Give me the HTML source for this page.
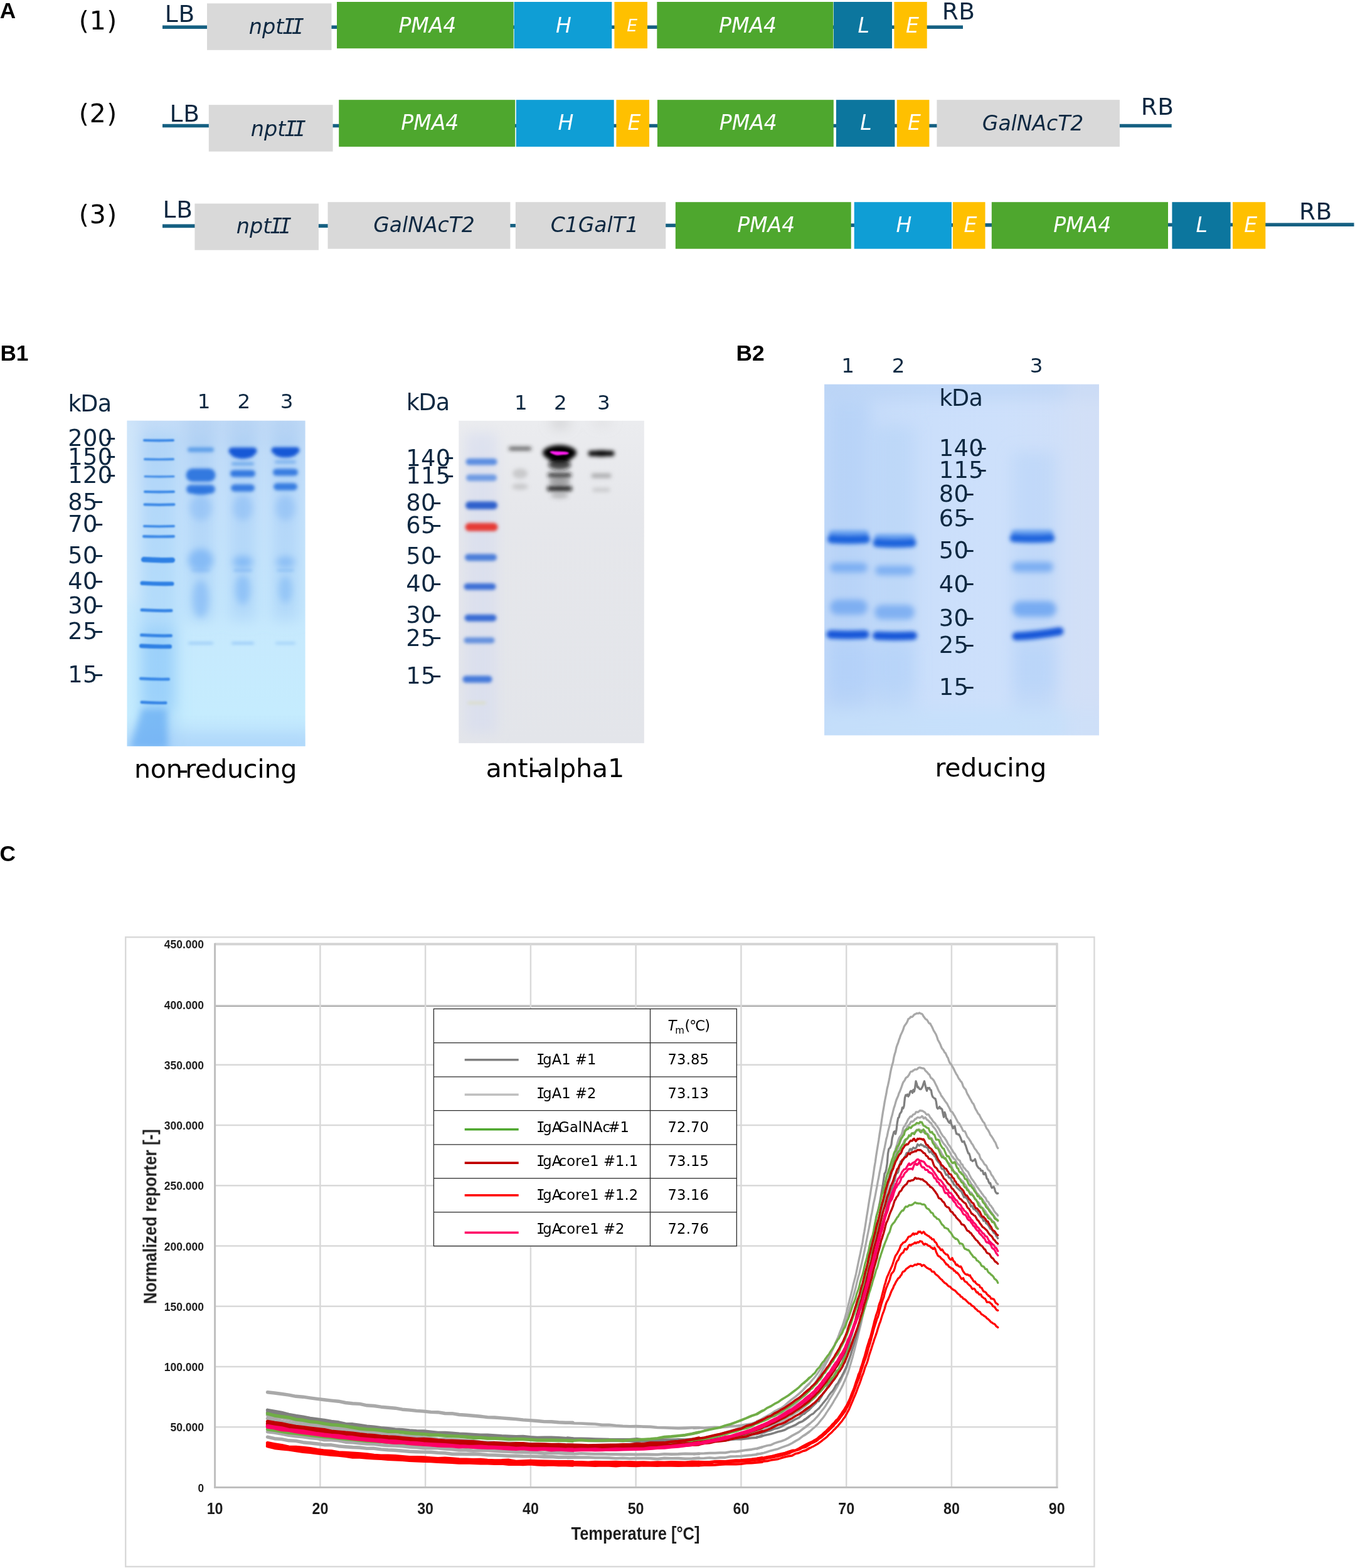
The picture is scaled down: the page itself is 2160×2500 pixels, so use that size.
<!DOCTYPE html>
<html lang="en">
<head>
<meta charset="utf-8">
<title>Figure: IgA1 constructs, SDS-PAGE / western blot, thermal stability</title>
<style>
html,body{margin:0;padding:0;background:#ffffff;}
body{width:2160px;height:2500px;overflow:hidden;font-family:"Liberation Sans","DejaVu Sans",sans-serif;}
#fig{position:absolute;left:0;top:0;width:2160px;height:2500px;display:block;}
</style>
</head>
<body>
<svg id="fig" width="2160" height="2500" viewBox="0 0 2160 2500">
<rect x="0" y="0" width="2160" height="2500" fill="#ffffff"/>
<g id="panelA" font-family="'DejaVu Sans', 'Liberation Sans', sans-serif">
<line x1="259" y1="43.20" x2="1535.0" y2="43.20" stroke="#156082" stroke-width="5.6"/>
<rect x="330.0" y="5.4" width="198.5" height="74.4" fill="#d9d9d9"/>
<rect x="537.0" y="3.0" width="281.6" height="74.2" fill="#4ea72e"/>
<rect x="819.6" y="3.0" width="155.7" height="74.2" fill="#0f9ed5"/>
<rect x="979.4" y="3.0" width="52.6" height="74.2" fill="#ffc000"/>
<rect x="1047.3" y="3.0" width="281.0" height="74.2" fill="#4ea72e"/>
<rect x="1328.9" y="3.0" width="93.1" height="74.2" fill="#0c769e"/>
<rect x="1425.4" y="3.0" width="52.3" height="74.2" fill="#ffc000"/>
<text x="396.8" y="53.6" font-size="33.5" fill="#0e2841" font-style="italic">npt<tspan font-family="'DejaVu Sans Mono', 'Liberation Mono', monospace" letter-spacing="-5.6" dx="-2.2">II</tspan></text>
<text x="681.4" y="52.0" font-size="33" fill="#ffffff" text-anchor="middle" font-style="italic">PMA4</text>
<text x="898.5" y="52.0" font-size="33" fill="#ffffff" text-anchor="middle" font-style="italic">H</text>
<text x="1007.5" y="50.3" font-size="26.5" fill="#ffffff" text-anchor="middle" font-style="italic">E</text>
<text x="1192.0" y="51.6" font-size="33" fill="#ffffff" text-anchor="middle" font-style="italic">PMA4</text>
<text x="1376.6" y="51.6" font-size="33" fill="#ffffff" text-anchor="middle" font-style="italic">L</text>
<text x="1454.5" y="51.6" font-size="33" fill="#ffffff" text-anchor="middle" font-style="italic">E</text>
<text x="156.5" y="47.0" font-size="41" fill="#000000" text-anchor="middle" letter-spacing="1.2">(1)</text>
<text x="262.7" y="34.5" font-size="37.5" fill="#0e2841" text-anchor="start" letter-spacing="0.8">LB</text>
<text x="1501.8" y="30.8" font-size="37.5" fill="#0e2841" text-anchor="start" letter-spacing="0.5">RB</text>
<line x1="259" y1="200.50" x2="1867.7" y2="200.50" stroke="#156082" stroke-width="5.6"/>
<rect x="332.8" y="167.2" width="197.8" height="74.4" fill="#d9d9d9"/>
<rect x="540.2" y="159.2" width="281.0" height="74.7" fill="#4ea72e"/>
<rect x="822.8" y="159.2" width="155.9" height="74.7" fill="#0f9ed5"/>
<rect x="982.4" y="159.2" width="52.6" height="74.7" fill="#ffc000"/>
<rect x="1047.9" y="159.2" width="280.9" height="74.7" fill="#4ea72e"/>
<rect x="1332.9" y="159.2" width="93.5" height="74.7" fill="#0c769e"/>
<rect x="1429.7" y="159.2" width="51.7" height="74.7" fill="#ffc000"/>
<rect x="1493.4" y="159.2" width="291.5" height="74.7" fill="#d9d9d9"/>
<text x="399.8" y="216.5" font-size="33.5" fill="#0e2841" font-style="italic">npt<tspan font-family="'DejaVu Sans Mono', 'Liberation Mono', monospace" letter-spacing="-5.6" dx="-2.2">II</tspan></text>
<text x="685.3" y="207.2" font-size="33" fill="#ffffff" text-anchor="middle" font-style="italic">PMA4</text>
<text x="902.0" y="207.2" font-size="33" fill="#ffffff" text-anchor="middle" font-style="italic">H</text>
<text x="1011.0" y="207.2" font-size="33" fill="#ffffff" text-anchor="middle" font-style="italic">E</text>
<text x="1192.8" y="207.2" font-size="33" fill="#ffffff" text-anchor="middle" font-style="italic">PMA4</text>
<text x="1380.5" y="207.2" font-size="33" fill="#ffffff" text-anchor="middle" font-style="italic">L</text>
<text x="1457.5" y="207.2" font-size="33" fill="#ffffff" text-anchor="middle" font-style="italic">E</text>
<text x="1646.6" y="207.6" font-size="33" fill="#0e2841" text-anchor="middle" font-style="italic">GalNAcT2</text>
<text x="156.5" y="194.7" font-size="41" fill="#000000" text-anchor="middle" letter-spacing="1.2">(2)</text>
<text x="270.5" y="193.7" font-size="37.5" fill="#0e2841" text-anchor="start" letter-spacing="0.8">LB</text>
<text x="1818.8" y="182.6" font-size="37.5" fill="#0e2841" text-anchor="start" letter-spacing="0.5">RB</text>
<line x1="259" y1="360.40" x2="2158.5" y2="358.10" stroke="#156082" stroke-width="5.6"/>
<rect x="310.4" y="324.6" width="197.5" height="74.1" fill="#d9d9d9"/>
<rect x="522.5" y="322.2" width="290.9" height="74.5" fill="#d9d9d9"/>
<rect x="821.8" y="322.2" width="239.4" height="74.5" fill="#d9d9d9"/>
<rect x="1076.8" y="322.2" width="279.9" height="74.5" fill="#4ea72e"/>
<rect x="1361.7" y="322.2" width="155.2" height="74.5" fill="#0f9ed5"/>
<rect x="1518.9" y="322.2" width="51.6" height="74.5" fill="#ffc000"/>
<rect x="1580.8" y="322.2" width="281.2" height="74.5" fill="#4ea72e"/>
<rect x="1868.4" y="322.2" width="93.2" height="74.5" fill="#0c769e"/>
<rect x="1965.0" y="322.2" width="52.3" height="74.5" fill="#ffc000"/>
<text x="376.7" y="372.2" font-size="33.5" fill="#0e2841" font-style="italic">npt<tspan font-family="'DejaVu Sans Mono', 'Liberation Mono', monospace" letter-spacing="-5.6" dx="-2.2">II</tspan></text>
<text x="676.0" y="369.8" font-size="33" fill="#0e2841" text-anchor="middle" font-style="italic">GalNAcT2</text>
<text x="947.8" y="369.8" font-size="33" fill="#0e2841" text-anchor="middle" font-style="italic">C1GalT1</text>
<text x="1221.2" y="369.8" font-size="33" fill="#ffffff" text-anchor="middle" font-style="italic">PMA4</text>
<text x="1441.0" y="369.8" font-size="33" fill="#ffffff" text-anchor="middle" font-style="italic">H</text>
<text x="1547.0" y="369.8" font-size="33" fill="#ffffff" text-anchor="middle" font-style="italic">E</text>
<text x="1725.2" y="369.8" font-size="33" fill="#ffffff" text-anchor="middle" font-style="italic">PMA4</text>
<text x="1915.6" y="369.8" font-size="33" fill="#ffffff" text-anchor="middle" font-style="italic">L</text>
<text x="1993.6" y="369.8" font-size="33" fill="#ffffff" text-anchor="middle" font-style="italic">E</text>
<text x="156.5" y="356.4" font-size="41" fill="#000000" text-anchor="middle" letter-spacing="1.2">(3)</text>
<text x="259.5" y="347.0" font-size="37.5" fill="#0e2841" text-anchor="start" letter-spacing="0.8">LB</text>
<text x="2070.9" y="350.4" font-size="37.5" fill="#0e2841" text-anchor="start" letter-spacing="0.5">RB</text>
</g>
<g id="panelLabels" font-family="'Liberation Sans', sans-serif" font-weight="bold" font-size="35.2" fill="#000000">
<text x="-0.3" y="28.8">A</text>
<text x="0.4" y="574.6">B1</text>
<text x="1173.6" y="574.6">B2</text>
<text x="-0.6" y="1373.4">C</text>
</g>
<g id="gel-nonreducing">
<defs>
<clipPath id="g1clip"><rect x="202.5" y="670.7" width="284.1" height="519.1"/></clipPath>
<filter id="b1" filterUnits="userSpaceOnUse" x="150" y="620" width="400" height="620"><feGaussianBlur stdDeviation="1.3"/></filter>
<filter id="b2" filterUnits="userSpaceOnUse" x="150" y="620" width="400" height="620"><feGaussianBlur stdDeviation="2.4"/></filter>
<filter id="b6" filterUnits="userSpaceOnUse" x="150" y="620" width="400" height="620"><feGaussianBlur stdDeviation="6"/></filter>
<filter id="b12" filterUnits="userSpaceOnUse" x="150" y="620" width="400" height="620"><feGaussianBlur stdDeviation="11"/></filter>
<linearGradient id="g1bg" x1="0" y1="0" x2="0" y2="1">
<stop offset="0" stop-color="#c3dcf7"/><stop offset="0.25" stop-color="#c8e3fb"/><stop offset="0.6" stop-color="#c7e9fd"/><stop offset="0.9" stop-color="#c5ecfe"/><stop offset="1" stop-color="#bce1fc"/>
</linearGradient>
</defs>
<rect x="202.5" y="670.7" width="284.1" height="519.1" rx="0" fill="url(#g1bg)" fill-opacity="1.0"/>
<g clip-path="url(#g1clip)">
<g filter="url(#b12)">
<rect x="222.0" y="690.0" width="60.0" height="520.0" rx="0" fill="#8cc4f8" fill-opacity="0.36"/>
<rect x="190.0" y="660.0" width="30.0" height="300.0" rx="0" fill="#d8ecfc" fill-opacity="0.6"/>
<rect x="298.0" y="700.0" width="44.0" height="290.0" rx="0" fill="#8fc0f4" fill-opacity="0.36"/>
<rect x="294.0" y="660.0" width="52.0" height="50.0" rx="0" fill="#9fc4ee" fill-opacity="0.35"/>
<rect x="365.0" y="700.0" width="44.0" height="290.0" rx="0" fill="#8fc0f4" fill-opacity="0.36"/>
<rect x="361.0" y="660.0" width="52.0" height="50.0" rx="0" fill="#9fc4ee" fill-opacity="0.35"/>
<rect x="433.0" y="700.0" width="44.0" height="290.0" rx="0" fill="#8fc0f4" fill-opacity="0.36"/>
<rect x="429.0" y="660.0" width="52.0" height="50.0" rx="0" fill="#9fc4ee" fill-opacity="0.35"/>
<rect x="200.0" y="1168.0" width="300.0" height="40.0" rx="0" fill="#a9d2fa" fill-opacity="0.6"/>
<rect x="226.0" y="1000.0" width="52.0" height="130.0" rx="0" fill="#7cc0fa" fill-opacity="0.4"/>
</g>
<g filter="url(#b6)">
<ellipse cx="320.0" cy="893.0" rx="20.0" ry="18.0" fill="#5fa3f2" fill-opacity="0.55"/>
<ellipse cx="387.0" cy="896.0" rx="16.0" ry="10.0" fill="#5fa3f2" fill-opacity="0.55"/>
<ellipse cx="455.0" cy="896.0" rx="15.0" ry="9.0" fill="#5fa3f2" fill-opacity="0.5"/>
<ellipse cx="320.0" cy="955.0" rx="13.0" ry="30.0" fill="#5fa3f2" fill-opacity="0.4"/>
<ellipse cx="387.0" cy="940.0" rx="12.0" ry="24.0" fill="#5fa3f2" fill-opacity="0.42"/>
<ellipse cx="455.0" cy="940.0" rx="11.0" ry="22.0" fill="#5fa3f2" fill-opacity="0.36"/>
<ellipse cx="320.0" cy="810.0" rx="18.0" ry="20.0" fill="#5fa3f2" fill-opacity="0.3"/>
<ellipse cx="387.0" cy="810.0" rx="16.0" ry="20.0" fill="#5fa3f2" fill-opacity="0.3"/>
<ellipse cx="455.0" cy="810.0" rx="16.0" ry="20.0" fill="#5fa3f2" fill-opacity="0.3"/>
<path d="M226,1130 L266,1130 L268,1195 L206,1195 Z" fill="#5ba4f2" fill-opacity="0.62"/>
</g>
<g filter="url(#b1)">
<path d="M230.1,702.0 Q253.0,702.9 275.9,702.0" fill="none" stroke="#2f80e4" stroke-opacity="0.9" stroke-width="4.2" stroke-linecap="round"/>
<path d="M230.8,732.1 Q253.5,733.0 276.2,732.1" fill="none" stroke="#2f80e4" stroke-opacity="0.85" stroke-width="3.6" stroke-linecap="round"/>
<path d="M231.2,759.6 Q254.0,760.5 276.8,759.6" fill="none" stroke="#2f80e4" stroke-opacity="0.85" stroke-width="3.4" stroke-linecap="round"/>
<path d="M231.1,784.0 Q254.0,784.9 276.9,784.0" fill="none" stroke="#2f80e4" stroke-opacity="0.9" stroke-width="4.2" stroke-linecap="round"/>
<path d="M230.7,804.4 Q254.0,805.3 277.3,804.4" fill="none" stroke="#2f80e4" stroke-opacity="0.9" stroke-width="4.4" stroke-linecap="round"/>
<path d="M229.9,838.9 Q253.5,839.8 277.1,838.9" fill="none" stroke="#2f80e4" stroke-opacity="0.9" stroke-width="3.8" stroke-linecap="round"/>
<path d="M229.2,855.2 Q253.0,856.1 276.8,855.2" fill="none" stroke="#2f80e4" stroke-opacity="0.9" stroke-width="4.4" stroke-linecap="round"/>
<path d="M229.2,892.1 Q252.0,893.5 274.8,893.1" fill="none" stroke="#2f80e4" stroke-opacity="1.0" stroke-width="8.5" stroke-linecap="round"/>
<path d="M226.8,929.8 Q250.5,931.2 274.2,930.8" fill="none" stroke="#2f80e4" stroke-opacity="1.0" stroke-width="6.6" stroke-linecap="round"/>
<path d="M226.0,972.6 Q249.5,974.0 273.0,973.6" fill="none" stroke="#2f80e4" stroke-opacity="0.95" stroke-width="5.0" stroke-linecap="round"/>
<path d="M225.5,1012.6 Q249.0,1014.0 272.5,1013.6" fill="none" stroke="#2f80e4" stroke-opacity="0.95" stroke-width="5.0" stroke-linecap="round"/>
<path d="M225.3,1029.9 Q248.0,1031.3 270.7,1030.9" fill="none" stroke="#2f80e4" stroke-opacity="1.0" stroke-width="6.6" stroke-linecap="round"/>
<path d="M224.3,1081.9 Q246.5,1083.3 268.7,1082.9" fill="none" stroke="#2f80e4" stroke-opacity="0.9" stroke-width="4.6" stroke-linecap="round"/>
<path d="M225.8,1119.6 Q245.0,1121.0 264.2,1120.6" fill="none" stroke="#2f80e4" stroke-opacity="0.95" stroke-width="4.6" stroke-linecap="round"/>
</g>
<g filter="url(#b2)">
<rect x="299.0" y="713.2" width="42.0" height="7.5" rx="3.8" fill="#4f95e6" fill-opacity="0.85"/>
<rect x="296.5" y="747.0" width="47.0" height="21.0" rx="10.5" fill="#2a74de" fill-opacity="0.95"/>
<rect x="297.0" y="773.0" width="46.0" height="14.0" rx="7.0" fill="#2a74de" fill-opacity="0.92"/>
<ellipse cx="320.0" cy="783.5" rx="17.0" ry="5.5" fill="#2a74de" fill-opacity="0.8"/>
<rect x="364.5" y="713.5" width="45.0" height="11.0" rx="5.5" fill="#1659d6" fill-opacity="1"/>
<ellipse cx="387.0" cy="723.0" rx="19.0" ry="8.5" fill="#1659d6" fill-opacity="1"/>
<rect x="369.0" y="737.0" width="36.0" height="5.0" rx="2.5" fill="#4f95e6" fill-opacity="0.7"/>
<rect x="367.0" y="749.5" width="40.0" height="11.0" rx="5.5" fill="#2a74de" fill-opacity="0.95"/>
<rect x="368.0" y="772.2" width="38.0" height="11.5" rx="5.8" fill="#2a74de" fill-opacity="0.92"/>
<rect x="432.5" y="713.0" width="45.0" height="10.0" rx="5.0" fill="#1659d6" fill-opacity="1"/>
<ellipse cx="455.0" cy="721.5" rx="19.0" ry="8.0" fill="#1659d6" fill-opacity="1"/>
<rect x="438.0" y="734.2" width="34.0" height="4.5" rx="2.2" fill="#4f95e6" fill-opacity="0.6"/>
<rect x="435.0" y="747.5" width="40.0" height="11.0" rx="5.5" fill="#2a74de" fill-opacity="0.92"/>
<rect x="436.0" y="770.2" width="38.0" height="11.5" rx="5.8" fill="#2a74de" fill-opacity="0.9"/>
<rect x="305.0" y="908.0" width="30.0" height="3.0" rx="1.5" fill="#5a9ff0" fill-opacity="0.35"/>
<rect x="372.0" y="908.0" width="30.0" height="3.0" rx="1.5" fill="#5a9ff0" fill-opacity="0.6"/>
<rect x="441.0" y="908.0" width="28.0" height="3.0" rx="1.5" fill="#5a9ff0" fill-opacity="0.5"/>
<rect x="300.0" y="1024.0" width="40.0" height="3.0" rx="1.5" fill="#6aaaf2" fill-opacity="0.6"/>
<rect x="369.0" y="1024.0" width="36.0" height="3.0" rx="1.5" fill="#6aaaf2" fill-opacity="0.65"/>
<rect x="439.0" y="1024.0" width="32.0" height="3.0" rx="1.5" fill="#6aaaf2" fill-opacity="0.5"/>
</g>
</g>
<g font-family="'DejaVu Sans', 'Liberation Sans', sans-serif" fill="#0e2841">
<text x="108.6" y="655.8" font-size="36.6">k<tspan dx="-1.6">D</tspan><tspan dx="-0.6">a</tspan></text>
<text x="325.2" y="651.4" font-size="32.5" text-anchor="middle">1</text>
<text x="388.9" y="651.4" font-size="32.5" text-anchor="middle">2</text>
<text x="457" y="651.4" font-size="32.5" text-anchor="middle">3</text>
</g>
<g font-family="'DejaVu Sans', 'Liberation Sans', sans-serif" font-size="36.8" fill="#0e2841">
<text x="108.2" y="711.4" letter-spacing="0.4">200</text>
<text transform="translate(168.0,710.2) scale(1.32,1)">-</text>
<text x="108.2" y="740.6" letter-spacing="0.4">150</text>
<text transform="translate(168.0,739.4) scale(1.32,1)">-</text>
<text x="108.2" y="769.7" letter-spacing="0.4">120</text>
<text transform="translate(168.0,768.5) scale(1.32,1)">-</text>
<text x="108.2" y="812.6" letter-spacing="0.4">85</text>
<text transform="translate(147.9,811.4) scale(1.32,1)">-</text>
<text x="108.2" y="847.9" letter-spacing="0.4">70</text>
<text transform="translate(147.9,846.7) scale(1.32,1)">-</text>
<text x="108.2" y="898.1" letter-spacing="0.4">50</text>
<text transform="translate(147.9,896.9) scale(1.32,1)">-</text>
<text x="108.2" y="938.7" letter-spacing="0.4">40</text>
<text transform="translate(147.9,937.5) scale(1.32,1)">-</text>
<text x="108.2" y="978.2" letter-spacing="0.4">30</text>
<text transform="translate(147.9,977.0) scale(1.32,1)">-</text>
<text x="108.2" y="1019.1" letter-spacing="0.4">25</text>
<text transform="translate(147.9,1017.9) scale(1.32,1)">-</text>
<text x="108.2" y="1088.2" letter-spacing="0.4">15</text>
<text transform="translate(147.9,1087.0) scale(1.32,1)">-</text>
</g>
<text x="214" y="1240.4" font-family="'DejaVu Sans', 'Liberation Sans', sans-serif" font-size="41.3" fill="#000000" letter-spacing="-0.3">non<tspan dx="-6.5" dy="1.2" font-size="45">-</tspan><tspan dx="-5" dy="-1.2">reducing</tspan></text>
</g>
<g id="blot-anti-alpha1">
<defs>
<clipPath id="wbclip"><rect x="731.3" y="670.8" width="295.5" height="514.1"/></clipPath>
<filter id="w2" filterUnits="userSpaceOnUse" x="700" y="640" width="360" height="580"><feGaussianBlur stdDeviation="2.7"/></filter>
<filter id="w3" filterUnits="userSpaceOnUse" x="700" y="640" width="360" height="580"><feGaussianBlur stdDeviation="3.2"/></filter>
<filter id="w1" filterUnits="userSpaceOnUse" x="700" y="640" width="360" height="580"><feGaussianBlur stdDeviation="0.8"/></filter>
<filter id="w10" filterUnits="userSpaceOnUse" x="700" y="640" width="360" height="580"><feGaussianBlur stdDeviation="10"/></filter>
<linearGradient id="wbbg" x1="0" y1="0" x2="0" y2="1">
<stop offset="0" stop-color="#ebecef"/><stop offset="0.3" stop-color="#e6e7eb"/><stop offset="1" stop-color="#e3e5ea"/>
</linearGradient>
</defs>
<rect x="731.3" y="670.8" width="295.5" height="514.1" rx="0" fill="url(#wbbg)" fill-opacity="1.0"/>
<g clip-path="url(#wbclip)">
<g filter="url(#w10)">
<rect x="742.0" y="690.0" width="50.0" height="480.0" rx="0" fill="#d5dcf0" fill-opacity="0.6"/>
<ellipse cx="893.0" cy="674.0" rx="16.0" ry="8.0" fill="#b0b0b0" fill-opacity="0.5"/>
<ellipse cx="960.0" cy="672.0" rx="14.0" ry="6.0" fill="#c0c0c0" fill-opacity="0.4"/>
</g>
<g filter="url(#w2)">
<rect x="742.5" y="731.1" width="50.0" height="10.5" rx="5.2" fill="#5589e0" fill-opacity="0.95"/>
<rect x="743.0" y="756.4" width="49.0" height="10.5" rx="5.2" fill="#6493e2" fill-opacity="0.9"/>
<rect x="742.0" y="799.5" width="51.0" height="12.5" rx="6.2" fill="#2d60cc" fill-opacity="1"/>
<rect x="741.5" y="833.8" width="52.0" height="13.0" rx="6.5" fill="#e63a36" fill-opacity="1"/>
<rect x="741.0" y="883.2" width="51.0" height="11.0" rx="5.5" fill="#4579d8" fill-opacity="0.95"/>
<rect x="739.5" y="930.0" width="51.0" height="10.5" rx="5.2" fill="#3c70d6" fill-opacity="1"/>
<rect x="740.5" y="979.7" width="51.0" height="11.0" rx="5.5" fill="#386cd4" fill-opacity="1"/>
<rect x="739.5" y="1016.2" width="49.0" height="9.5" rx="4.8" fill="#5687dc" fill-opacity="0.9"/>
<rect x="737.5" y="1077.5" width="47.0" height="11.0" rx="5.5" fill="#4579da" fill-opacity="1"/>
<rect x="745.0" y="1118.7" width="30.0" height="4.0" rx="2.0" fill="#d8dcae" fill-opacity="0.6"/>
</g>
<g filter="url(#w3)">
<rect x="811.0" y="712.8" width="36.0" height="5.0" rx="2.5" fill="#2a2a2a" fill-opacity="0.85"/>
<ellipse cx="829.0" cy="755.0" rx="12.0" ry="8.0" fill="#9a9a9a" fill-opacity="0.4"/>
<ellipse cx="829.0" cy="776.0" rx="13.0" ry="5.0" fill="#9a9a9a" fill-opacity="0.4"/>
<ellipse cx="892.0" cy="722.0" rx="27.0" ry="12.5" fill="#000000" fill-opacity="1"/>
<ellipse cx="892.0" cy="726.0" rx="22.0" ry="11.0" fill="#000000" fill-opacity="1"/>
<ellipse cx="892.0" cy="741.0" rx="18.0" ry="8.0" fill="#111111" fill-opacity="0.75"/>
<rect x="873.0" y="754.0" width="38.0" height="7.0" rx="3.5" fill="#1a1a1a" fill-opacity="0.85"/>
<ellipse cx="892.0" cy="768.0" rx="17.0" ry="6.0" fill="#444" fill-opacity="0.45"/>
<rect x="872.0" y="775.2" width="40.0" height="7.5" rx="3.8" fill="#0a0a0a" fill-opacity="0.95"/>
<ellipse cx="892.0" cy="790.0" rx="14.0" ry="5.0" fill="#555" fill-opacity="0.3"/>
<rect x="937.5" y="718.8" width="42.0" height="8.5" rx="4.2" fill="#000000" fill-opacity="1"/>
<ellipse cx="958.5" cy="723.0" rx="17.0" ry="5.0" fill="#000000" fill-opacity="1"/>
<rect x="942.5" y="755.0" width="32.0" height="7.0" rx="3.5" fill="#777" fill-opacity="0.55"/>
<rect x="944.5" y="778.0" width="28.0" height="6.0" rx="3.0" fill="#999" fill-opacity="0.4"/>
</g>
<g filter="url(#w1)">
<path d="M876,720.6 Q878.5,718.6 884,719.4 L898,720 Q905.5,720 907,722.6 Q906,725.4 898,725 L889,726 Q881.5,725.6 876,720.6 Z" fill="#ff1af0"/>
</g>
</g>
<g font-family="'DejaVu Sans', 'Liberation Sans', sans-serif" fill="#0e2841">
<text x="647.7" y="654" font-size="36.6">k<tspan dx="-1.6">D</tspan><tspan dx="-0.6">a</tspan></text>
<text x="830.4" y="652.6" font-size="32.5" text-anchor="middle">1</text>
<text x="893.3" y="652.6" font-size="32.5" text-anchor="middle">2</text>
<text x="962.3" y="652.6" font-size="32.5" text-anchor="middle">3</text>
</g>
<g font-family="'DejaVu Sans', 'Liberation Sans', sans-serif" font-size="36.8" fill="#0e2841">
<text x="647.2" y="742.5" letter-spacing="0.4">140</text>
<text transform="translate(707.0,741.3) scale(1.32,1)">-</text>
<text x="647.2" y="771.0" letter-spacing="0.4">115</text>
<text transform="translate(707.0,769.8) scale(1.32,1)">-</text>
<text x="647.2" y="814.2" letter-spacing="0.4">80</text>
<text transform="translate(686.9,813.0) scale(1.32,1)">-</text>
<text x="647.2" y="849.7" letter-spacing="0.4">65</text>
<text transform="translate(686.9,848.5) scale(1.32,1)">-</text>
<text x="647.2" y="899.4" letter-spacing="0.4">50</text>
<text transform="translate(686.9,898.2) scale(1.32,1)">-</text>
<text x="647.2" y="942.8" letter-spacing="0.4">40</text>
<text transform="translate(686.9,941.6) scale(1.32,1)">-</text>
<text x="647.2" y="993.2" letter-spacing="0.4">30</text>
<text transform="translate(686.9,992.0) scale(1.32,1)">-</text>
<text x="647.2" y="1029.5" letter-spacing="0.4">25</text>
<text transform="translate(686.9,1028.3) scale(1.32,1)">-</text>
<text x="647.2" y="1090.4" letter-spacing="0.4">15</text>
<text transform="translate(686.9,1089.2) scale(1.32,1)">-</text>
</g>
<text x="774.5" y="1239.4" font-family="'DejaVu Sans', 'Liberation Sans', sans-serif" font-size="41.3" fill="#000000" letter-spacing="-0.3">anti<tspan dx="-7.5" dy="1.2" font-size="45">-</tspan><tspan dx="-5" dy="-1.2">alpha1</tspan></text>
</g>
<g id="gel-reducing">
<defs>
<clipPath id="g2clip"><rect x="1314.1" y="612.8" width="437.9" height="559.5"/></clipPath>
<filter id="r3" filterUnits="userSpaceOnUse" x="1280" y="580" width="520" height="640"><feGaussianBlur stdDeviation="3.4"/></filter>
<filter id="r5" filterUnits="userSpaceOnUse" x="1280" y="580" width="520" height="640"><feGaussianBlur stdDeviation="5"/></filter>
<filter id="r14" filterUnits="userSpaceOnUse" x="1280" y="580" width="520" height="640"><feGaussianBlur stdDeviation="12"/></filter>
<linearGradient id="g2bg" x1="0" y1="0" x2="1" y2="0">
<stop offset="0" stop-color="#c2d9f8"/><stop offset="0.4" stop-color="#cbdffb"/><stop offset="0.62" stop-color="#cde0fb"/><stop offset="1" stop-color="#d0dff8"/>
</linearGradient>
</defs>
<rect x="1314.1" y="612.8" width="437.9" height="559.5" rx="0" fill="url(#g2bg)" fill-opacity="1.0"/>
<g clip-path="url(#g2clip)">
<g filter="url(#r14)">
<rect x="1300.0" y="600.0" width="470.0" height="36.0" rx="0" fill="#b4cff4" fill-opacity="0.5"/>
<rect x="1320.0" y="640.0" width="66.0" height="490.0" rx="0" fill="#a4c8f6" fill-opacity="0.36"/>
<rect x="1394.0" y="680.0" width="64.0" height="450.0" rx="0" fill="#a9ccf6" fill-opacity="0.32"/>
<rect x="1613.0" y="720.0" width="70.0" height="410.0" rx="0" fill="#a9ccf6" fill-opacity="0.36"/>
<rect x="1320.0" y="1030.0" width="140.0" height="70.0" rx="0" fill="#a0c8f8" fill-opacity="0.2"/>
<rect x="1616.0" y="1030.0" width="70.0" height="70.0" rx="0" fill="#a0c8f8" fill-opacity="0.18"/>
<rect x="1300.0" y="1130.0" width="470.0" height="60.0" rx="0" fill="#c4e0fb" fill-opacity="0.7"/>
<rect x="1700.0" y="600.0" width="70.0" height="600.0" rx="0" fill="#d3e0f5" fill-opacity="0.5"/>
</g>
<g filter="url(#r5)">
<rect x="1323.0" y="897.5" width="60.0" height="15.0" rx="7.5" fill="#5295ee" fill-opacity="0.6"/>
<rect x="1395.0" y="902.0" width="62.0" height="15.0" rx="7.5" fill="#5295ee" fill-opacity="0.6"/>
<rect x="1613.0" y="896.0" width="66.0" height="16.0" rx="8.0" fill="#5295ee" fill-opacity="0.64"/>
<rect x="1323.0" y="956.0" width="60.0" height="24.0" rx="12.0" fill="#5295ee" fill-opacity="0.58"/>
<rect x="1394.0" y="964.5" width="64.0" height="23.0" rx="11.5" fill="#5295ee" fill-opacity="0.58"/>
<rect x="1614.0" y="958.5" width="70.0" height="25.0" rx="12.5" fill="#5295ee" fill-opacity="0.66"/>
</g>
<g filter="url(#r3)">
<path d="M1327.0,852.0 Q1353.0,852.0 1379.0,852.0" fill="none" stroke="#4d90ec" stroke-opacity="0.75" stroke-width="12.8" stroke-linecap="round"/>
<path d="M1325.8,859.5 Q1353.0,861.5 1380.2,859.5" fill="none" stroke="#1d63dc" stroke-opacity="1" stroke-width="13.6" stroke-linecap="round"/>
<path d="M1399.5,858.0 Q1426.0,858.0 1452.5,858.0" fill="none" stroke="#4d90ec" stroke-opacity="0.75" stroke-width="12.8" stroke-linecap="round"/>
<path d="M1398.3,865.5 Q1426.0,867.5 1453.7,865.5" fill="none" stroke="#1d63dc" stroke-opacity="1" stroke-width="13.6" stroke-linecap="round"/>
<path d="M1617.5,850.5 Q1645.5,850.5 1673.5,850.5" fill="none" stroke="#4d90ec" stroke-opacity="0.75" stroke-width="12.0" stroke-linecap="round"/>
<path d="M1616.0,858.0 Q1645.5,860.0 1675.0,858.0" fill="none" stroke="#1d63dc" stroke-opacity="0.98" stroke-width="12.8" stroke-linecap="round"/>
<path d="M1324.2,1011.5 Q1351.5,1013.1 1378.8,1011.5" fill="none" stroke="#1557d8" stroke-opacity="1" stroke-width="13.5" stroke-linecap="round"/>
<path d="M1397.8,1013.5 Q1426.5,1015.1 1455.2,1013.5" fill="none" stroke="#1557d8" stroke-opacity="1" stroke-width="13.5" stroke-linecap="round"/>
<path d="M1620,1014.5 Q1650,1013.5 1689,1006.5" fill="none" stroke="#1557d8" stroke-width="13" stroke-linecap="round"/>
</g>
</g>
<g font-family="'DejaVu Sans', 'Liberation Sans', sans-serif" fill="#0e2841">
<text x="1497.3" y="647" font-size="36.6">k<tspan dx="-1.6">D</tspan><tspan dx="-0.6">a</tspan></text>
<text x="1351.5" y="594.3" font-size="32.5" text-anchor="middle">1</text>
<text x="1432" y="594.3" font-size="32.5" text-anchor="middle">2</text>
<text x="1652" y="594.3" font-size="32.5" text-anchor="middle">3</text>
</g>
<g font-family="'DejaVu Sans', 'Liberation Sans', sans-serif" font-size="36.8" fill="#0e2841">
<text x="1496.7" y="727.0" letter-spacing="0.4">140</text>
<text transform="translate(1556.5,725.8) scale(1.32,1)">-</text>
<text x="1496.7" y="762.3" letter-spacing="0.4">115</text>
<text transform="translate(1556.5,761.1) scale(1.32,1)">-</text>
<text x="1496.7" y="800.4" letter-spacing="0.4">80</text>
<text transform="translate(1536.4,799.2) scale(1.32,1)">-</text>
<text x="1496.7" y="839.0" letter-spacing="0.4">65</text>
<text transform="translate(1536.4,837.8) scale(1.32,1)">-</text>
<text x="1496.7" y="889.7" letter-spacing="0.4">50</text>
<text transform="translate(1536.4,888.5) scale(1.32,1)">-</text>
<text x="1496.7" y="943.5" letter-spacing="0.4">40</text>
<text transform="translate(1536.4,942.3) scale(1.32,1)">-</text>
<text x="1496.7" y="998.0" letter-spacing="0.4">30</text>
<text transform="translate(1536.4,996.8) scale(1.32,1)">-</text>
<text x="1496.7" y="1040.8" letter-spacing="0.4">25</text>
<text transform="translate(1536.4,1039.6) scale(1.32,1)">-</text>
<text x="1496.7" y="1108.0" letter-spacing="0.4">15</text>
<text transform="translate(1536.4,1106.8) scale(1.32,1)">-</text>
</g>
<text x="1490.5" y="1237.7" font-family="'DejaVu Sans', 'Liberation Sans', sans-serif" font-size="41" fill="#000000" letter-spacing="-0.2">reducing</text>
</g>
<g id="panelC">
<defs><filter id="cblur" filterUnits="userSpaceOnUse" x="190" y="1480" width="1570" height="1020"><feGaussianBlur stdDeviation="0.55"/></filter></defs>
<rect x="200.2" y="1494.2" width="1544.2" height="1003.6" fill="#ffffff" stroke="#d9d9d9" stroke-width="2.4"/>
<g filter="url(#cblur)">
<g stroke="#d9d9d9" stroke-width="2.5" fill="none">
<line x1="342.6" y1="2275.2" x2="1686.2" y2="2275.2"/>
<line x1="342.6" y1="2179.0" x2="1686.2" y2="2179.0"/>
<line x1="342.6" y1="2082.8" x2="1686.2" y2="2082.8"/>
<line x1="342.6" y1="1986.5" x2="1686.2" y2="1986.5"/>
<line x1="342.6" y1="1890.2" x2="1686.2" y2="1890.2"/>
<line x1="342.6" y1="1794.0" x2="1686.2" y2="1794.0"/>
<line x1="342.6" y1="1697.8" x2="1686.2" y2="1697.8"/>
</g>
<line x1="342.6" y1="1505.2" x2="1686.2" y2="1505.2" stroke="#d4d4d4" stroke-width="4"/>
<line x1="342.6" y1="1602.4" x2="1684.7" y2="1602.4" stroke="#e9e9e9" stroke-width="2.4"/>
<line x1="342.6" y1="1604.1" x2="1684.7" y2="1604.1" stroke="#7a7a7a" stroke-width="1.3"/>
<g stroke="#d9d9d9" stroke-width="2.5" fill="none">
<line x1="510.4" y1="1505.2" x2="510.4" y2="2371.5"/>
<line x1="678.1" y1="1505.2" x2="678.1" y2="2371.5"/>
<line x1="845.9" y1="1505.2" x2="845.9" y2="2371.5"/>
<line x1="1013.6" y1="1505.2" x2="1013.6" y2="2371.5"/>
<line x1="1181.4" y1="1505.2" x2="1181.4" y2="2371.5"/>
<line x1="1349.2" y1="1505.2" x2="1349.2" y2="2371.5"/>
<line x1="1516.9" y1="1505.2" x2="1516.9" y2="2371.5"/>
<line x1="1684.7" y1="1505.2" x2="1684.7" y2="2371.5"/>
</g>
<line x1="1685.0" y1="1503.8" x2="1685.0" y2="2373.0" stroke="#d4d4d4" stroke-width="3.4"/>
<line x1="342.6" y1="1503.8" x2="342.6" y2="2373.0" stroke="#bfbfbf" stroke-width="3"/>
<line x1="341.1" y1="2371.5" x2="1686.2" y2="2371.5" stroke="#bfbfbf" stroke-width="3"/>
<g fill="none" stroke-linejoin="round" stroke-linecap="round">
<path d="M426.5,2219.8 L437.8,2221.0 L449.1,2222.5 L460.4,2224.2 L471.7,2226.3 L483.1,2227.2 L494.4,2228.8 L505.7,2230.4 L517.0,2231.8 L528.3,2233.1 L539.6,2234.2 L550.9,2236.5 L562.2,2237.7 L573.6,2238.4 L584.9,2240.8 L596.2,2241.5 L607.5,2243.2 L618.8,2244.2 L630.1,2245.2 L641.4,2247.2 L652.8,2248.1 L664.1,2249.4 L675.4,2250.1 L686.7,2251.4 L698.0,2251.7 L709.3,2253.5 L720.6,2253.7 L732.0,2255.5 L743.3,2256.2 L754.6,2257.3 L765.9,2258.3 L777.2,2259.6 L788.5,2260.0 L799.8,2260.9 L811.2,2261.8 L822.5,2262.6 L833.8,2263.9 L845.1,2264.6 L856.4,2265.5 L867.7,2266.6 L879.0,2266.7 L890.4,2267.8 L901.7,2268.3 L913.0,2268.2" stroke="#a9a9a9" stroke-width="5.4"/>
<path d="M904.6,2268.4 L915.6,2269.2 L926.7,2269.5 L937.7,2270.1 L948.7,2270.5 L959.8,2271.9 L970.8,2271.7 L981.9,2273.0 L992.9,2273.8 L1003.9,2274.3 L1015.0,2274.1 L1026.0,2274.6 L1037.0,2274.9 L1048.1,2276.0 L1059.1,2276.2 L1070.1,2276.8 L1081.2,2277.3 L1092.2,2276.9 L1103.3,2276.3 L1114.3,2276.3" stroke="#a9a9a9" stroke-width="4.6"/>
<path d="M1105.9,2277.1 L1114.3,2276.3 L1122.7,2276.7 L1131.1,2276.1 L1139.5,2275.6 L1147.8,2275.7 L1156.2,2275.3 L1164.6,2274.1 L1173.0,2273.6 L1181.4,2272.7 L1189.8,2271.2 L1198.2,2269.9 L1206.6,2267.6 L1215.0,2265.6" stroke="#a9a9a9" stroke-width="4.0"/>
<path d="M1206.6,2267.5 L1212.2,2266.5 L1217.7,2264.4 L1223.3,2262.9 L1228.9,2259.7 L1234.5,2257.8 L1240.1,2255.2 L1245.7,2253.2 L1251.3,2249.4 L1256.9,2246.1 L1262.5,2241.6 L1268.1,2238.2 L1273.7,2232.8 L1279.3,2227.5 L1284.9,2222.8 L1290.4,2216.4" stroke="#a9a9a9" stroke-width="3.6"/>
<path d="M1282.1,2225.3 L1283.4,2223.8 L1284.8,2222.3 L1286.1,2220.8 L1287.4,2219.6 L1288.8,2218.3 L1290.1,2216.7 L1291.5,2215.2 L1292.8,2213.5 L1294.2,2211.9 L1295.5,2210.0 L1296.9,2208.2 L1298.2,2206.3 L1299.6,2204.2 L1300.9,2202.4 L1302.3,2200.4 L1303.6,2198.0 L1305.0,2195.8 L1306.3,2193.5 L1307.7,2191.3 L1309.0,2188.8 L1310.4,2186.0 L1311.7,2183.4 L1313.1,2181.3 L1314.4,2178.4 L1315.8,2175.7 L1317.1,2173.0 L1318.5,2170.6 L1319.8,2168.2 L1321.1,2165.4 L1322.5,2162.9 L1323.8,2160.2 L1325.2,2156.9 L1326.5,2153.8 L1327.9,2150.8 L1329.2,2147.8 L1330.6,2144.7 L1331.9,2140.8 L1333.3,2137.8 L1334.6,2134.8 L1336.0,2131.6 L1337.3,2128.4 L1338.7,2124.4 L1340.0,2121.1 L1341.4,2117.7 L1342.7,2114.4 L1344.1,2110.6 L1345.4,2106.1 L1346.8,2101.7 L1348.1,2096.8 L1349.5,2091.7 L1350.8,2086.4 L1352.1,2081.4 L1353.5,2076.1 L1354.8,2070.4 L1356.2,2065.4 L1357.5,2060.2 L1358.9,2054.4 L1360.2,2048.2 L1361.6,2042.9 L1362.9,2037.8 L1364.3,2032.5 L1365.6,2026.2 L1367.0,2019.4 L1368.3,2012.7 L1369.7,2006.2 L1371.0,2000.5 L1372.4,1993.7 L1373.7,1987.1 L1375.1,1980.5 L1376.4,1971.4 L1377.8,1964.1 L1379.1,1956.1 L1380.5,1947.0 L1381.8,1938.5 L1383.2,1929.9 L1384.5,1921.6 L1385.8,1913.3 L1387.2,1905.0 L1388.5,1896.4 L1389.9,1887.4 L1391.2,1879.5 L1392.6,1870.0 L1393.9,1860.7 L1395.3,1852.7 L1396.6,1843.2 L1398.0,1834.5 L1399.3,1826.5 L1400.7,1818.1 L1402.0,1809.0 L1403.4,1800.3 L1404.7,1791.7 L1406.1,1781.9 L1407.4,1773.4 L1408.8,1765.6 L1410.1,1757.4 L1411.5,1750.3 L1412.8,1743.9 L1414.2,1735.6 L1415.5,1730.4 L1416.9,1723.8 L1418.2,1717.3 L1419.5,1709.8 L1420.9,1703.1 L1422.2,1698.0 L1423.6,1693.5 L1424.9,1685.9 L1426.3,1680.5 L1427.6,1676.4 L1429.0,1669.8 L1430.3,1666.0 L1431.7,1662.6 L1433.0,1658.2 L1434.4,1654.6 L1435.7,1650.6 L1437.1,1647.6 L1438.4,1644.9 L1439.8,1641.5 L1441.1,1637.1 L1442.5,1634.7 L1443.8,1633.0 L1445.2,1631.0 L1446.5,1628.4 L1447.9,1624.8 L1449.2,1624.1 L1450.5,1623.0 L1451.9,1621.1 L1453.2,1621.5 L1454.6,1621.1 L1455.9,1619.4 L1457.3,1617.7 L1458.6,1617.0 L1460.0,1616.4 L1461.3,1615.6 L1462.7,1615.8 L1464.0,1615.8 L1465.4,1614.8 L1466.7,1615.5 L1468.1,1616.2 L1469.4,1616.4 L1470.8,1617.8 L1472.1,1620.4 L1473.5,1622.1 L1474.8,1624.0 L1476.2,1625.2 L1477.5,1625.8 L1478.9,1627.9 L1480.2,1630.3 L1481.6,1631.8 L1482.9,1632.0 L1484.2,1634.7 L1485.6,1637.0 L1486.9,1639.9 L1488.3,1643.1 L1489.6,1645.1 L1491.0,1647.5 L1492.3,1649.8 L1493.7,1653.5 L1495.0,1657.8 L1496.4,1660.2 L1497.7,1662.6 L1499.1,1665.4 L1500.4,1669.1 L1501.8,1671.9 L1503.1,1673.1 L1504.5,1675.3 L1505.8,1678.1 L1507.2,1678.9 L1508.5,1681.9 L1509.9,1685.0 L1511.2,1686.7 L1512.6,1691.2 L1513.9,1694.3 L1515.2,1696.1 L1516.6,1697.3 L1517.9,1700.2 L1519.3,1702.1 L1520.6,1704.8 L1522.0,1707.8 L1523.3,1710.2 L1524.7,1712.9 L1526.0,1714.6 L1527.4,1717.8 L1528.7,1720.2 L1530.1,1721.7 L1531.4,1724.0 L1532.8,1725.1 L1534.1,1728.0 L1535.5,1732.4 L1536.8,1734.3 L1538.2,1735.9 L1539.5,1737.4 L1540.9,1741.3 L1542.2,1744.3 L1543.6,1746.5 L1544.9,1749.0 L1546.3,1751.6 L1547.6,1753.6 L1548.9,1756.4 L1550.3,1758.7 L1551.6,1759.8 L1553.0,1762.9 L1554.3,1766.6 L1555.7,1769.3 L1557.0,1771.2 L1558.4,1774.1 L1559.7,1776.1 L1561.1,1777.2 L1562.4,1780.0 L1563.8,1782.8 L1565.1,1784.9 L1566.5,1787.5 L1567.8,1789.2 L1569.2,1790.7 L1570.5,1794.0 L1571.9,1797.2 L1573.2,1799.7 L1574.6,1801.1 L1575.9,1803.4 L1577.3,1806.0 L1578.6,1809.3 L1580.0,1811.1 L1581.3,1812.8 L1582.6,1814.8 L1584.0,1817.3 L1585.3,1819.8 L1586.7,1821.5 L1588.0,1824.9 L1589.4,1828.7 L1590.7,1830.7" stroke="#a9a9a9" stroke-width="3.3"/>
<path d="M426.5,2256.3 L437.8,2259.2 L449.1,2260.6 L460.4,2262.8 L471.7,2265.4 L483.1,2267.2 L494.4,2268.7 L505.7,2270.9 L517.0,2272.8 L528.3,2274.6 L539.6,2276.8 L550.9,2277.8 L562.2,2280.2 L573.6,2281.3 L584.9,2282.7 L596.2,2284.5 L607.5,2285.3 L618.8,2285.9 L630.1,2287.8 L641.4,2289.3 L652.8,2290.0 L664.1,2290.7 L675.4,2291.9 L686.7,2293.0 L698.0,2294.4 L709.3,2294.6 L720.6,2295.5 L732.0,2296.0 L743.3,2296.7 L754.6,2297.7 L765.9,2299.2 L777.2,2299.8 L788.5,2300.3 L799.8,2300.4 L811.2,2301.3 L822.5,2301.1 L833.8,2302.0 L845.1,2302.4 L856.4,2302.7 L867.7,2303.3 L879.0,2304.2 L890.4,2303.2 L901.7,2303.8 L913.0,2304.0" stroke="#a9a9a9" stroke-width="5.4"/>
<path d="M904.6,2304.6 L915.6,2305.2 L926.7,2305.3 L937.7,2305.2 L948.7,2304.6 L959.8,2304.6 L970.8,2304.4 L981.9,2304.0 L992.9,2304.4 L1003.9,2304.1 L1015.0,2304.0 L1026.0,2303.5 L1037.0,2303.2 L1048.1,2301.8 L1059.1,2301.0 L1070.1,2300.3 L1081.2,2299.2 L1092.2,2297.4 L1103.3,2295.5 L1114.3,2294.0" stroke="#a9a9a9" stroke-width="4.6"/>
<path d="M1105.9,2295.4 L1114.3,2294.2 L1122.7,2292.5 L1131.1,2290.7 L1139.5,2288.7 L1147.8,2286.8 L1156.2,2284.2 L1164.6,2281.4 L1173.0,2279.5 L1181.4,2275.8 L1189.8,2273.4 L1198.2,2270.1 L1206.6,2267.0 L1215.0,2262.9" stroke="#a9a9a9" stroke-width="4.0"/>
<path d="M1206.6,2266.0 L1212.2,2263.8 L1217.7,2260.3 L1223.3,2257.4 L1228.9,2254.2 L1234.5,2250.4 L1240.1,2247.5 L1245.7,2245.0 L1251.3,2240.7 L1256.9,2235.6 L1262.5,2230.9 L1268.1,2226.9 L1273.7,2222.1 L1279.3,2217.1 L1284.9,2210.9 L1290.4,2205.9" stroke="#a9a9a9" stroke-width="3.6"/>
<path d="M1282.1,2214.1 L1283.4,2212.6 L1284.8,2211.1 L1286.1,2209.8 L1287.4,2208.3 L1288.8,2207.3 L1290.1,2206.0 L1291.5,2204.3 L1292.8,2202.7 L1294.2,2201.2 L1295.5,2199.4 L1296.9,2198.1 L1298.2,2196.5 L1299.6,2194.9 L1300.9,2193.1 L1302.3,2191.3 L1303.6,2189.4 L1305.0,2187.1 L1306.3,2185.3 L1307.7,2183.1 L1309.0,2181.5 L1310.4,2179.4 L1311.7,2177.1 L1313.1,2175.6 L1314.4,2173.4 L1315.8,2170.6 L1317.1,2168.0 L1318.5,2165.7 L1319.8,2163.7 L1321.1,2161.5 L1322.5,2158.6 L1323.8,2156.3 L1325.2,2154.2 L1326.5,2151.4 L1327.9,2148.5 L1329.2,2146.4 L1330.6,2144.3 L1331.9,2141.5 L1333.3,2138.9 L1334.6,2136.1 L1336.0,2133.5 L1337.3,2131.3 L1338.7,2128.5 L1340.0,2125.2 L1341.4,2122.1 L1342.7,2119.3 L1344.1,2117.0 L1345.4,2113.7 L1346.8,2109.8 L1348.1,2106.5 L1349.5,2102.5 L1350.8,2098.5 L1352.1,2094.3 L1353.5,2089.4 L1354.8,2085.2 L1356.2,2080.9 L1357.5,2076.0 L1358.9,2071.3 L1360.2,2066.9 L1361.6,2062.0 L1362.9,2057.3 L1364.3,2052.3 L1365.6,2046.1 L1367.0,2040.3 L1368.3,2035.6 L1369.7,2031.2 L1371.0,2025.2 L1372.4,2019.4 L1373.7,2014.1 L1375.1,2007.8 L1376.4,2002.0 L1377.8,1995.7 L1379.1,1988.9 L1380.5,1982.2 L1381.8,1975.4 L1383.2,1968.1 L1384.5,1962.0 L1385.8,1955.2 L1387.2,1947.7 L1388.5,1939.7 L1389.9,1933.6 L1391.2,1926.1 L1392.6,1918.5 L1393.9,1912.8 L1395.3,1906.0 L1396.6,1898.9 L1398.0,1891.9 L1399.3,1884.0 L1400.7,1877.4 L1402.0,1869.9 L1403.4,1863.1 L1404.7,1856.3 L1406.1,1849.1 L1407.4,1842.5 L1408.8,1835.6 L1410.1,1830.1 L1411.5,1823.2 L1412.8,1816.2 L1414.2,1811.4 L1415.5,1804.7 L1416.9,1799.2 L1418.2,1794.1 L1419.5,1788.3 L1420.9,1782.2 L1422.2,1778.0 L1423.6,1772.0 L1424.9,1766.9 L1426.3,1762.9 L1427.6,1758.1 L1429.0,1753.5 L1430.3,1750.5 L1431.7,1747.4 L1433.0,1743.1 L1434.4,1740.2 L1435.7,1736.9 L1437.1,1733.1 L1438.4,1729.2 L1439.8,1725.6 L1441.1,1723.9 L1442.5,1721.8 L1443.8,1719.0 L1445.2,1717.6 L1446.5,1717.2 L1447.9,1715.3 L1449.2,1713.5 L1450.5,1710.6 L1451.9,1708.6 L1453.2,1708.4 L1454.6,1708.2 L1455.9,1706.5 L1457.3,1706.1 L1458.6,1705.0 L1460.0,1705.2 L1461.3,1705.0 L1462.7,1704.1 L1464.0,1702.6 L1465.4,1702.2 L1466.7,1701.8 L1468.1,1702.9 L1469.4,1702.7 L1470.8,1703.4 L1472.1,1703.2 L1473.5,1704.3 L1474.8,1706.6 L1476.2,1708.0 L1477.5,1709.2 L1478.9,1710.7 L1480.2,1712.4 L1481.6,1713.4 L1482.9,1716.4 L1484.2,1719.0 L1485.6,1719.4 L1486.9,1720.8 L1488.3,1722.4 L1489.6,1724.7 L1491.0,1727.6 L1492.3,1730.2 L1493.7,1732.9 L1495.0,1736.3 L1496.4,1739.3 L1497.7,1741.4 L1499.1,1743.7 L1500.4,1747.0 L1501.8,1748.5 L1503.1,1750.5 L1504.5,1752.3 L1505.8,1754.6 L1507.2,1756.4 L1508.5,1758.2 L1509.9,1759.8 L1511.2,1762.8 L1512.6,1765.3 L1513.9,1767.7 L1515.2,1771.1 L1516.6,1772.5 L1517.9,1772.8 L1519.3,1775.1 L1520.6,1777.6 L1522.0,1779.4 L1523.3,1782.2 L1524.7,1784.7 L1526.0,1787.3 L1527.4,1789.9 L1528.7,1790.6 L1530.1,1792.9 L1531.4,1795.3 L1532.8,1797.6 L1534.1,1800.4 L1535.5,1803.2 L1536.8,1803.5 L1538.2,1803.9 L1539.5,1806.7 L1540.9,1810.2 L1542.2,1812.9 L1543.6,1814.5 L1544.9,1816.3 L1546.3,1818.5 L1547.6,1820.5 L1548.9,1823.2 L1550.3,1824.6 L1551.6,1827.0 L1553.0,1829.8 L1554.3,1831.8 L1555.7,1833.4 L1557.0,1835.2 L1558.4,1837.7 L1559.7,1839.2 L1561.1,1840.9 L1562.4,1845.5 L1563.8,1848.3 L1565.1,1849.3 L1566.5,1851.4 L1567.8,1853.4 L1569.2,1856.1 L1570.5,1857.1 L1571.9,1858.1 L1573.2,1860.6 L1574.6,1864.0 L1575.9,1865.7 L1577.3,1866.7 L1578.6,1868.5 L1580.0,1872.1 L1581.3,1874.3 L1582.6,1875.4 L1584.0,1878.2 L1585.3,1880.6 L1586.7,1882.1 L1588.0,1885.3 L1589.4,1887.0 L1590.7,1888.1" stroke="#a9a9a9" stroke-width="3.3"/>
<path d="M426.5,2282.7 L437.8,2284.0 L449.1,2286.1 L460.4,2288.4 L471.7,2289.8 L483.1,2290.8 L494.4,2292.5 L505.7,2293.5 L517.0,2295.8 L528.3,2295.7 L539.6,2296.9 L550.9,2299.2 L562.2,2299.9 L573.6,2301.0 L584.9,2302.0 L596.2,2302.4 L607.5,2303.9 L618.8,2304.9 L630.1,2305.1 L641.4,2305.7 L652.8,2307.1 L664.1,2307.5 L675.4,2308.8 L686.7,2308.6 L698.0,2308.8 L709.3,2310.0 L720.6,2310.8 L732.0,2312.0 L743.3,2312.0 L754.6,2313.1 L765.9,2312.5 L777.2,2312.6 L788.5,2313.2 L799.8,2314.1 L811.2,2314.3 L822.5,2315.1 L833.8,2315.2 L845.1,2315.5 L856.4,2315.9 L867.7,2317.2 L879.0,2316.4 L890.4,2316.6 L901.7,2317.3 L913.0,2317.1" stroke="#a9a9a9" stroke-width="5.4"/>
<path d="M904.6,2316.8 L915.6,2318.1 L926.7,2317.2 L937.7,2317.9 L948.7,2318.4 L959.8,2318.1 L970.8,2318.6 L981.9,2318.6 L992.9,2318.9 L1003.9,2318.8 L1015.0,2319.1 L1026.0,2318.9 L1037.0,2319.1 L1048.1,2319.2 L1059.1,2318.3 L1070.1,2318.6 L1081.2,2318.4 L1092.2,2317.8 L1103.3,2318.0 L1114.3,2317.9" stroke="#a9a9a9" stroke-width="4.6"/>
<path d="M1105.9,2318.5 L1114.3,2317.6 L1122.7,2317.3 L1131.1,2316.7 L1139.5,2316.7 L1147.8,2316.2 L1156.2,2316.3 L1164.6,2314.6 L1173.0,2314.6 L1181.4,2313.3 L1189.8,2311.9 L1198.2,2310.9 L1206.6,2309.4 L1215.0,2307.2" stroke="#a9a9a9" stroke-width="4.0"/>
<path d="M1206.6,2310.0 L1212.2,2308.1 L1217.7,2306.2 L1223.3,2304.7 L1228.9,2303.9 L1234.5,2301.1 L1240.1,2299.3 L1245.7,2297.8 L1251.3,2295.6 L1256.9,2292.6 L1262.5,2289.1 L1268.1,2286.1 L1273.7,2283.1 L1279.3,2278.8 L1284.9,2274.3 L1290.4,2270.2" stroke="#a9a9a9" stroke-width="3.6"/>
<path d="M1282.1,2276.8 L1283.4,2275.8 L1284.8,2275.0 L1286.1,2273.8 L1287.4,2272.8 L1288.8,2271.6 L1290.1,2270.4 L1291.5,2269.3 L1292.8,2268.3 L1294.2,2267.0 L1295.5,2265.8 L1296.9,2264.8 L1298.2,2263.5 L1299.6,2262.0 L1300.9,2260.5 L1302.3,2259.2 L1303.6,2257.7 L1305.0,2256.0 L1306.3,2254.4 L1307.7,2252.4 L1309.0,2250.6 L1310.4,2248.9 L1311.7,2247.4 L1313.1,2245.6 L1314.4,2243.7 L1315.8,2241.8 L1317.1,2239.6 L1318.5,2237.4 L1319.8,2235.5 L1321.1,2233.3 L1322.5,2230.8 L1323.8,2228.7 L1325.2,2226.6 L1326.5,2224.5 L1327.9,2222.4 L1329.2,2220.0 L1330.6,2217.7 L1331.9,2215.4 L1333.3,2213.1 L1334.6,2210.9 L1336.0,2208.4 L1337.3,2205.7 L1338.7,2203.5 L1340.0,2201.4 L1341.4,2198.5 L1342.7,2195.2 L1344.1,2192.4 L1345.4,2190.1 L1346.8,2186.9 L1348.1,2183.9 L1349.5,2181.0 L1350.8,2176.7 L1352.1,2172.4 L1353.5,2168.8 L1354.8,2164.6 L1356.2,2159.9 L1357.5,2155.5 L1358.9,2150.9 L1360.2,2146.0 L1361.6,2141.3 L1362.9,2136.1 L1364.3,2131.3 L1365.6,2125.9 L1367.0,2120.4 L1368.3,2115.1 L1369.7,2110.5 L1371.0,2105.0 L1372.4,2099.6 L1373.7,2094.6 L1375.1,2088.0 L1376.4,2081.2 L1377.8,2074.3 L1379.1,2067.2 L1380.5,2061.2 L1381.8,2054.8 L1383.2,2048.2 L1384.5,2041.4 L1385.8,2034.2 L1387.2,2027.1 L1388.5,2021.0 L1389.9,2014.2 L1391.2,2008.1 L1392.6,2000.6 L1393.9,1992.8 L1395.3,1986.1 L1396.6,1977.8 L1398.0,1970.1 L1399.3,1964.0 L1400.7,1957.3 L1402.0,1950.0 L1403.4,1943.1 L1404.7,1936.0 L1406.1,1928.9 L1407.4,1921.1 L1408.8,1914.1 L1410.1,1908.0 L1411.5,1902.4 L1412.8,1895.0 L1414.2,1887.5 L1415.5,1881.0 L1416.9,1875.5 L1418.2,1869.2 L1419.5,1863.5 L1420.9,1858.7 L1422.2,1852.9 L1423.6,1848.1 L1424.9,1843.6 L1426.3,1837.7 L1427.6,1831.7 L1429.0,1827.5 L1430.3,1823.5 L1431.7,1818.8 L1433.0,1815.0 L1434.4,1812.5 L1435.7,1811.2 L1437.1,1808.9 L1438.4,1804.4 L1439.8,1798.7 L1441.1,1796.3 L1442.5,1795.1 L1443.8,1791.8 L1445.2,1790.1 L1446.5,1787.0 L1447.9,1784.2 L1449.2,1782.9 L1450.5,1780.8 L1451.9,1780.0 L1453.2,1780.5 L1454.6,1778.6 L1455.9,1776.8 L1457.3,1776.7 L1458.6,1775.9 L1460.0,1773.2 L1461.3,1772.8 L1462.7,1773.3 L1464.0,1772.9 L1465.4,1771.5 L1466.7,1770.4 L1468.1,1771.1 L1469.4,1770.9 L1470.8,1771.3 L1472.1,1772.3 L1473.5,1773.0 L1474.8,1774.1 L1476.2,1776.1 L1477.5,1777.3 L1478.9,1776.7 L1480.2,1777.0 L1481.6,1779.3 L1482.9,1781.8 L1484.2,1783.0 L1485.6,1784.9 L1486.9,1787.2 L1488.3,1788.8 L1489.6,1789.9 L1491.0,1791.4 L1492.3,1794.1 L1493.7,1795.3 L1495.0,1797.6 L1496.4,1799.4 L1497.7,1801.8 L1499.1,1804.9 L1500.4,1807.3 L1501.8,1809.3 L1503.1,1811.3 L1504.5,1812.7 L1505.8,1814.1 L1507.2,1816.5 L1508.5,1818.3 L1509.9,1820.9 L1511.2,1823.9 L1512.6,1825.6 L1513.9,1827.2 L1515.2,1829.3 L1516.6,1831.9 L1517.9,1833.5 L1519.3,1836.3 L1520.6,1838.1 L1522.0,1839.5 L1523.3,1841.9 L1524.7,1844.8 L1526.0,1847.1 L1527.4,1848.7 L1528.7,1849.8 L1530.1,1850.5 L1531.4,1854.2 L1532.8,1856.3 L1534.1,1856.6 L1535.5,1860.2 L1536.8,1862.1 L1538.2,1863.1 L1539.5,1865.1 L1540.9,1866.6 L1542.2,1867.5 L1543.6,1869.1 L1544.9,1872.3 L1546.3,1874.8 L1547.6,1877.3 L1548.9,1879.5 L1550.3,1881.3 L1551.6,1883.0 L1553.0,1885.1 L1554.3,1886.9 L1555.7,1889.3 L1557.0,1891.7 L1558.4,1893.3 L1559.7,1895.0 L1561.1,1897.1 L1562.4,1898.9 L1563.8,1900.6 L1565.1,1903.0 L1566.5,1904.2 L1567.8,1906.5 L1569.2,1908.2 L1570.5,1909.2 L1571.9,1911.6 L1573.2,1914.8 L1574.6,1915.7 L1575.9,1917.0 L1577.3,1920.0 L1578.6,1921.7 L1580.0,1922.8 L1581.3,1925.3 L1582.6,1926.5 L1584.0,1929.5 L1585.3,1931.6 L1586.7,1933.3 L1588.0,1934.8 L1589.4,1936.0 L1590.7,1938.0" stroke="#a9a9a9" stroke-width="3.3"/>
<path d="M426.5,2291.2 L437.8,2293.7 L449.1,2294.6 L460.4,2296.8 L471.7,2297.4 L483.1,2299.7 L494.4,2300.7 L505.7,2302.0 L517.0,2303.7 L528.3,2303.8 L539.6,2305.7 L550.9,2306.7 L562.2,2307.5 L573.6,2308.0 L584.9,2309.4 L596.2,2309.3 L607.5,2310.9 L618.8,2311.8 L630.1,2312.3 L641.4,2313.2 L652.8,2314.2 L664.1,2314.7 L675.4,2315.1 L686.7,2315.3 L698.0,2316.3 L709.3,2316.8 L720.6,2318.3 L732.0,2318.1 L743.3,2318.5 L754.6,2318.3 L765.9,2318.8 L777.2,2319.8 L788.5,2320.0 L799.8,2320.6 L811.2,2321.2 L822.5,2321.3 L833.8,2321.8 L845.1,2321.9 L856.4,2322.1 L867.7,2322.7 L879.0,2322.5 L890.4,2323.5 L901.7,2323.4 L913.0,2323.5" stroke="#a9a9a9" stroke-width="5.4"/>
<path d="M904.6,2324.1 L915.6,2323.4 L926.7,2323.6 L937.7,2323.5 L948.7,2324.3 L959.8,2324.2 L970.8,2324.4 L981.9,2325.3 L992.9,2324.8 L1003.9,2325.5 L1015.0,2325.0 L1026.0,2325.0 L1037.0,2325.2 L1048.1,2326.1 L1059.1,2324.9 L1070.1,2325.3 L1081.2,2325.1 L1092.2,2325.7 L1103.3,2325.5 L1114.3,2324.5" stroke="#a9a9a9" stroke-width="4.6"/>
<path d="M1105.9,2325.4 L1114.3,2325.3 L1122.7,2325.1 L1131.1,2324.3 L1139.5,2324.9 L1147.8,2324.1 L1156.2,2323.9 L1164.6,2322.2 L1173.0,2322.1 L1181.4,2321.7 L1189.8,2320.8 L1198.2,2320.1 L1206.6,2318.9 L1215.0,2317.1" stroke="#a9a9a9" stroke-width="4.0"/>
<path d="M1206.6,2318.1 L1212.2,2317.7 L1217.7,2316.5 L1223.3,2314.8 L1228.9,2312.9 L1234.5,2311.5 L1240.1,2310.2 L1245.7,2307.9 L1251.3,2305.9 L1256.9,2303.9 L1262.5,2301.0 L1268.1,2297.6 L1273.7,2294.5 L1279.3,2290.1 L1284.9,2286.5 L1290.4,2282.5" stroke="#a9a9a9" stroke-width="3.6"/>
<path d="M1282.1,2288.7 L1283.4,2287.9 L1284.8,2286.8 L1286.1,2285.6 L1287.4,2284.8 L1288.8,2284.0 L1290.1,2282.8 L1291.5,2281.5 L1292.8,2280.6 L1294.2,2279.3 L1295.5,2278.0 L1296.9,2277.0 L1298.2,2275.9 L1299.6,2274.6 L1300.9,2273.2 L1302.3,2272.1 L1303.6,2270.7 L1305.0,2269.0 L1306.3,2267.2 L1307.7,2265.7 L1309.0,2263.9 L1310.4,2262.3 L1311.7,2260.8 L1313.1,2259.0 L1314.4,2257.1 L1315.8,2255.1 L1317.1,2252.9 L1318.5,2250.9 L1319.8,2248.9 L1321.1,2246.9 L1322.5,2245.0 L1323.8,2242.8 L1325.2,2240.8 L1326.5,2238.7 L1327.9,2236.4 L1329.2,2233.9 L1330.6,2231.7 L1331.9,2229.4 L1333.3,2227.4 L1334.6,2225.0 L1336.0,2222.5 L1337.3,2220.2 L1338.7,2217.8 L1340.0,2215.2 L1341.4,2212.7 L1342.7,2210.0 L1344.1,2207.2 L1345.4,2203.9 L1346.8,2200.9 L1348.1,2197.8 L1349.5,2194.5 L1350.8,2191.2 L1352.1,2187.6 L1353.5,2183.2 L1354.8,2178.2 L1356.2,2173.8 L1357.5,2169.3 L1358.9,2164.8 L1360.2,2159.6 L1361.6,2154.3 L1362.9,2149.1 L1364.3,2143.5 L1365.6,2138.5 L1367.0,2133.1 L1368.3,2127.3 L1369.7,2121.6 L1371.0,2116.4 L1372.4,2111.1 L1373.7,2105.0 L1375.1,2098.5 L1376.4,2092.7 L1377.8,2086.4 L1379.1,2079.5 L1380.5,2072.0 L1381.8,2065.5 L1383.2,2059.4 L1384.5,2052.7 L1385.8,2045.6 L1387.2,2038.9 L1388.5,2032.2 L1389.9,2025.0 L1391.2,2017.5 L1392.6,2010.3 L1393.9,2002.9 L1395.3,1995.8 L1396.6,1988.7 L1398.0,1981.0 L1399.3,1974.1 L1400.7,1968.1 L1402.0,1960.5 L1403.4,1953.5 L1404.7,1946.6 L1406.1,1938.6 L1407.4,1931.3 L1408.8,1924.4 L1410.1,1917.5 L1411.5,1909.7 L1412.8,1903.5 L1414.2,1897.5 L1415.5,1890.4 L1416.9,1885.1 L1418.2,1878.8 L1419.5,1874.0 L1420.9,1869.2 L1422.2,1864.0 L1423.6,1858.9 L1424.9,1853.4 L1426.3,1847.4 L1427.6,1843.0 L1429.0,1839.2 L1430.3,1834.2 L1431.7,1830.4 L1433.0,1825.7 L1434.4,1822.3 L1435.7,1818.7 L1437.1,1815.2 L1438.4,1813.2 L1439.8,1807.4 L1441.1,1803.1 L1442.5,1801.9 L1443.8,1800.6 L1445.2,1798.8 L1446.5,1795.8 L1447.9,1794.4 L1449.2,1793.2 L1450.5,1791.6 L1451.9,1788.7 L1453.2,1788.0 L1454.6,1788.6 L1455.9,1787.3 L1457.3,1786.3 L1458.6,1784.2 L1460.0,1784.0 L1461.3,1782.8 L1462.7,1781.6 L1464.0,1781.7 L1465.4,1782.2 L1466.7,1781.8 L1468.1,1781.4 L1469.4,1779.6 L1470.8,1780.3 L1472.1,1783.1 L1473.5,1783.1 L1474.8,1781.4 L1476.2,1783.1 L1477.5,1785.2 L1478.9,1785.8 L1480.2,1787.1 L1481.6,1788.6 L1482.9,1790.2 L1484.2,1790.6 L1485.6,1793.0 L1486.9,1795.8 L1488.3,1797.1 L1489.6,1798.7 L1491.0,1800.3 L1492.3,1802.5 L1493.7,1805.2 L1495.0,1808.1 L1496.4,1810.1 L1497.7,1812.2 L1499.1,1813.7 L1500.4,1817.3 L1501.8,1819.6 L1503.1,1821.7 L1504.5,1823.8 L1505.8,1824.9 L1507.2,1826.7 L1508.5,1828.5 L1509.9,1830.1 L1511.2,1833.1 L1512.6,1835.0 L1513.9,1837.0 L1515.2,1839.3 L1516.6,1842.4 L1517.9,1844.2 L1519.3,1845.2 L1520.6,1847.6 L1522.0,1848.2 L1523.3,1849.8 L1524.7,1853.0 L1526.0,1854.8 L1527.4,1856.3 L1528.7,1857.1 L1530.1,1858.6 L1531.4,1861.3 L1532.8,1863.4 L1534.1,1865.6 L1535.5,1868.8 L1536.8,1870.4 L1538.2,1871.8 L1539.5,1874.0 L1540.9,1875.3 L1542.2,1878.4 L1543.6,1880.4 L1544.9,1881.8 L1546.3,1883.7 L1547.6,1886.5 L1548.9,1888.3 L1550.3,1889.6 L1551.6,1891.5 L1553.0,1893.5 L1554.3,1896.4 L1555.7,1899.2 L1557.0,1902.1 L1558.4,1903.2 L1559.7,1904.5 L1561.1,1906.7 L1562.4,1907.8 L1563.8,1909.0 L1565.1,1911.2 L1566.5,1912.5 L1567.8,1914.4 L1569.2,1916.7 L1570.5,1918.2 L1571.9,1920.3 L1573.2,1923.0 L1574.6,1924.2 L1575.9,1927.1 L1577.3,1928.6 L1578.6,1930.5 L1580.0,1932.4 L1581.3,1933.9 L1582.6,1935.9 L1584.0,1937.7 L1585.3,1939.6 L1586.7,1941.8 L1588.0,1943.4 L1589.4,1945.5 L1590.7,1946.8" stroke="#a9a9a9" stroke-width="3.3"/>
<path d="M426.5,2261.6 L437.8,2263.9 L449.1,2266.5 L460.4,2268.3 L471.7,2270.3 L483.1,2272.2 L494.4,2273.3 L505.7,2275.9 L517.0,2277.6 L528.3,2279.2 L539.6,2280.2 L550.9,2282.2 L562.2,2283.5 L573.6,2284.5 L584.9,2285.8 L596.2,2287.6 L607.5,2287.8 L618.8,2289.4 L630.1,2290.3 L641.4,2291.5 L652.8,2292.0 L664.1,2293.6 L675.4,2294.6 L686.7,2295.1 L698.0,2295.6 L709.3,2296.8 L720.6,2297.2 L732.0,2297.7 L743.3,2299.4 L754.6,2299.1 L765.9,2299.7 L777.2,2300.9 L788.5,2301.3 L799.8,2301.9 L811.2,2302.0 L822.5,2302.9 L833.8,2302.9 L845.1,2303.1 L856.4,2304.5 L867.7,2304.1 L879.0,2304.6 L890.4,2305.1 L901.7,2305.0 L913.0,2305.4" stroke="#a9a9a9" stroke-width="5.4"/>
<path d="M904.6,2305.8 L915.6,2305.6 L926.7,2305.6 L937.7,2306.0 L948.7,2306.4 L959.8,2305.1 L970.8,2305.5 L981.9,2305.5 L992.9,2305.9 L1003.9,2306.5 L1015.0,2305.7 L1026.0,2305.2 L1037.0,2305.2 L1048.1,2304.9 L1059.1,2304.1 L1070.1,2302.9 L1081.2,2302.9 L1092.2,2302.1 L1103.3,2301.5 L1114.3,2299.5" stroke="#a9a9a9" stroke-width="4.6"/>
<path d="M1105.9,2300.9 L1114.3,2300.1 L1122.7,2299.1 L1131.1,2298.1 L1139.5,2296.6 L1147.8,2294.7 L1156.2,2293.9 L1164.6,2292.2 L1173.0,2290.9 L1181.4,2288.7 L1189.8,2287.3 L1198.2,2284.1 L1206.6,2282.1 L1215.0,2278.8" stroke="#a9a9a9" stroke-width="4.0"/>
<path d="M1206.6,2281.9 L1212.2,2279.5 L1217.7,2277.7 L1223.3,2275.5 L1228.9,2273.9 L1234.5,2271.3 L1240.1,2268.8 L1245.7,2266.2 L1251.3,2263.3 L1256.9,2259.5 L1262.5,2256.5 L1268.1,2252.8 L1273.7,2249.2 L1279.3,2245.0 L1284.9,2240.8 L1290.4,2235.3" stroke="#a9a9a9" stroke-width="3.6"/>
<path d="M1282.1,2242.5 L1283.4,2241.3 L1284.8,2240.4 L1286.1,2239.4 L1287.4,2238.4 L1288.8,2237.4 L1290.1,2235.9 L1291.5,2234.7 L1292.8,2233.6 L1294.2,2232.4 L1295.5,2231.1 L1296.9,2229.9 L1298.2,2228.6 L1299.6,2227.3 L1300.9,2225.8 L1302.3,2224.1 L1303.6,2222.5 L1305.0,2221.2 L1306.3,2219.9 L1307.7,2218.3 L1309.0,2216.3 L1310.4,2214.5 L1311.7,2212.4 L1313.1,2210.4 L1314.4,2208.8 L1315.8,2206.7 L1317.1,2204.8 L1318.5,2203.3 L1319.8,2201.3 L1321.1,2199.1 L1322.5,2197.4 L1323.8,2195.4 L1325.2,2193.0 L1326.5,2191.1 L1327.9,2189.1 L1329.2,2186.7 L1330.6,2184.5 L1331.9,2182.2 L1333.3,2179.7 L1334.6,2177.8 L1336.0,2176.2 L1337.3,2173.6 L1338.7,2171.3 L1340.0,2168.8 L1341.4,2166.1 L1342.7,2163.3 L1344.1,2160.9 L1345.4,2158.5 L1346.8,2155.7 L1348.1,2152.9 L1349.5,2149.3 L1350.8,2145.8 L1352.1,2142.7 L1353.5,2139.2 L1354.8,2135.2 L1356.2,2130.9 L1357.5,2126.4 L1358.9,2122.4 L1360.2,2118.4 L1361.6,2113.8 L1362.9,2109.1 L1364.3,2105.3 L1365.6,2101.0 L1367.0,2095.9 L1368.3,2092.0 L1369.7,2087.1 L1371.0,2082.2 L1372.4,2077.7 L1373.7,2072.8 L1375.1,2067.1 L1376.4,2061.6 L1377.8,2056.0 L1379.1,2050.2 L1380.5,2044.1 L1381.8,2039.3 L1383.2,2034.1 L1384.5,2028.0 L1385.8,2021.6 L1387.2,2015.5 L1388.5,2009.3 L1389.9,2003.3 L1391.2,1997.0 L1392.6,1991.6 L1393.9,1985.6 L1395.3,1978.9 L1396.6,1972.9 L1398.0,1967.0 L1399.3,1961.0 L1400.7,1954.9 L1402.0,1948.2 L1403.4,1941.5 L1404.7,1935.2 L1406.1,1929.9 L1407.4,1924.7 L1408.8,1919.2 L1410.1,1913.6 L1411.5,1907.8 L1412.8,1900.7 L1414.2,1894.5 L1415.5,1890.3 L1416.9,1886.3 L1418.2,1882.6 L1419.5,1877.1 L1420.9,1872.2 L1422.2,1867.5 L1423.6,1863.6 L1424.9,1859.5 L1426.3,1855.4 L1427.6,1850.7 L1429.0,1845.2 L1430.3,1842.6 L1431.7,1841.0 L1433.0,1837.7 L1434.4,1834.1 L1435.7,1830.5 L1437.1,1829.6 L1438.4,1826.1 L1439.8,1822.5 L1441.1,1819.1 L1442.5,1817.4 L1443.8,1817.3 L1445.2,1816.9 L1446.5,1815.1 L1447.9,1813.0 L1449.2,1811.4 L1450.5,1810.8 L1451.9,1809.9 L1453.2,1807.6 L1454.6,1806.6 L1455.9,1806.3 L1457.3,1805.7 L1458.6,1805.1 L1460.0,1803.8 L1461.3,1801.2 L1462.7,1802.1 L1464.0,1802.2 L1465.4,1800.8 L1466.7,1801.5 L1468.1,1802.1 L1469.4,1803.3 L1470.8,1804.1 L1472.1,1805.3 L1473.5,1804.3 L1474.8,1803.8 L1476.2,1806.0 L1477.5,1807.4 L1478.9,1807.9 L1480.2,1809.5 L1481.6,1812.5 L1482.9,1814.1 L1484.2,1814.6 L1485.6,1815.3 L1486.9,1818.4 L1488.3,1820.3 L1489.6,1821.7 L1491.0,1823.4 L1492.3,1825.4 L1493.7,1827.5 L1495.0,1829.1 L1496.4,1831.6 L1497.7,1832.5 L1499.1,1835.1 L1500.4,1837.6 L1501.8,1840.5 L1503.1,1842.0 L1504.5,1844.8 L1505.8,1846.7 L1507.2,1847.1 L1508.5,1849.2 L1509.9,1852.4 L1511.2,1854.5 L1512.6,1854.7 L1513.9,1856.2 L1515.2,1857.5 L1516.6,1859.0 L1517.9,1861.5 L1519.3,1866.0 L1520.6,1868.4 L1522.0,1868.2 L1523.3,1870.2 L1524.7,1870.6 L1526.0,1872.3 L1527.4,1874.5 L1528.7,1876.8 L1530.1,1879.4 L1531.4,1880.4 L1532.8,1881.8 L1534.1,1882.8 L1535.5,1884.0 L1536.8,1886.9 L1538.2,1888.1 L1539.5,1889.5 L1540.9,1892.8 L1542.2,1895.3 L1543.6,1897.1 L1544.9,1899.3 L1546.3,1901.0 L1547.6,1901.1 L1548.9,1902.0 L1550.3,1904.5 L1551.6,1907.3 L1553.0,1909.2 L1554.3,1910.7 L1555.7,1912.8 L1557.0,1914.5 L1558.4,1916.1 L1559.7,1917.1 L1561.1,1918.8 L1562.4,1921.3 L1563.8,1923.8 L1565.1,1925.2 L1566.5,1925.8 L1567.8,1927.1 L1569.2,1929.5 L1570.5,1930.4 L1571.9,1933.4 L1573.2,1935.6 L1574.6,1937.1 L1575.9,1939.2 L1577.3,1940.7 L1578.6,1942.3 L1580.0,1944.3 L1581.3,1945.9 L1582.6,1946.9 L1584.0,1947.9 L1585.3,1949.3 L1586.7,1952.5 L1588.0,1955.4 L1589.4,1957.1 L1590.7,1959.1" stroke="#a9a9a9" stroke-width="3.3"/>
<path d="M426.5,2248.3 L437.8,2250.3 L449.1,2252.4 L460.4,2255.3 L471.7,2257.5 L483.1,2259.1 L494.4,2261.3 L505.7,2262.9 L517.0,2264.4 L528.3,2266.4 L539.6,2267.8 L550.9,2270.5 L562.2,2270.8 L573.6,2272.5 L584.9,2274.1 L596.2,2275.1 L607.5,2276.6 L618.8,2277.8 L630.1,2279.1 L641.4,2279.7 L652.8,2280.9 L664.1,2281.6 L675.4,2282.0 L686.7,2283.1 L698.0,2284.4 L709.3,2284.5 L720.6,2285.1 L732.0,2286.1 L743.3,2286.8 L754.6,2287.4 L765.9,2288.3 L777.2,2288.2 L788.5,2288.9 L799.8,2289.7 L811.2,2290.1 L822.5,2290.6 L833.8,2290.5 L845.1,2291.6 L856.4,2292.4 L867.7,2292.2 L879.0,2292.3 L890.4,2292.7 L901.7,2293.4 L913.0,2294.1" stroke="#7f7f7f" stroke-width="5.4"/>
<path d="M904.6,2292.6 L915.6,2293.9 L926.7,2293.8 L937.7,2294.1 L948.7,2294.5 L959.8,2294.7 L970.8,2295.1 L981.9,2295.2 L992.9,2295.2 L1003.9,2295.2 L1015.0,2294.4 L1026.0,2295.7 L1037.0,2295.0 L1048.1,2295.4 L1059.1,2295.5 L1070.1,2295.8 L1081.2,2295.3 L1092.2,2295.5 L1103.3,2294.9 L1114.3,2294.5" stroke="#7f7f7f" stroke-width="4.6"/>
<path d="M1105.9,2295.3 L1114.3,2294.3 L1122.7,2294.4 L1131.1,2293.9 L1139.5,2293.3 L1147.8,2293.0 L1156.2,2292.0 L1164.6,2291.1 L1173.0,2290.8 L1181.4,2289.6 L1189.8,2288.2 L1198.2,2287.5 L1206.6,2286.2 L1215.0,2283.8" stroke="#7f7f7f" stroke-width="4.0"/>
<path d="M1206.6,2286.1 L1212.2,2285.0 L1217.7,2284.0 L1223.3,2281.8 L1228.9,2280.4 L1234.5,2278.1 L1240.1,2276.9 L1245.7,2274.5 L1251.3,2271.3 L1256.9,2268.6 L1262.5,2266.1 L1268.1,2262.8 L1273.7,2260.1 L1279.3,2255.2 L1284.9,2251.4 L1290.4,2247.3" stroke="#7f7f7f" stroke-width="3.6"/>
<path d="M1282.1,2254.3 L1283.4,2253.1 L1284.8,2251.0 L1286.1,2249.4 L1287.4,2247.1 L1288.8,2246.4 L1290.1,2246.3 L1291.5,2245.6 L1292.8,2245.1 L1294.2,2243.1 L1295.5,2242.1 L1296.9,2240.8 L1298.2,2239.4 L1299.6,2238.3 L1300.9,2237.0 L1302.3,2234.8 L1303.6,2233.8 L1305.0,2234.3 L1306.3,2231.9 L1307.7,2229.5 L1309.0,2227.7 L1310.4,2225.2 L1311.7,2222.8 L1313.1,2221.3 L1314.4,2219.5 L1315.8,2216.7 L1317.1,2214.9 L1318.5,2212.5 L1319.8,2209.0 L1321.1,2207.8 L1322.5,2207.2 L1323.8,2204.0 L1325.2,2202.7 L1326.5,2200.8 L1327.9,2199.3 L1329.2,2195.8 L1330.6,2194.5 L1331.9,2190.3 L1333.3,2186.0 L1334.6,2184.9 L1336.0,2184.1 L1337.3,2182.7 L1338.7,2179.4 L1340.0,2176.4 L1341.4,2176.5 L1342.7,2172.7 L1344.1,2167.2 L1345.4,2164.7 L1346.8,2160.5 L1348.1,2157.8 L1349.5,2156.2 L1350.8,2151.5 L1352.1,2145.9 L1353.5,2143.2 L1354.8,2138.9 L1356.2,2133.8 L1357.5,2130.2 L1358.9,2125.0 L1360.2,2119.0 L1361.6,2114.4 L1362.9,2108.9 L1364.3,2101.8 L1365.6,2095.2 L1367.0,2092.5 L1368.3,2087.1 L1369.7,2076.9 L1371.0,2074.1 L1372.4,2073.7 L1373.7,2067.7 L1375.1,2061.2 L1376.4,2052.0 L1377.8,2047.0 L1379.1,2038.7 L1380.5,2028.6 L1381.8,2024.5 L1383.2,2017.6 L1384.5,2009.0 L1385.8,2000.3 L1387.2,1992.2 L1388.5,1985.5 L1389.9,1982.0 L1391.2,1975.4 L1392.6,1971.1 L1393.9,1961.5 L1395.3,1951.5 L1396.6,1940.6 L1398.0,1935.8 L1399.3,1931.7 L1400.7,1925.6 L1402.0,1919.7 L1403.4,1912.1 L1404.7,1904.5 L1406.1,1896.0 L1407.4,1889.2 L1408.8,1879.8 L1410.1,1871.1 L1411.5,1869.3 L1412.8,1864.1 L1414.2,1855.3 L1415.5,1839.3 L1416.9,1831.9 L1418.2,1830.7 L1419.5,1828.8 L1420.9,1824.8 L1422.2,1814.8 L1423.6,1809.8 L1424.9,1804.8 L1426.3,1803.7 L1427.6,1808.0 L1429.0,1801.2 L1430.3,1790.1 L1431.7,1782.6 L1433.0,1781.5 L1434.4,1776.1 L1435.7,1774.2 L1437.1,1772.2 L1438.4,1765.8 L1439.8,1767.2 L1441.1,1763.3 L1442.5,1750.0 L1443.8,1745.9 L1445.2,1747.0 L1446.5,1745.0 L1447.9,1748.2 L1449.2,1746.2 L1450.5,1741.7 L1451.9,1739.3 L1453.2,1739.7 L1454.6,1742.5 L1455.9,1737.7 L1457.3,1740.2 L1458.6,1734.4 L1460.0,1723.9 L1461.3,1727.7 L1462.7,1733.7 L1464.0,1733.2 L1465.4,1735.7 L1466.7,1736.7 L1468.1,1736.5 L1469.4,1734.6 L1470.8,1732.1 L1472.1,1727.8 L1473.5,1723.9 L1474.8,1729.7 L1476.2,1735.5 L1477.5,1739.3 L1478.9,1734.5 L1480.2,1735.3 L1481.6,1734.5 L1482.9,1737.7 L1484.2,1737.8 L1485.6,1745.5 L1486.9,1749.0 L1488.3,1750.0 L1489.6,1751.4 L1491.0,1751.7 L1492.3,1756.4 L1493.7,1766.1 L1495.0,1767.8 L1496.4,1766.4 L1497.7,1764.6 L1499.1,1767.4 L1500.4,1767.2 L1501.8,1768.9 L1503.1,1775.3 L1504.5,1781.1 L1505.8,1773.4 L1507.2,1777.0 L1508.5,1783.2 L1509.9,1784.2 L1511.2,1787.3 L1512.6,1789.4 L1513.9,1790.5 L1515.2,1786.1 L1516.6,1792.2 L1517.9,1795.7 L1519.3,1799.0 L1520.6,1796.3 L1522.0,1795.8 L1523.3,1802.4 L1524.7,1807.9 L1526.0,1807.9 L1527.4,1809.0 L1528.7,1808.7 L1530.1,1811.4 L1531.4,1814.4 L1532.8,1818.2 L1534.1,1820.7 L1535.5,1820.6 L1536.8,1819.7 L1538.2,1824.0 L1539.5,1826.7 L1540.9,1831.4 L1542.2,1835.1 L1543.6,1838.8 L1544.9,1839.2 L1546.3,1843.4 L1547.6,1849.6 L1548.9,1849.9 L1550.3,1851.3 L1551.6,1850.4 L1553.0,1849.8 L1554.3,1848.0 L1555.7,1852.5 L1557.0,1857.8 L1558.4,1860.0 L1559.7,1861.9 L1561.1,1863.1 L1562.4,1863.3 L1563.8,1866.6 L1565.1,1866.4 L1566.5,1866.9 L1567.8,1872.1 L1569.2,1872.4 L1570.5,1870.0 L1571.9,1874.5 L1573.2,1879.2 L1574.6,1880.0 L1575.9,1884.0 L1577.3,1886.8 L1578.6,1886.2 L1580.0,1891.4 L1581.3,1893.9 L1582.6,1893.2 L1584.0,1892.1 L1585.3,1894.8 L1586.7,1899.9 L1588.0,1901.7 L1589.4,1903.0 L1590.7,1902.7" stroke="#7f7f7f" stroke-width="3.3"/>
<path d="M426.5,2251.8 L437.8,2254.4 L449.1,2256.6 L460.4,2258.9 L471.7,2260.6 L483.1,2263.4 L494.4,2264.3 L505.7,2266.6 L517.0,2268.2 L528.3,2270.1 L539.6,2271.8 L550.9,2272.9 L562.2,2273.9 L573.6,2275.3 L584.9,2276.4 L596.2,2278.0 L607.5,2279.0 L618.8,2280.2 L630.1,2281.5 L641.4,2282.2 L652.8,2283.3 L664.1,2283.7 L675.4,2284.9 L686.7,2285.7 L698.0,2286.3 L709.3,2286.9 L720.6,2287.9 L732.0,2288.6 L743.3,2289.1 L754.6,2289.5 L765.9,2290.7 L777.2,2291.3 L788.5,2290.5 L799.8,2292.0 L811.2,2292.4 L822.5,2293.6 L833.8,2293.5 L845.1,2293.8 L856.4,2294.3 L867.7,2294.6 L879.0,2294.9 L890.4,2295.1 L901.7,2295.2 L913.0,2296.2" stroke="#7f7f7f" stroke-width="5.4"/>
<path d="M904.6,2296.0 L915.6,2295.6 L926.7,2296.0 L937.7,2296.6 L948.7,2297.0 L959.8,2297.1 L970.8,2297.0 L981.9,2297.0 L992.9,2297.0 L1003.9,2297.2 L1015.0,2298.0 L1026.0,2297.1 L1037.0,2297.6 L1048.1,2297.9 L1059.1,2298.0 L1070.1,2297.7 L1081.2,2298.1 L1092.2,2298.1 L1103.3,2297.8 L1114.3,2297.2" stroke="#7f7f7f" stroke-width="4.6"/>
<path d="M1105.9,2298.3 L1114.3,2297.3 L1122.7,2298.1 L1131.1,2297.5 L1139.5,2296.8 L1147.8,2296.1 L1156.2,2296.5 L1164.6,2295.2 L1173.0,2294.5 L1181.4,2294.4 L1189.8,2293.6 L1198.2,2292.6 L1206.6,2291.9 L1215.0,2288.8" stroke="#7f7f7f" stroke-width="4.0"/>
<path d="M1206.6,2291.1 L1212.2,2290.7 L1217.7,2288.8 L1223.3,2287.5 L1228.9,2286.3 L1234.5,2284.6 L1240.1,2282.7 L1245.7,2281.5 L1251.3,2279.7 L1256.9,2276.5 L1262.5,2274.4 L1268.1,2271.9 L1273.7,2268.2 L1279.3,2266.1 L1284.9,2262.2 L1290.4,2257.7" stroke="#7f7f7f" stroke-width="3.6"/>
<path d="M1282.1,2263.5 L1283.4,2262.7 L1284.8,2262.0 L1286.1,2261.2 L1287.4,2260.2 L1288.8,2259.2 L1290.1,2257.9 L1291.5,2256.8 L1292.8,2255.8 L1294.2,2254.9 L1295.5,2254.5 L1296.9,2253.4 L1298.2,2252.1 L1299.6,2250.4 L1300.9,2249.4 L1302.3,2248.1 L1303.6,2246.9 L1305.0,2245.9 L1306.3,2244.4 L1307.7,2242.5 L1309.0,2240.9 L1310.4,2239.5 L1311.7,2237.4 L1313.1,2236.0 L1314.4,2234.3 L1315.8,2232.6 L1317.1,2230.9 L1318.5,2229.6 L1319.8,2227.1 L1321.1,2225.1 L1322.5,2223.3 L1323.8,2221.3 L1325.2,2219.8 L1326.5,2218.6 L1327.9,2216.6 L1329.2,2214.7 L1330.6,2212.4 L1331.9,2209.7 L1333.3,2207.6 L1334.6,2206.6 L1336.0,2204.7 L1337.3,2201.9 L1338.7,2199.4 L1340.0,2197.2 L1341.4,2195.1 L1342.7,2192.3 L1344.1,2189.8 L1345.4,2187.3 L1346.8,2184.2 L1348.1,2181.9 L1349.5,2178.5 L1350.8,2174.8 L1352.1,2170.9 L1353.5,2166.9 L1354.8,2163.6 L1356.2,2159.4 L1357.5,2154.6 L1358.9,2150.0 L1360.2,2146.5 L1361.6,2141.8 L1362.9,2137.6 L1364.3,2133.6 L1365.6,2128.8 L1367.0,2124.6 L1368.3,2119.6 L1369.7,2114.0 L1371.0,2108.4 L1372.4,2104.6 L1373.7,2099.2 L1375.1,2093.8 L1376.4,2088.6 L1377.8,2082.7 L1379.1,2076.1 L1380.5,2071.0 L1381.8,2064.9 L1383.2,2059.3 L1384.5,2052.9 L1385.8,2047.2 L1387.2,2042.9 L1388.5,2036.7 L1389.9,2029.6 L1391.2,2023.4 L1392.6,2017.9 L1393.9,2010.3 L1395.3,2003.3 L1396.6,1997.9 L1398.0,1992.4 L1399.3,1986.9 L1400.7,1978.7 L1402.0,1970.7 L1403.4,1964.2 L1404.7,1959.9 L1406.1,1953.7 L1407.4,1949.3 L1408.8,1943.2 L1410.1,1937.9 L1411.5,1933.9 L1412.8,1927.7 L1414.2,1921.2 L1415.5,1916.1 L1416.9,1911.6 L1418.2,1906.1 L1419.5,1899.9 L1420.9,1896.0 L1422.2,1894.9 L1423.6,1889.4 L1424.9,1884.7 L1426.3,1882.3 L1427.6,1875.2 L1429.0,1870.2 L1430.3,1870.4 L1431.7,1868.9 L1433.0,1863.1 L1434.4,1856.2 L1435.7,1851.7 L1437.1,1851.8 L1438.4,1851.2 L1439.8,1849.4 L1441.1,1846.0 L1442.5,1844.7 L1443.8,1841.6 L1445.2,1838.3 L1446.5,1838.1 L1447.9,1838.1 L1449.2,1835.0 L1450.5,1832.1 L1451.9,1832.0 L1453.2,1834.1 L1454.6,1831.5 L1455.9,1829.8 L1457.3,1830.5 L1458.6,1831.2 L1460.0,1830.4 L1461.3,1828.3 L1462.7,1824.4 L1464.0,1825.5 L1465.4,1826.7 L1466.7,1825.4 L1468.1,1824.4 L1469.4,1825.9 L1470.8,1825.9 L1472.1,1826.9 L1473.5,1828.5 L1474.8,1827.6 L1476.2,1829.1 L1477.5,1829.4 L1478.9,1830.7 L1480.2,1834.6 L1481.6,1837.1 L1482.9,1836.8 L1484.2,1834.9 L1485.6,1838.2 L1486.9,1840.5 L1488.3,1840.7 L1489.6,1843.7 L1491.0,1844.2 L1492.3,1848.1 L1493.7,1850.1 L1495.0,1851.9 L1496.4,1853.4 L1497.7,1854.5 L1499.1,1857.3 L1500.4,1861.9 L1501.8,1863.9 L1503.1,1863.9 L1504.5,1864.6 L1505.8,1867.7 L1507.2,1870.9 L1508.5,1873.4 L1509.9,1872.6 L1511.2,1874.3 L1512.6,1877.5 L1513.9,1878.0 L1515.2,1878.0 L1516.6,1881.7 L1517.9,1883.9 L1519.3,1884.9 L1520.6,1888.7 L1522.0,1889.5 L1523.3,1890.6 L1524.7,1892.7 L1526.0,1894.1 L1527.4,1895.4 L1528.7,1896.6 L1530.1,1898.1 L1531.4,1898.7 L1532.8,1900.2 L1534.1,1903.0 L1535.5,1906.2 L1536.8,1909.1 L1538.2,1907.9 L1539.5,1909.2 L1540.9,1910.9 L1542.2,1912.2 L1543.6,1915.6 L1544.9,1917.6 L1546.3,1919.3 L1547.6,1923.7 L1548.9,1922.1 L1550.3,1923.5 L1551.6,1927.1 L1553.0,1928.1 L1554.3,1928.0 L1555.7,1930.5 L1557.0,1931.2 L1558.4,1932.9 L1559.7,1935.2 L1561.1,1937.2 L1562.4,1939.0 L1563.8,1940.8 L1565.1,1941.5 L1566.5,1943.3 L1567.8,1946.7 L1569.2,1945.2 L1570.5,1946.0 L1571.9,1950.6 L1573.2,1950.9 L1574.6,1952.5 L1575.9,1954.1 L1577.3,1956.7 L1578.6,1959.1 L1580.0,1959.4 L1581.3,1960.8 L1582.6,1962.8 L1584.0,1965.6 L1585.3,1966.4 L1586.7,1967.4 L1588.0,1970.7 L1589.4,1971.9 L1590.7,1974.4" stroke="#7f7f7f" stroke-width="3.3"/>
<path d="M426.5,2253.9 L437.8,2257.0 L449.1,2258.6 L460.4,2260.0 L471.7,2263.1 L483.1,2264.3 L494.4,2266.6 L505.7,2267.6 L517.0,2269.9 L528.3,2271.6 L539.6,2272.3 L550.9,2273.9 L562.2,2275.8 L573.6,2277.8 L584.9,2278.9 L596.2,2279.4 L607.5,2280.5 L618.8,2282.3 L630.1,2282.4 L641.4,2283.7 L652.8,2285.0 L664.1,2285.8 L675.4,2286.6 L686.7,2287.7 L698.0,2288.0 L709.3,2289.1 L720.6,2289.8 L732.0,2290.1 L743.3,2291.0 L754.6,2292.3 L765.9,2292.3 L777.2,2293.3 L788.5,2293.4 L799.8,2293.7 L811.2,2294.9 L822.5,2294.5 L833.8,2294.6 L845.1,2295.4 L856.4,2296.3 L867.7,2296.2 L879.0,2296.3 L890.4,2296.5 L901.7,2296.6 L913.0,2297.2" stroke="#70ad47" stroke-width="5.4"/>
<path d="M904.6,2297.0 L915.6,2296.7 L926.7,2296.0 L937.7,2297.0 L948.7,2297.0 L959.8,2296.7 L970.8,2296.2 L981.9,2296.5 L992.9,2297.1 L1003.9,2296.0 L1015.0,2295.5 L1026.0,2295.0 L1037.0,2294.3 L1048.1,2293.3 L1059.1,2291.0 L1070.1,2290.4 L1081.2,2289.2 L1092.2,2288.1 L1103.3,2286.0 L1114.3,2283.5" stroke="#70ad47" stroke-width="4.6"/>
<path d="M1105.9,2285.4 L1114.3,2283.7 L1122.7,2281.3 L1131.1,2279.4 L1139.5,2277.5 L1147.8,2276.0 L1156.2,2272.9 L1164.6,2270.7 L1173.0,2267.7 L1181.4,2264.4 L1189.8,2261.0 L1198.2,2257.3 L1206.6,2254.7 L1215.0,2249.4" stroke="#70ad47" stroke-width="4.0"/>
<path d="M1206.6,2254.1 L1212.2,2251.1 L1217.7,2248.5 L1223.3,2244.6 L1228.9,2242.0 L1234.5,2238.4 L1240.1,2235.7 L1245.7,2231.6 L1251.3,2228.3 L1256.9,2224.8 L1262.5,2220.5 L1268.1,2216.3 L1273.7,2211.8 L1279.3,2206.3 L1284.9,2201.8 L1290.4,2196.9" stroke="#70ad47" stroke-width="3.6"/>
<path d="M1282.1,2204.9 L1283.4,2203.0 L1284.8,2201.9 L1286.1,2201.0 L1287.4,2199.7 L1288.8,2197.6 L1290.1,2196.4 L1291.5,2195.9 L1292.8,2194.9 L1294.2,2193.5 L1295.5,2192.0 L1296.9,2190.7 L1298.2,2189.8 L1299.6,2188.1 L1300.9,2186.0 L1302.3,2183.9 L1303.6,2182.4 L1305.0,2181.1 L1306.3,2179.8 L1307.7,2177.6 L1309.0,2175.4 L1310.4,2173.4 L1311.7,2171.6 L1313.1,2170.5 L1314.4,2168.8 L1315.8,2166.3 L1317.1,2164.7 L1318.5,2162.6 L1319.8,2161.0 L1321.1,2159.7 L1322.5,2157.2 L1323.8,2155.0 L1325.2,2153.1 L1326.5,2151.3 L1327.9,2149.6 L1329.2,2147.3 L1330.6,2144.7 L1331.9,2141.8 L1333.3,2140.0 L1334.6,2137.6 L1336.0,2135.2 L1337.3,2134.2 L1338.7,2131.0 L1340.0,2128.7 L1341.4,2127.0 L1342.7,2124.6 L1344.1,2120.9 L1345.4,2118.3 L1346.8,2116.1 L1348.1,2113.2 L1349.5,2108.6 L1350.8,2105.0 L1352.1,2102.8 L1353.5,2099.0 L1354.8,2094.7 L1356.2,2090.7 L1357.5,2087.0 L1358.9,2082.1 L1360.2,2079.1 L1361.6,2076.0 L1362.9,2072.5 L1364.3,2068.4 L1365.6,2063.1 L1367.0,2059.2 L1368.3,2055.8 L1369.7,2051.3 L1371.0,2045.3 L1372.4,2040.2 L1373.7,2036.1 L1375.1,2031.9 L1376.4,2027.0 L1377.8,2020.4 L1379.1,2014.6 L1380.5,2010.3 L1381.8,2005.1 L1383.2,1998.9 L1384.5,1994.8 L1385.8,1988.3 L1387.2,1981.3 L1388.5,1977.1 L1389.9,1973.1 L1391.2,1969.2 L1392.6,1962.6 L1393.9,1955.0 L1395.3,1948.0 L1396.6,1943.8 L1398.0,1936.4 L1399.3,1932.2 L1400.7,1927.6 L1402.0,1922.0 L1403.4,1917.5 L1404.7,1910.0 L1406.1,1903.8 L1407.4,1901.9 L1408.8,1896.9 L1410.1,1891.0 L1411.5,1884.3 L1412.8,1878.0 L1414.2,1872.3 L1415.5,1869.9 L1416.9,1864.6 L1418.2,1861.0 L1419.5,1856.5 L1420.9,1852.3 L1422.2,1848.1 L1423.6,1845.0 L1424.9,1839.4 L1426.3,1836.3 L1427.6,1835.6 L1429.0,1831.5 L1430.3,1827.7 L1431.7,1826.6 L1433.0,1824.5 L1434.4,1820.8 L1435.7,1816.6 L1437.1,1814.1 L1438.4,1813.0 L1439.8,1810.5 L1441.1,1809.4 L1442.5,1803.7 L1443.8,1802.6 L1445.2,1800.4 L1446.5,1800.7 L1447.9,1799.8 L1449.2,1797.5 L1450.5,1797.3 L1451.9,1798.7 L1453.2,1797.0 L1454.6,1795.1 L1455.9,1794.4 L1457.3,1793.8 L1458.6,1793.2 L1460.0,1792.1 L1461.3,1790.4 L1462.7,1790.6 L1464.0,1791.1 L1465.4,1790.8 L1466.7,1788.8 L1468.1,1789.6 L1469.4,1789.1 L1470.8,1792.1 L1472.1,1794.7 L1473.5,1795.0 L1474.8,1795.9 L1476.2,1797.0 L1477.5,1797.9 L1478.9,1798.5 L1480.2,1798.9 L1481.6,1802.7 L1482.9,1805.3 L1484.2,1805.6 L1485.6,1804.6 L1486.9,1807.2 L1488.3,1808.7 L1489.6,1809.3 L1491.0,1813.3 L1492.3,1817.2 L1493.7,1817.2 L1495.0,1816.9 L1496.4,1817.5 L1497.7,1820.5 L1499.1,1824.7 L1500.4,1827.2 L1501.8,1829.4 L1503.1,1831.1 L1504.5,1831.4 L1505.8,1834.8 L1507.2,1838.1 L1508.5,1841.3 L1509.9,1843.5 L1511.2,1843.3 L1512.6,1844.0 L1513.9,1847.3 L1515.2,1849.6 L1516.6,1852.2 L1517.9,1854.0 L1519.3,1854.5 L1520.6,1853.2 L1522.0,1852.9 L1523.3,1856.0 L1524.7,1859.8 L1526.0,1862.4 L1527.4,1863.1 L1528.7,1867.1 L1530.1,1869.2 L1531.4,1868.9 L1532.8,1871.8 L1534.1,1872.1 L1535.5,1873.9 L1536.8,1876.0 L1538.2,1879.8 L1539.5,1879.9 L1540.9,1880.7 L1542.2,1883.2 L1543.6,1887.1 L1544.9,1889.0 L1546.3,1890.7 L1547.6,1889.8 L1548.9,1892.3 L1550.3,1894.4 L1551.6,1895.4 L1553.0,1898.3 L1554.3,1900.1 L1555.7,1901.9 L1557.0,1903.8 L1558.4,1907.3 L1559.7,1906.6 L1561.1,1908.7 L1562.4,1911.4 L1563.8,1910.6 L1565.1,1911.4 L1566.5,1916.0 L1567.8,1917.9 L1569.2,1919.1 L1570.5,1921.0 L1571.9,1924.5 L1573.2,1925.6 L1574.6,1927.2 L1575.9,1928.5 L1577.3,1931.1 L1578.6,1932.8 L1580.0,1934.5 L1581.3,1936.1 L1582.6,1937.1 L1584.0,1939.1 L1585.3,1942.2 L1586.7,1943.5 L1588.0,1944.2 L1589.4,1944.6 L1590.7,1945.8" stroke="#70ad47" stroke-width="3.3"/>
<path d="M426.5,2274.2 L437.8,2276.9 L449.1,2277.9 L460.4,2280.5 L471.7,2281.3 L483.1,2282.6 L494.4,2285.0 L505.7,2285.7 L517.0,2286.6 L528.3,2287.2 L539.6,2289.3 L550.9,2289.9 L562.2,2291.5 L573.6,2291.9 L584.9,2292.3 L596.2,2293.6 L607.5,2295.5 L618.8,2296.2 L630.1,2297.1 L641.4,2297.5 L652.8,2298.5 L664.1,2298.0 L675.4,2299.3 L686.7,2299.1 L698.0,2300.6 L709.3,2301.1 L720.6,2301.7 L732.0,2302.0 L743.3,2302.5 L754.6,2303.0 L765.9,2303.8 L777.2,2304.4 L788.5,2304.3 L799.8,2304.4 L811.2,2304.8 L822.5,2305.7 L833.8,2305.3 L845.1,2306.1 L856.4,2306.8 L867.7,2306.3 L879.0,2307.1 L890.4,2306.2 L901.7,2306.7 L913.0,2307.2" stroke="#70ad47" stroke-width="5.4"/>
<path d="M904.6,2307.0 L915.6,2306.9 L926.7,2307.1 L937.7,2307.2 L948.7,2306.2 L959.8,2306.9 L970.8,2306.8 L981.9,2307.1 L992.9,2305.9 L1003.9,2305.6 L1015.0,2305.0 L1026.0,2305.1 L1037.0,2303.5 L1048.1,2303.7 L1059.1,2302.8 L1070.1,2301.5 L1081.2,2300.3 L1092.2,2298.7 L1103.3,2296.4 L1114.3,2295.5" stroke="#70ad47" stroke-width="4.6"/>
<path d="M1105.9,2296.4 L1114.3,2295.3 L1122.7,2294.2 L1131.1,2292.9 L1139.5,2290.6 L1147.8,2289.0 L1156.2,2286.8 L1164.6,2284.1 L1173.0,2282.0 L1181.4,2278.9 L1189.8,2277.1 L1198.2,2273.8 L1206.6,2269.1 L1215.0,2265.9" stroke="#70ad47" stroke-width="4.0"/>
<path d="M1206.6,2269.9 L1212.2,2267.3 L1217.7,2265.4 L1223.3,2262.6 L1228.9,2259.1 L1234.5,2257.2 L1240.1,2253.2 L1245.7,2251.1 L1251.3,2246.5 L1256.9,2243.2 L1262.5,2239.6 L1268.1,2235.3 L1273.7,2231.1 L1279.3,2227.0 L1284.9,2222.4 L1290.4,2217.1" stroke="#70ad47" stroke-width="3.6"/>
<path d="M1282.1,2224.3 L1283.4,2223.4 L1284.8,2221.8 L1286.1,2220.1 L1287.4,2219.5 L1288.8,2218.7 L1290.1,2217.7 L1291.5,2215.7 L1292.8,2214.7 L1294.2,2213.9 L1295.5,2212.6 L1296.9,2210.6 L1298.2,2209.3 L1299.6,2207.9 L1300.9,2206.7 L1302.3,2205.4 L1303.6,2203.3 L1305.0,2201.6 L1306.3,2200.4 L1307.7,2198.8 L1309.0,2196.8 L1310.4,2194.8 L1311.7,2192.1 L1313.1,2190.0 L1314.4,2189.3 L1315.8,2187.7 L1317.1,2185.1 L1318.5,2183.2 L1319.8,2181.5 L1321.1,2179.5 L1322.5,2177.1 L1323.8,2175.3 L1325.2,2173.2 L1326.5,2171.6 L1327.9,2170.6 L1329.2,2167.6 L1330.6,2165.0 L1331.9,2163.1 L1333.3,2161.5 L1334.6,2160.1 L1336.0,2158.1 L1337.3,2155.2 L1338.7,2152.7 L1340.0,2149.0 L1341.4,2146.6 L1342.7,2144.4 L1344.1,2141.4 L1345.4,2138.9 L1346.8,2136.1 L1348.1,2132.3 L1349.5,2129.4 L1350.8,2126.2 L1352.1,2122.4 L1353.5,2118.6 L1354.8,2114.9 L1356.2,2111.7 L1357.5,2107.6 L1358.9,2103.1 L1360.2,2099.0 L1361.6,2095.2 L1362.9,2092.1 L1364.3,2087.8 L1365.6,2083.5 L1367.0,2078.6 L1368.3,2073.8 L1369.7,2069.9 L1371.0,2065.3 L1372.4,2060.4 L1373.7,2055.5 L1375.1,2050.7 L1376.4,2045.8 L1377.8,2040.6 L1379.1,2034.5 L1380.5,2027.5 L1381.8,2021.7 L1383.2,2017.6 L1384.5,2013.2 L1385.8,2007.0 L1387.2,2001.2 L1388.5,1997.3 L1389.9,1990.3 L1391.2,1982.4 L1392.6,1978.0 L1393.9,1973.9 L1395.3,1968.4 L1396.6,1963.5 L1398.0,1956.8 L1399.3,1950.7 L1400.7,1945.0 L1402.0,1939.3 L1403.4,1933.1 L1404.7,1926.4 L1406.1,1921.2 L1407.4,1916.5 L1408.8,1911.5 L1410.1,1907.6 L1411.5,1900.1 L1412.8,1891.7 L1414.2,1886.9 L1415.5,1884.0 L1416.9,1881.4 L1418.2,1875.4 L1419.5,1868.5 L1420.9,1866.2 L1422.2,1862.5 L1423.6,1856.5 L1424.9,1851.6 L1426.3,1848.4 L1427.6,1845.1 L1429.0,1843.5 L1430.3,1839.1 L1431.7,1837.1 L1433.0,1835.2 L1434.4,1834.5 L1435.7,1830.3 L1437.1,1827.5 L1438.4,1825.2 L1439.8,1824.9 L1441.1,1823.9 L1442.5,1819.9 L1443.8,1816.4 L1445.2,1815.8 L1446.5,1815.2 L1447.9,1813.1 L1449.2,1810.0 L1450.5,1811.0 L1451.9,1811.1 L1453.2,1807.2 L1454.6,1806.8 L1455.9,1807.0 L1457.3,1808.3 L1458.6,1806.2 L1460.0,1803.6 L1461.3,1802.2 L1462.7,1801.7 L1464.0,1800.9 L1465.4,1802.3 L1466.7,1804.5 L1468.1,1805.5 L1469.4,1802.6 L1470.8,1802.1 L1472.1,1800.7 L1473.5,1802.8 L1474.8,1807.4 L1476.2,1807.6 L1477.5,1808.0 L1478.9,1810.1 L1480.2,1814.1 L1481.6,1815.5 L1482.9,1815.7 L1484.2,1815.3 L1485.6,1818.3 L1486.9,1822.1 L1488.3,1824.2 L1489.6,1825.6 L1491.0,1828.9 L1492.3,1830.5 L1493.7,1830.6 L1495.0,1831.1 L1496.4,1833.8 L1497.7,1837.0 L1499.1,1840.6 L1500.4,1843.2 L1501.8,1845.3 L1503.1,1844.5 L1504.5,1846.0 L1505.8,1847.4 L1507.2,1846.6 L1508.5,1849.9 L1509.9,1851.4 L1511.2,1854.1 L1512.6,1856.6 L1513.9,1859.9 L1515.2,1860.4 L1516.6,1862.1 L1517.9,1866.0 L1519.3,1865.4 L1520.6,1868.4 L1522.0,1870.4 L1523.3,1871.4 L1524.7,1871.5 L1526.0,1873.8 L1527.4,1877.3 L1528.7,1879.1 L1530.1,1879.9 L1531.4,1882.6 L1532.8,1884.9 L1534.1,1885.8 L1535.5,1886.6 L1536.8,1890.9 L1538.2,1893.0 L1539.5,1892.9 L1540.9,1895.6 L1542.2,1897.9 L1543.6,1898.0 L1544.9,1900.7 L1546.3,1903.6 L1547.6,1904.8 L1548.9,1903.9 L1550.3,1905.9 L1551.6,1906.5 L1553.0,1909.3 L1554.3,1912.2 L1555.7,1912.5 L1557.0,1914.8 L1558.4,1917.0 L1559.7,1921.1 L1561.1,1923.4 L1562.4,1924.2 L1563.8,1925.4 L1565.1,1925.3 L1566.5,1927.5 L1567.8,1930.8 L1569.2,1932.8 L1570.5,1936.5 L1571.9,1936.5 L1573.2,1937.5 L1574.6,1940.8 L1575.9,1942.6 L1577.3,1943.0 L1578.6,1944.1 L1580.0,1944.7 L1581.3,1948.0 L1582.6,1948.7 L1584.0,1948.7 L1585.3,1950.6 L1586.7,1953.8 L1588.0,1956.9 L1589.4,1958.3 L1590.7,1959.1" stroke="#70ad47" stroke-width="3.3"/>
<path d="M426.5,2278.8 L437.8,2280.4 L449.1,2282.4 L460.4,2284.4 L471.7,2285.2 L483.1,2286.7 L494.4,2288.3 L505.7,2289.5 L517.0,2290.8 L528.3,2291.8 L539.6,2293.0 L550.9,2294.4 L562.2,2295.1 L573.6,2296.4 L584.9,2297.5 L596.2,2298.0 L607.5,2298.5 L618.8,2299.5 L630.1,2300.3 L641.4,2300.7 L652.8,2301.7 L664.1,2302.5 L675.4,2303.3 L686.7,2303.3 L698.0,2304.6 L709.3,2305.1 L720.6,2305.3 L732.0,2305.7 L743.3,2306.9 L754.6,2306.8 L765.9,2307.4 L777.2,2307.8 L788.5,2308.3 L799.8,2308.6 L811.2,2308.5 L822.5,2309.0 L833.8,2309.8 L845.1,2309.9 L856.4,2310.4 L867.7,2310.9 L879.0,2310.7 L890.4,2310.4 L901.7,2310.6 L913.0,2311.2" stroke="#70ad47" stroke-width="5.4"/>
<path d="M904.6,2310.0 L915.6,2310.6 L926.7,2311.2 L937.7,2311.0 L948.7,2310.9 L959.8,2311.0 L970.8,2310.3 L981.9,2310.0 L992.9,2310.4 L1003.9,2309.9 L1015.0,2309.6 L1026.0,2309.4 L1037.0,2309.1 L1048.1,2308.5 L1059.1,2307.2 L1070.1,2306.4 L1081.2,2305.5 L1092.2,2304.3 L1103.3,2302.9 L1114.3,2301.6" stroke="#70ad47" stroke-width="4.6"/>
<path d="M1105.9,2303.2 L1114.3,2302.1 L1122.7,2299.8 L1131.1,2298.7 L1139.5,2297.6 L1147.8,2295.7 L1156.2,2293.5 L1164.6,2291.2 L1173.0,2289.2 L1181.4,2287.2 L1189.8,2284.8 L1198.2,2282.7 L1206.6,2279.3 L1215.0,2276.3" stroke="#70ad47" stroke-width="4.0"/>
<path d="M1206.6,2279.3 L1212.2,2277.8 L1217.7,2274.9 L1223.3,2272.9 L1228.9,2270.0 L1234.5,2268.4 L1240.1,2265.1 L1245.7,2262.6 L1251.3,2260.0 L1256.9,2256.6 L1262.5,2253.7 L1268.1,2249.6 L1273.7,2247.0 L1279.3,2241.8 L1284.9,2239.1 L1290.4,2235.2" stroke="#70ad47" stroke-width="3.6"/>
<path d="M1282.1,2241.1 L1283.4,2239.9 L1284.8,2239.0 L1286.1,2238.2 L1287.4,2237.4 L1288.8,2236.3 L1290.1,2234.9 L1291.5,2233.8 L1292.8,2232.8 L1294.2,2232.0 L1295.5,2230.6 L1296.9,2229.5 L1298.2,2228.2 L1299.6,2227.0 L1300.9,2225.4 L1302.3,2223.9 L1303.6,2222.8 L1305.0,2221.4 L1306.3,2220.2 L1307.7,2218.9 L1309.0,2217.3 L1310.4,2215.9 L1311.7,2214.2 L1313.1,2212.4 L1314.4,2210.8 L1315.8,2209.7 L1317.1,2207.7 L1318.5,2205.9 L1319.8,2204.7 L1321.1,2203.1 L1322.5,2201.4 L1323.8,2199.9 L1325.2,2198.3 L1326.5,2196.8 L1327.9,2195.8 L1329.2,2193.8 L1330.6,2191.4 L1331.9,2189.2 L1333.3,2187.9 L1334.6,2186.3 L1336.0,2184.2 L1337.3,2181.9 L1338.7,2180.1 L1340.0,2177.5 L1341.4,2174.8 L1342.7,2172.7 L1344.1,2170.1 L1345.4,2167.4 L1346.8,2164.7 L1348.1,2162.6 L1349.5,2159.9 L1350.8,2156.2 L1352.1,2152.9 L1353.5,2150.4 L1354.8,2147.3 L1356.2,2144.6 L1357.5,2141.6 L1358.9,2138.8 L1360.2,2135.4 L1361.6,2131.8 L1362.9,2127.7 L1364.3,2124.4 L1365.6,2120.5 L1367.0,2117.0 L1368.3,2114.4 L1369.7,2109.9 L1371.0,2106.5 L1372.4,2103.1 L1373.7,2100.0 L1375.1,2096.8 L1376.4,2092.3 L1377.8,2087.8 L1379.1,2083.8 L1380.5,2078.7 L1381.8,2074.0 L1383.2,2070.3 L1384.5,2065.7 L1385.8,2060.7 L1387.2,2057.0 L1388.5,2052.2 L1389.9,2048.1 L1391.2,2042.7 L1392.6,2038.5 L1393.9,2034.7 L1395.3,2029.8 L1396.6,2024.7 L1398.0,2022.0 L1399.3,2017.8 L1400.7,2011.8 L1402.0,2007.2 L1403.4,2003.4 L1404.7,1998.9 L1406.1,1994.9 L1407.4,1990.7 L1408.8,1987.1 L1410.1,1983.4 L1411.5,1979.9 L1412.8,1976.9 L1414.2,1973.2 L1415.5,1969.3 L1416.9,1966.5 L1418.2,1964.1 L1419.5,1959.5 L1420.9,1954.7 L1422.2,1952.6 L1423.6,1950.8 L1424.9,1949.3 L1426.3,1947.8 L1427.6,1945.2 L1429.0,1943.2 L1430.3,1940.8 L1431.7,1939.8 L1433.0,1937.1 L1434.4,1935.1 L1435.7,1933.0 L1437.1,1931.4 L1438.4,1929.9 L1439.8,1930.2 L1441.1,1927.9 L1442.5,1925.4 L1443.8,1923.7 L1445.2,1924.0 L1446.5,1924.0 L1447.9,1922.9 L1449.2,1921.5 L1450.5,1921.4 L1451.9,1921.7 L1453.2,1921.1 L1454.6,1920.6 L1455.9,1919.5 L1457.3,1918.3 L1458.6,1917.1 L1460.0,1917.7 L1461.3,1918.6 L1462.7,1918.4 L1464.0,1918.8 L1465.4,1918.8 L1466.7,1918.8 L1468.1,1919.3 L1469.4,1920.2 L1470.8,1920.3 L1472.1,1920.2 L1473.5,1920.5 L1474.8,1921.7 L1476.2,1924.7 L1477.5,1926.6 L1478.9,1927.3 L1480.2,1927.7 L1481.6,1929.4 L1482.9,1931.1 L1484.2,1933.3 L1485.6,1933.8 L1486.9,1934.4 L1488.3,1937.7 L1489.6,1939.4 L1491.0,1940.2 L1492.3,1941.3 L1493.7,1943.2 L1495.0,1943.5 L1496.4,1944.1 L1497.7,1945.6 L1499.1,1948.0 L1500.4,1950.4 L1501.8,1952.5 L1503.1,1953.3 L1504.5,1954.9 L1505.8,1957.6 L1507.2,1957.7 L1508.5,1958.3 L1509.9,1959.0 L1511.2,1959.4 L1512.6,1962.0 L1513.9,1963.7 L1515.2,1964.9 L1516.6,1966.9 L1517.9,1968.9 L1519.3,1971.6 L1520.6,1972.8 L1522.0,1973.8 L1523.3,1975.4 L1524.7,1975.1 L1526.0,1976.0 L1527.4,1977.6 L1528.7,1980.2 L1530.1,1983.0 L1531.4,1982.5 L1532.8,1983.1 L1534.1,1983.4 L1535.5,1985.7 L1536.8,1989.3 L1538.2,1991.2 L1539.5,1991.5 L1540.9,1992.3 L1542.2,1993.0 L1543.6,1993.0 L1544.9,1994.2 L1546.3,1996.5 L1547.6,1998.5 L1548.9,2000.2 L1550.3,2001.8 L1551.6,2004.2 L1553.0,2004.4 L1554.3,2005.4 L1555.7,2006.7 L1557.0,2009.7 L1558.4,2010.0 L1559.7,2011.1 L1561.1,2012.6 L1562.4,2013.5 L1563.8,2016.5 L1565.1,2018.5 L1566.5,2019.1 L1567.8,2019.2 L1569.2,2020.8 L1570.5,2023.3 L1571.9,2023.4 L1573.2,2023.6 L1574.6,2026.9 L1575.9,2028.9 L1577.3,2029.7 L1578.6,2030.7 L1580.0,2032.5 L1581.3,2033.2 L1582.6,2034.4 L1584.0,2036.3 L1585.3,2038.9 L1586.7,2039.7 L1588.0,2040.8 L1589.4,2042.4 L1590.7,2045.4" stroke="#70ad47" stroke-width="3.3"/>
<path d="M426.5,2266.5 L437.8,2268.5 L449.1,2270.0 L460.4,2272.3 L471.7,2274.5 L483.1,2275.7 L494.4,2277.1 L505.7,2278.4 L517.0,2279.6 L528.3,2282.1 L539.6,2283.2 L550.9,2284.3 L562.2,2285.1 L573.6,2286.7 L584.9,2287.9 L596.2,2288.8 L607.5,2290.2 L618.8,2291.0 L630.1,2291.5 L641.4,2292.6 L652.8,2293.8 L664.1,2294.8 L675.4,2294.5 L686.7,2295.2 L698.0,2296.4 L709.3,2297.1 L720.6,2297.4 L732.0,2298.0 L743.3,2298.4 L754.6,2298.8 L765.9,2299.8 L777.2,2301.1 L788.5,2300.6 L799.8,2301.4 L811.2,2302.3 L822.5,2301.8 L833.8,2301.8 L845.1,2302.9 L856.4,2302.8 L867.7,2302.9 L879.0,2303.4 L890.4,2303.5 L901.7,2304.0 L913.0,2304.1" stroke="#c00000" stroke-width="5.4"/>
<path d="M904.6,2303.9 L915.6,2303.9 L926.7,2304.1 L937.7,2304.5 L948.7,2304.3 L959.8,2304.0 L970.8,2303.9 L981.9,2303.8 L992.9,2303.3 L1003.9,2303.3 L1015.0,2302.1 L1026.0,2302.2 L1037.0,2300.6 L1048.1,2300.6 L1059.1,2300.4 L1070.1,2298.7 L1081.2,2298.0 L1092.2,2296.7 L1103.3,2295.0 L1114.3,2292.6" stroke="#c00000" stroke-width="4.6"/>
<path d="M1105.9,2294.6 L1114.3,2293.5 L1122.7,2292.2 L1131.1,2290.3 L1139.5,2288.3 L1147.8,2286.5 L1156.2,2284.2 L1164.6,2282.1 L1173.0,2279.5 L1181.4,2277.7 L1189.8,2273.5 L1198.2,2271.5 L1206.6,2267.7 L1215.0,2263.9" stroke="#c00000" stroke-width="4.0"/>
<path d="M1206.6,2267.5 L1212.2,2264.9 L1217.7,2262.5 L1223.3,2259.3 L1228.9,2257.4 L1234.5,2253.5 L1240.1,2251.0 L1245.7,2247.3 L1251.3,2244.3 L1256.9,2240.5 L1262.5,2236.6 L1268.1,2232.2 L1273.7,2228.9 L1279.3,2224.0 L1284.9,2219.0 L1290.4,2214.4" stroke="#c00000" stroke-width="3.6"/>
<path d="M1282.1,2221.2 L1283.4,2220.4 L1284.8,2219.0 L1286.1,2218.3 L1287.4,2217.4 L1288.8,2215.9 L1290.1,2215.0 L1291.5,2213.4 L1292.8,2211.7 L1294.2,2210.3 L1295.5,2209.1 L1296.9,2208.0 L1298.2,2206.7 L1299.6,2205.5 L1300.9,2203.9 L1302.3,2202.3 L1303.6,2200.5 L1305.0,2198.5 L1306.3,2197.0 L1307.7,2195.5 L1309.0,2193.7 L1310.4,2191.5 L1311.7,2189.8 L1313.1,2188.0 L1314.4,2186.2 L1315.8,2184.3 L1317.1,2182.2 L1318.5,2180.3 L1319.8,2178.8 L1321.1,2177.0 L1322.5,2175.0 L1323.8,2172.5 L1325.2,2170.0 L1326.5,2168.3 L1327.9,2166.3 L1329.2,2164.6 L1330.6,2162.1 L1331.9,2159.5 L1333.3,2157.5 L1334.6,2155.2 L1336.0,2152.8 L1337.3,2151.1 L1338.7,2148.3 L1340.0,2145.3 L1341.4,2142.8 L1342.7,2140.9 L1344.1,2138.3 L1345.4,2135.0 L1346.8,2132.0 L1348.1,2128.8 L1349.5,2125.5 L1350.8,2122.0 L1352.1,2117.1 L1353.5,2112.8 L1354.8,2109.0 L1356.2,2105.7 L1357.5,2102.4 L1358.9,2098.5 L1360.2,2094.0 L1361.6,2089.9 L1362.9,2085.5 L1364.3,2081.8 L1365.6,2077.3 L1367.0,2072.5 L1368.3,2069.1 L1369.7,2065.4 L1371.0,2060.4 L1372.4,2054.7 L1373.7,2050.3 L1375.1,2046.2 L1376.4,2040.4 L1377.8,2034.9 L1379.1,2029.1 L1380.5,2024.3 L1381.8,2019.3 L1383.2,2013.7 L1384.5,2007.4 L1385.8,2001.3 L1387.2,1996.6 L1388.5,1990.7 L1389.9,1985.9 L1391.2,1980.3 L1392.6,1975.0 L1393.9,1969.1 L1395.3,1964.0 L1396.6,1957.2 L1398.0,1952.1 L1399.3,1947.8 L1400.7,1942.5 L1402.0,1937.0 L1403.4,1930.3 L1404.7,1924.9 L1406.1,1919.5 L1407.4,1915.3 L1408.8,1909.2 L1410.1,1903.8 L1411.5,1898.0 L1412.8,1894.0 L1414.2,1889.5 L1415.5,1884.6 L1416.9,1880.9 L1418.2,1878.1 L1419.5,1873.2 L1420.9,1868.8 L1422.2,1865.9 L1423.6,1863.7 L1424.9,1859.4 L1426.3,1855.7 L1427.6,1851.9 L1429.0,1849.8 L1430.3,1847.3 L1431.7,1844.4 L1433.0,1841.8 L1434.4,1840.1 L1435.7,1839.2 L1437.1,1836.7 L1438.4,1832.7 L1439.8,1830.5 L1441.1,1828.8 L1442.5,1826.3 L1443.8,1826.0 L1445.2,1824.2 L1446.5,1824.8 L1447.9,1823.8 L1449.2,1821.5 L1450.5,1819.9 L1451.9,1818.4 L1453.2,1819.1 L1454.6,1818.7 L1455.9,1816.1 L1457.3,1815.5 L1458.6,1818.0 L1460.0,1819.5 L1461.3,1817.9 L1462.7,1815.4 L1464.0,1816.5 L1465.4,1815.4 L1466.7,1815.5 L1468.1,1816.2 L1469.4,1816.0 L1470.8,1817.1 L1472.1,1816.2 L1473.5,1818.2 L1474.8,1821.2 L1476.2,1824.4 L1477.5,1825.4 L1478.9,1825.9 L1480.2,1828.0 L1481.6,1829.8 L1482.9,1830.7 L1484.2,1831.6 L1485.6,1833.0 L1486.9,1835.1 L1488.3,1836.9 L1489.6,1838.7 L1491.0,1839.3 L1492.3,1841.9 L1493.7,1844.8 L1495.0,1847.8 L1496.4,1850.1 L1497.7,1851.7 L1499.1,1853.6 L1500.4,1857.0 L1501.8,1858.3 L1503.1,1859.0 L1504.5,1860.7 L1505.8,1862.7 L1507.2,1863.1 L1508.5,1863.8 L1509.9,1866.6 L1511.2,1868.1 L1512.6,1870.9 L1513.9,1872.1 L1515.2,1872.1 L1516.6,1873.8 L1517.9,1876.6 L1519.3,1878.1 L1520.6,1879.0 L1522.0,1882.9 L1523.3,1883.6 L1524.7,1886.5 L1526.0,1888.8 L1527.4,1888.6 L1528.7,1890.9 L1530.1,1892.5 L1531.4,1894.4 L1532.8,1895.3 L1534.1,1896.9 L1535.5,1898.2 L1536.8,1901.3 L1538.2,1904.0 L1539.5,1905.9 L1540.9,1905.8 L1542.2,1907.5 L1543.6,1909.9 L1544.9,1911.9 L1546.3,1913.0 L1547.6,1914.9 L1548.9,1916.8 L1550.3,1918.1 L1551.6,1918.5 L1553.0,1921.6 L1554.3,1924.5 L1555.7,1926.5 L1557.0,1926.5 L1558.4,1927.8 L1559.7,1929.7 L1561.1,1931.0 L1562.4,1933.0 L1563.8,1936.3 L1565.1,1939.0 L1566.5,1940.2 L1567.8,1939.9 L1569.2,1941.8 L1570.5,1942.9 L1571.9,1945.4 L1573.2,1947.5 L1574.6,1947.3 L1575.9,1950.0 L1577.3,1952.4 L1578.6,1954.5 L1580.0,1956.1 L1581.3,1958.9 L1582.6,1961.4 L1584.0,1962.2 L1585.3,1963.0 L1586.7,1964.8 L1588.0,1967.2 L1589.4,1968.6 L1590.7,1969.4" stroke="#c00000" stroke-width="3.3"/>
<path d="M426.5,2269.6 L437.8,2271.7 L449.1,2273.2 L460.4,2275.3 L471.7,2276.7 L483.1,2277.5 L494.4,2279.8 L505.7,2281.2 L517.0,2283.1 L528.3,2284.5 L539.6,2285.2 L550.9,2287.1 L562.2,2288.3 L573.6,2288.9 L584.9,2290.3 L596.2,2291.0 L607.5,2292.5 L618.8,2292.8 L630.1,2294.8 L641.4,2295.2 L652.8,2296.2 L664.1,2296.4 L675.4,2297.8 L686.7,2297.6 L698.0,2299.0 L709.3,2299.0 L720.6,2299.9 L732.0,2300.2 L743.3,2300.7 L754.6,2301.8 L765.9,2302.1 L777.2,2302.3 L788.5,2303.0 L799.8,2303.0 L811.2,2303.4 L822.5,2304.4 L833.8,2305.3 L845.1,2305.0 L856.4,2304.8 L867.7,2305.7 L879.0,2306.0 L890.4,2306.2 L901.7,2306.0 L913.0,2305.9" stroke="#c00000" stroke-width="5.4"/>
<path d="M904.6,2306.9 L915.6,2306.2 L926.7,2306.7 L937.7,2307.2 L948.7,2306.3 L959.8,2306.8 L970.8,2306.9 L981.9,2306.6 L992.9,2306.8 L1003.9,2306.0 L1015.0,2306.2 L1026.0,2305.0 L1037.0,2305.0 L1048.1,2304.9 L1059.1,2304.2 L1070.1,2303.8 L1081.2,2302.4 L1092.2,2301.5 L1103.3,2301.2 L1114.3,2299.2" stroke="#c00000" stroke-width="4.6"/>
<path d="M1105.9,2300.0 L1114.3,2298.9 L1122.7,2298.2 L1131.1,2297.0 L1139.5,2295.5 L1147.8,2293.7 L1156.2,2292.2 L1164.6,2290.6 L1173.0,2288.8 L1181.4,2287.0 L1189.8,2285.1 L1198.2,2282.0 L1206.6,2279.5 L1215.0,2276.2" stroke="#c00000" stroke-width="4.0"/>
<path d="M1206.6,2278.5 L1212.2,2277.8 L1217.7,2274.7 L1223.3,2273.2 L1228.9,2270.6 L1234.5,2268.2 L1240.1,2265.4 L1245.7,2262.5 L1251.3,2259.7 L1256.9,2256.0 L1262.5,2253.3 L1268.1,2249.2 L1273.7,2245.8 L1279.3,2241.9 L1284.9,2237.3 L1290.4,2233.2" stroke="#c00000" stroke-width="3.6"/>
<path d="M1282.1,2239.1 L1283.4,2238.0 L1284.8,2237.4 L1286.1,2236.5 L1287.4,2235.1 L1288.8,2234.0 L1290.1,2232.9 L1291.5,2232.0 L1292.8,2230.7 L1294.2,2229.2 L1295.5,2227.8 L1296.9,2227.0 L1298.2,2225.6 L1299.6,2224.3 L1300.9,2222.7 L1302.3,2221.1 L1303.6,2220.2 L1305.0,2218.8 L1306.3,2217.0 L1307.7,2215.1 L1309.0,2213.1 L1310.4,2211.7 L1311.7,2209.7 L1313.1,2208.1 L1314.4,2206.4 L1315.8,2205.0 L1317.1,2203.5 L1318.5,2201.3 L1319.8,2199.1 L1321.1,2197.5 L1322.5,2195.7 L1323.8,2193.7 L1325.2,2192.5 L1326.5,2190.0 L1327.9,2187.7 L1329.2,2186.0 L1330.6,2183.8 L1331.9,2181.2 L1333.3,2179.4 L1334.6,2177.7 L1336.0,2175.3 L1337.3,2173.1 L1338.7,2170.1 L1340.0,2167.4 L1341.4,2164.9 L1342.7,2162.3 L1344.1,2160.0 L1345.4,2157.7 L1346.8,2154.4 L1348.1,2150.5 L1349.5,2146.6 L1350.8,2143.1 L1352.1,2139.2 L1353.5,2135.9 L1354.8,2132.0 L1356.2,2128.7 L1357.5,2124.1 L1358.9,2119.9 L1360.2,2115.5 L1361.6,2111.6 L1362.9,2107.6 L1364.3,2102.8 L1365.6,2097.9 L1367.0,2093.3 L1368.3,2088.5 L1369.7,2084.7 L1371.0,2080.3 L1372.4,2075.7 L1373.7,2070.4 L1375.1,2064.7 L1376.4,2059.2 L1377.8,2054.9 L1379.1,2050.6 L1380.5,2044.9 L1381.8,2038.8 L1383.2,2033.0 L1384.5,2026.9 L1385.8,2021.3 L1387.2,2016.8 L1388.5,2012.1 L1389.9,2006.5 L1391.2,1999.5 L1392.6,1992.7 L1393.9,1987.6 L1395.3,1982.2 L1396.6,1978.0 L1398.0,1972.6 L1399.3,1966.9 L1400.7,1961.6 L1402.0,1955.7 L1403.4,1949.6 L1404.7,1944.0 L1406.1,1938.2 L1407.4,1933.0 L1408.8,1928.2 L1410.1,1924.3 L1411.5,1919.4 L1412.8,1914.1 L1414.2,1908.9 L1415.5,1905.4 L1416.9,1901.8 L1418.2,1897.3 L1419.5,1892.3 L1420.9,1889.1 L1422.2,1886.3 L1423.6,1882.9 L1424.9,1878.8 L1426.3,1874.2 L1427.6,1871.8 L1429.0,1867.4 L1430.3,1864.0 L1431.7,1862.7 L1433.0,1859.5 L1434.4,1856.8 L1435.7,1856.7 L1437.1,1853.5 L1438.4,1849.1 L1439.8,1848.5 L1441.1,1846.9 L1442.5,1845.1 L1443.8,1845.0 L1445.2,1843.8 L1446.5,1841.6 L1447.9,1838.7 L1449.2,1839.5 L1450.5,1840.4 L1451.9,1838.1 L1453.2,1837.6 L1454.6,1837.1 L1455.9,1836.6 L1457.3,1836.2 L1458.6,1835.1 L1460.0,1835.8 L1461.3,1834.5 L1462.7,1833.4 L1464.0,1833.5 L1465.4,1833.9 L1466.7,1833.4 L1468.1,1834.1 L1469.4,1835.4 L1470.8,1836.4 L1472.1,1838.4 L1473.5,1838.3 L1474.8,1839.6 L1476.2,1842.6 L1477.5,1843.2 L1478.9,1844.1 L1480.2,1847.0 L1481.6,1847.8 L1482.9,1847.9 L1484.2,1848.4 L1485.6,1849.3 L1486.9,1852.5 L1488.3,1856.9 L1489.6,1859.6 L1491.0,1861.1 L1492.3,1861.9 L1493.7,1863.5 L1495.0,1866.1 L1496.4,1867.7 L1497.7,1868.3 L1499.1,1869.1 L1500.4,1870.9 L1501.8,1874.0 L1503.1,1875.8 L1504.5,1879.0 L1505.8,1880.1 L1507.2,1880.9 L1508.5,1883.0 L1509.9,1885.3 L1511.2,1886.8 L1512.6,1888.0 L1513.9,1889.0 L1515.2,1890.5 L1516.6,1893.5 L1517.9,1895.1 L1519.3,1895.9 L1520.6,1898.0 L1522.0,1900.1 L1523.3,1901.4 L1524.7,1903.1 L1526.0,1905.5 L1527.4,1906.7 L1528.7,1909.4 L1530.1,1911.2 L1531.4,1911.8 L1532.8,1912.8 L1534.1,1914.8 L1535.5,1916.1 L1536.8,1917.3 L1538.2,1918.1 L1539.5,1919.1 L1540.9,1922.4 L1542.2,1925.0 L1543.6,1926.6 L1544.9,1927.5 L1546.3,1930.3 L1547.6,1932.7 L1548.9,1935.3 L1550.3,1935.5 L1551.6,1937.0 L1553.0,1938.0 L1554.3,1938.5 L1555.7,1940.8 L1557.0,1943.5 L1558.4,1945.5 L1559.7,1946.2 L1561.1,1948.7 L1562.4,1950.8 L1563.8,1952.4 L1565.1,1954.6 L1566.5,1956.5 L1567.8,1957.1 L1569.2,1958.1 L1570.5,1959.5 L1571.9,1960.7 L1573.2,1961.9 L1574.6,1964.0 L1575.9,1966.2 L1577.3,1967.9 L1578.6,1969.3 L1580.0,1970.3 L1581.3,1971.7 L1582.6,1973.9 L1584.0,1976.3 L1585.3,1976.9 L1586.7,1979.0 L1588.0,1980.9 L1589.4,1981.7 L1590.7,1983.1" stroke="#c00000" stroke-width="3.3"/>
<path d="M426.5,2271.9 L437.8,2273.0 L449.1,2275.4 L460.4,2276.9 L471.7,2279.0 L483.1,2279.5 L494.4,2282.2 L505.7,2283.3 L517.0,2284.9 L528.3,2285.4 L539.6,2287.3 L550.9,2289.0 L562.2,2290.0 L573.6,2291.3 L584.9,2292.4 L596.2,2293.1 L607.5,2294.6 L618.8,2294.8 L630.1,2296.6 L641.4,2296.8 L652.8,2297.4 L664.1,2298.2 L675.4,2298.5 L686.7,2299.8 L698.0,2300.2 L709.3,2301.4 L720.6,2301.2 L732.0,2303.3 L743.3,2302.9 L754.6,2303.8 L765.9,2303.8 L777.2,2304.9 L788.5,2305.0 L799.8,2305.3 L811.2,2306.2 L822.5,2306.2 L833.8,2306.4 L845.1,2307.1 L856.4,2307.5 L867.7,2307.5 L879.0,2307.2 L890.4,2308.3 L901.7,2307.9 L913.0,2309.1" stroke="#c00000" stroke-width="5.4"/>
<path d="M904.6,2308.6 L915.6,2308.4 L926.7,2308.3 L937.7,2308.8 L948.7,2308.7 L959.8,2309.3 L970.8,2309.1 L981.9,2308.5 L992.9,2308.6 L1003.9,2308.5 L1015.0,2308.8 L1026.0,2307.4 L1037.0,2307.2 L1048.1,2307.3 L1059.1,2306.6 L1070.1,2306.6 L1081.2,2305.2 L1092.2,2304.6 L1103.3,2303.8 L1114.3,2303.2" stroke="#c00000" stroke-width="4.6"/>
<path d="M1105.9,2303.7 L1114.3,2303.0 L1122.7,2301.2 L1131.1,2300.6 L1139.5,2298.6 L1147.8,2297.8 L1156.2,2296.8 L1164.6,2294.5 L1173.0,2292.9 L1181.4,2291.4 L1189.8,2290.2 L1198.2,2287.2 L1206.6,2284.6 L1215.0,2282.0" stroke="#c00000" stroke-width="4.0"/>
<path d="M1206.6,2285.2 L1212.2,2283.6 L1217.7,2281.7 L1223.3,2279.7 L1228.9,2277.3 L1234.5,2274.4 L1240.1,2271.9 L1245.7,2270.1 L1251.3,2267.6 L1256.9,2264.2 L1262.5,2261.3 L1268.1,2257.8 L1273.7,2254.7 L1279.3,2251.1 L1284.9,2246.6 L1290.4,2243.2" stroke="#c00000" stroke-width="3.6"/>
<path d="M1282.1,2248.9 L1283.4,2248.1 L1284.8,2247.1 L1286.1,2246.2 L1287.4,2245.2 L1288.8,2244.2 L1290.1,2242.9 L1291.5,2242.1 L1292.8,2241.2 L1294.2,2240.0 L1295.5,2238.6 L1296.9,2237.8 L1298.2,2236.8 L1299.6,2235.6 L1300.9,2234.1 L1302.3,2232.8 L1303.6,2231.4 L1305.0,2229.7 L1306.3,2227.9 L1307.7,2226.6 L1309.0,2225.2 L1310.4,2223.9 L1311.7,2222.1 L1313.1,2220.4 L1314.4,2218.9 L1315.8,2217.4 L1317.1,2215.9 L1318.5,2213.9 L1319.8,2212.5 L1321.1,2211.0 L1322.5,2209.0 L1323.8,2207.2 L1325.2,2205.5 L1326.5,2203.5 L1327.9,2201.7 L1329.2,2200.1 L1330.6,2198.4 L1331.9,2196.3 L1333.3,2194.4 L1334.6,2192.3 L1336.0,2189.7 L1337.3,2187.5 L1338.7,2186.2 L1340.0,2183.9 L1341.4,2181.8 L1342.7,2179.5 L1344.1,2176.6 L1345.4,2173.9 L1346.8,2171.4 L1348.1,2168.0 L1349.5,2164.8 L1350.8,2161.8 L1352.1,2158.0 L1353.5,2154.5 L1354.8,2151.3 L1356.2,2147.6 L1357.5,2143.6 L1358.9,2139.6 L1360.2,2135.2 L1361.6,2132.0 L1362.9,2128.5 L1364.3,2124.1 L1365.6,2120.6 L1367.0,2116.6 L1368.3,2112.3 L1369.7,2107.9 L1371.0,2103.2 L1372.4,2098.2 L1373.7,2094.5 L1375.1,2089.9 L1376.4,2084.5 L1377.8,2079.3 L1379.1,2075.7 L1380.5,2071.1 L1381.8,2065.4 L1383.2,2061.0 L1384.5,2056.3 L1385.8,2050.9 L1387.2,2045.2 L1388.5,2040.6 L1389.9,2036.8 L1391.2,2030.0 L1392.6,2024.1 L1393.9,2019.5 L1395.3,2015.0 L1396.6,2010.0 L1398.0,2005.8 L1399.3,1999.0 L1400.7,1994.5 L1402.0,1989.8 L1403.4,1983.6 L1404.7,1977.8 L1406.1,1974.3 L1407.4,1969.7 L1408.8,1965.4 L1410.1,1960.5 L1411.5,1954.7 L1412.8,1949.8 L1414.2,1947.2 L1415.5,1944.0 L1416.9,1939.9 L1418.2,1936.0 L1419.5,1932.7 L1420.9,1929.5 L1422.2,1926.5 L1423.6,1922.8 L1424.9,1918.4 L1426.3,1913.8 L1427.6,1912.3 L1429.0,1909.0 L1430.3,1907.6 L1431.7,1905.6 L1433.0,1902.3 L1434.4,1899.8 L1435.7,1899.2 L1437.1,1897.6 L1438.4,1894.8 L1439.8,1892.8 L1441.1,1891.4 L1442.5,1889.8 L1443.8,1888.8 L1445.2,1887.9 L1446.5,1885.4 L1447.9,1883.0 L1449.2,1882.7 L1450.5,1883.2 L1451.9,1882.4 L1453.2,1881.9 L1454.6,1881.9 L1455.9,1881.4 L1457.3,1880.1 L1458.6,1877.9 L1460.0,1878.2 L1461.3,1879.5 L1462.7,1879.1 L1464.0,1878.9 L1465.4,1879.6 L1466.7,1879.7 L1468.1,1880.7 L1469.4,1880.2 L1470.8,1880.4 L1472.1,1882.2 L1473.5,1882.9 L1474.8,1883.8 L1476.2,1884.7 L1477.5,1885.9 L1478.9,1888.4 L1480.2,1888.9 L1481.6,1890.1 L1482.9,1892.6 L1484.2,1892.6 L1485.6,1893.8 L1486.9,1894.8 L1488.3,1896.9 L1489.6,1898.4 L1491.0,1900.2 L1492.3,1902.4 L1493.7,1904.0 L1495.0,1906.9 L1496.4,1910.0 L1497.7,1910.8 L1499.1,1911.3 L1500.4,1912.2 L1501.8,1914.5 L1503.1,1916.0 L1504.5,1916.8 L1505.8,1918.9 L1507.2,1922.3 L1508.5,1923.4 L1509.9,1924.7 L1511.2,1924.8 L1512.6,1925.6 L1513.9,1928.0 L1515.2,1931.0 L1516.6,1932.2 L1517.9,1932.3 L1519.3,1934.5 L1520.6,1936.8 L1522.0,1937.5 L1523.3,1939.2 L1524.7,1941.7 L1526.0,1942.8 L1527.4,1944.5 L1528.7,1945.5 L1530.1,1947.0 L1531.4,1949.1 L1532.8,1952.0 L1534.1,1952.2 L1535.5,1952.9 L1536.8,1953.3 L1538.2,1955.5 L1539.5,1957.8 L1540.9,1960.6 L1542.2,1962.3 L1543.6,1962.7 L1544.9,1963.5 L1546.3,1965.5 L1547.6,1965.8 L1548.9,1967.6 L1550.3,1970.0 L1551.6,1970.8 L1553.0,1973.3 L1554.3,1974.8 L1555.7,1976.7 L1557.0,1977.7 L1558.4,1978.8 L1559.7,1981.1 L1561.1,1982.2 L1562.4,1984.5 L1563.8,1985.7 L1565.1,1986.3 L1566.5,1987.8 L1567.8,1989.8 L1569.2,1991.9 L1570.5,1992.2 L1571.9,1995.2 L1573.2,1997.5 L1574.6,1998.1 L1575.9,1998.8 L1577.3,1999.3 L1578.6,2001.5 L1580.0,2004.1 L1581.3,2005.6 L1582.6,2006.1 L1584.0,2007.8 L1585.3,2010.0 L1586.7,2011.8 L1588.0,2012.1 L1589.4,2013.6 L1590.7,2015.0" stroke="#c00000" stroke-width="3.3"/>
<path d="M426.5,2300.7 L437.8,2302.8 L449.1,2304.7 L460.4,2307.1 L471.7,2307.5 L483.1,2308.4 L494.4,2309.7 L505.7,2311.7 L517.0,2313.3 L528.3,2313.9 L539.6,2316.0 L550.9,2316.5 L562.2,2317.1 L573.6,2318.0 L584.9,2318.9 L596.2,2320.4 L607.5,2321.3 L618.8,2321.3 L630.1,2321.7 L641.4,2322.8 L652.8,2323.7 L664.1,2323.8 L675.4,2324.0 L686.7,2325.0 L698.0,2325.8 L709.3,2325.2 L720.6,2326.0 L732.0,2326.9 L743.3,2327.2 L754.6,2327.8 L765.9,2327.4 L777.2,2328.4 L788.5,2328.9 L799.8,2328.8 L811.2,2328.3 L822.5,2330.5 L833.8,2330.0 L845.1,2329.5 L856.4,2329.9 L867.7,2330.2 L879.0,2330.4 L890.4,2330.7 L901.7,2330.6 L913.0,2330.8" stroke="#ff0000" stroke-width="5.4"/>
<path d="M904.6,2330.9 L915.6,2331.4 L926.7,2331.3 L937.7,2331.7 L948.7,2331.1 L959.8,2331.4 L970.8,2331.2 L981.9,2331.1 L992.9,2331.6 L1003.9,2331.4 L1015.0,2331.8 L1026.0,2331.5 L1037.0,2332.1 L1048.1,2331.6 L1059.1,2331.8 L1070.1,2331.4 L1081.2,2331.5 L1092.2,2331.8 L1103.3,2330.8 L1114.3,2331.1" stroke="#ff0000" stroke-width="4.6"/>
<path d="M1105.9,2331.6 L1114.3,2330.8 L1122.7,2331.1 L1131.1,2331.0 L1139.5,2329.9 L1147.8,2329.7 L1156.2,2329.9 L1164.6,2329.1 L1173.0,2328.2 L1181.4,2327.9 L1189.8,2327.2 L1198.2,2326.6 L1206.6,2325.4 L1215.0,2323.9" stroke="#ff0000" stroke-width="4.0"/>
<path d="M1206.6,2325.5 L1212.2,2324.9 L1217.7,2324.1 L1223.3,2322.8 L1228.9,2321.9 L1234.5,2320.4 L1240.1,2319.1 L1245.7,2317.8 L1251.3,2316.4 L1256.9,2314.5 L1262.5,2312.6 L1268.1,2312.1 L1273.7,2309.3 L1279.3,2306.1 L1284.9,2303.2 L1290.4,2300.3" stroke="#ff0000" stroke-width="3.6"/>
<path d="M1282.1,2305.1 L1283.4,2304.5 L1284.8,2303.7 L1286.1,2302.7 L1287.4,2302.2 L1288.8,2301.9 L1290.1,2300.9 L1291.5,2300.0 L1292.8,2299.1 L1294.2,2298.6 L1295.5,2297.9 L1296.9,2297.0 L1298.2,2296.0 L1299.6,2295.5 L1300.9,2294.7 L1302.3,2293.8 L1303.6,2292.7 L1305.0,2291.4 L1306.3,2290.3 L1307.7,2289.2 L1309.0,2288.3 L1310.4,2287.3 L1311.7,2285.9 L1313.1,2284.8 L1314.4,2283.4 L1315.8,2282.4 L1317.1,2281.3 L1318.5,2279.6 L1319.8,2278.3 L1321.1,2276.9 L1322.5,2275.6 L1323.8,2274.4 L1325.2,2273.0 L1326.5,2271.3 L1327.9,2270.0 L1329.2,2268.7 L1330.6,2267.3 L1331.9,2265.4 L1333.3,2263.9 L1334.6,2263.1 L1336.0,2261.5 L1337.3,2259.5 L1338.7,2257.5 L1340.0,2255.6 L1341.4,2253.7 L1342.7,2251.4 L1344.1,2249.5 L1345.4,2247.8 L1346.8,2245.4 L1348.1,2243.1 L1349.5,2240.9 L1350.8,2238.5 L1352.1,2235.5 L1353.5,2232.8 L1354.8,2230.0 L1356.2,2226.1 L1357.5,2222.6 L1358.9,2219.2 L1360.2,2216.1 L1361.6,2212.5 L1362.9,2208.4 L1364.3,2204.1 L1365.6,2200.3 L1367.0,2196.4 L1368.3,2191.6 L1369.7,2188.9 L1371.0,2185.5 L1372.4,2180.5 L1373.7,2176.8 L1375.1,2172.4 L1376.4,2167.6 L1377.8,2163.9 L1379.1,2159.1 L1380.5,2154.0 L1381.8,2149.1 L1383.2,2144.6 L1384.5,2140.6 L1385.8,2135.9 L1387.2,2132.6 L1388.5,2127.9 L1389.9,2122.5 L1391.2,2117.3 L1392.6,2112.0 L1393.9,2106.4 L1395.3,2101.6 L1396.6,2096.8 L1398.0,2093.0 L1399.3,2089.4 L1400.7,2082.5 L1402.0,2078.1 L1403.4,2074.8 L1404.7,2070.4 L1406.1,2064.9 L1407.4,2060.0 L1408.8,2054.3 L1410.1,2049.1 L1411.5,2045.1 L1412.8,2040.0 L1414.2,2035.8 L1415.5,2033.2 L1416.9,2029.9 L1418.2,2026.8 L1419.5,2023.9 L1420.9,2020.7 L1422.2,2017.9 L1423.6,2013.7 L1424.9,2009.8 L1426.3,2005.4 L1427.6,2002.0 L1429.0,2000.3 L1430.3,1998.4 L1431.7,1995.5 L1433.0,1993.3 L1434.4,1990.4 L1435.7,1986.2 L1437.1,1984.3 L1438.4,1983.1 L1439.8,1981.2 L1441.1,1980.8 L1442.5,1980.3 L1443.8,1978.8 L1445.2,1977.0 L1446.5,1975.3 L1447.9,1972.4 L1449.2,1971.5 L1450.5,1971.6 L1451.9,1970.5 L1453.2,1969.6 L1454.6,1967.6 L1455.9,1966.5 L1457.3,1968.5 L1458.6,1966.8 L1460.0,1967.0 L1461.3,1967.5 L1462.7,1966.2 L1464.0,1963.7 L1465.4,1964.6 L1466.7,1963.5 L1468.1,1964.9 L1469.4,1966.4 L1470.8,1965.3 L1472.1,1963.9 L1473.5,1965.0 L1474.8,1967.7 L1476.2,1968.2 L1477.5,1969.1 L1478.9,1970.2 L1480.2,1970.7 L1481.6,1971.7 L1482.9,1973.3 L1484.2,1973.5 L1485.6,1975.8 L1486.9,1976.0 L1488.3,1975.9 L1489.6,1978.9 L1491.0,1980.6 L1492.3,1981.4 L1493.7,1984.3 L1495.0,1987.3 L1496.4,1988.2 L1497.7,1989.7 L1499.1,1992.0 L1500.4,1993.3 L1501.8,1992.0 L1503.1,1993.9 L1504.5,1996.6 L1505.8,1997.8 L1507.2,1999.2 L1508.5,2000.2 L1509.9,2000.1 L1511.2,2001.7 L1512.6,2005.3 L1513.9,2007.1 L1515.2,2008.3 L1516.6,2008.2 L1517.9,2005.7 L1519.3,2009.2 L1520.6,2011.2 L1522.0,2012.2 L1523.3,2015.4 L1524.7,2017.1 L1526.0,2016.2 L1527.4,2018.3 L1528.7,2019.0 L1530.1,2020.0 L1531.4,2019.1 L1532.8,2021.2 L1534.1,2024.5 L1535.5,2027.3 L1536.8,2028.9 L1538.2,2030.9 L1539.5,2031.6 L1540.9,2032.4 L1542.2,2031.9 L1543.6,2033.0 L1544.9,2033.8 L1546.3,2033.3 L1547.6,2036.3 L1548.9,2037.9 L1550.3,2039.7 L1551.6,2042.3 L1553.0,2043.5 L1554.3,2043.2 L1555.7,2045.9 L1557.0,2047.1 L1558.4,2048.3 L1559.7,2048.4 L1561.1,2049.2 L1562.4,2052.4 L1563.8,2053.0 L1565.1,2053.6 L1566.5,2056.7 L1567.8,2058.9 L1569.2,2059.3 L1570.5,2060.0 L1571.9,2061.1 L1573.2,2063.6 L1574.6,2064.4 L1575.9,2066.3 L1577.3,2066.5 L1578.6,2068.3 L1580.0,2070.8 L1581.3,2070.3 L1582.6,2071.2 L1584.0,2071.2 L1585.3,2073.1 L1586.7,2076.3 L1588.0,2078.0 L1589.4,2078.5 L1590.7,2079.9" stroke="#ff0000" stroke-width="3.3"/>
<path d="M426.5,2303.5 L437.8,2304.9 L449.1,2307.0 L460.4,2307.9 L471.7,2309.3 L483.1,2311.1 L494.4,2312.7 L505.7,2313.8 L517.0,2315.1 L528.3,2316.4 L539.6,2317.4 L550.9,2318.2 L562.2,2318.9 L573.6,2320.0 L584.9,2321.3 L596.2,2322.4 L607.5,2322.9 L618.8,2323.5 L630.1,2323.7 L641.4,2324.7 L652.8,2325.8 L664.1,2325.4 L675.4,2326.0 L686.7,2326.9 L698.0,2327.9 L709.3,2328.0 L720.6,2328.2 L732.0,2328.6 L743.3,2329.4 L754.6,2329.7 L765.9,2329.3 L777.2,2330.7 L788.5,2329.9 L799.8,2331.1 L811.2,2330.6 L822.5,2331.1 L833.8,2331.3 L845.1,2331.7 L856.4,2331.4 L867.7,2332.0 L879.0,2332.3 L890.4,2333.0 L901.7,2332.5 L913.0,2332.7" stroke="#ff0000" stroke-width="5.4"/>
<path d="M904.6,2332.9 L915.6,2333.2 L926.7,2333.0 L937.7,2333.0 L948.7,2333.3 L959.8,2332.8 L970.8,2333.2 L981.9,2334.0 L992.9,2333.8 L1003.9,2332.9 L1015.0,2333.5 L1026.0,2333.4 L1037.0,2333.8 L1048.1,2333.7 L1059.1,2333.7 L1070.1,2334.0 L1081.2,2334.0 L1092.2,2333.5 L1103.3,2333.3 L1114.3,2333.4" stroke="#ff0000" stroke-width="4.6"/>
<path d="M1105.9,2333.2 L1114.3,2333.3 L1122.7,2332.0 L1131.1,2332.9 L1139.5,2331.3 L1147.8,2331.9 L1156.2,2331.4 L1164.6,2331.1 L1173.0,2330.5 L1181.4,2329.8 L1189.8,2329.4 L1198.2,2328.7 L1206.6,2327.6 L1215.0,2326.4" stroke="#ff0000" stroke-width="4.0"/>
<path d="M1206.6,2327.3 L1212.2,2326.3 L1217.7,2326.3 L1223.3,2325.0 L1228.9,2324.0 L1234.5,2323.1 L1240.1,2321.9 L1245.7,2320.6 L1251.3,2319.1 L1256.9,2317.5 L1262.5,2314.9 L1268.1,2312.7 L1273.7,2311.2 L1279.3,2308.2 L1284.9,2306.9 L1290.4,2302.9" stroke="#ff0000" stroke-width="3.6"/>
<path d="M1282.1,2307.8 L1283.4,2307.1 L1284.8,2306.5 L1286.1,2305.6 L1287.4,2304.8 L1288.8,2304.3 L1290.1,2303.4 L1291.5,2302.4 L1292.8,2301.7 L1294.2,2301.1 L1295.5,2300.5 L1296.9,2299.9 L1298.2,2299.2 L1299.6,2298.6 L1300.9,2298.0 L1302.3,2297.0 L1303.6,2295.9 L1305.0,2294.5 L1306.3,2293.7 L1307.7,2292.7 L1309.0,2292.0 L1310.4,2290.9 L1311.7,2289.7 L1313.1,2288.4 L1314.4,2287.2 L1315.8,2286.2 L1317.1,2284.7 L1318.5,2283.3 L1319.8,2282.3 L1321.1,2281.1 L1322.5,2279.5 L1323.8,2278.2 L1325.2,2277.0 L1326.5,2275.4 L1327.9,2274.2 L1329.2,2272.6 L1330.6,2270.8 L1331.9,2269.6 L1333.3,2268.3 L1334.6,2266.5 L1336.0,2265.3 L1337.3,2263.5 L1338.7,2261.7 L1340.0,2259.6 L1341.4,2257.9 L1342.7,2256.2 L1344.1,2254.4 L1345.4,2252.5 L1346.8,2250.7 L1348.1,2248.5 L1349.5,2245.8 L1350.8,2243.3 L1352.1,2241.1 L1353.5,2238.1 L1354.8,2234.7 L1356.2,2231.2 L1357.5,2228.2 L1358.9,2224.9 L1360.2,2221.2 L1361.6,2217.6 L1362.9,2214.4 L1364.3,2210.5 L1365.6,2206.6 L1367.0,2203.0 L1368.3,2199.8 L1369.7,2196.5 L1371.0,2192.1 L1372.4,2187.4 L1373.7,2183.4 L1375.1,2179.0 L1376.4,2174.9 L1377.8,2170.9 L1379.1,2167.6 L1380.5,2163.6 L1381.8,2159.5 L1383.2,2154.3 L1384.5,2149.3 L1385.8,2145.6 L1387.2,2141.0 L1388.5,2136.1 L1389.9,2130.7 L1391.2,2126.0 L1392.6,2120.4 L1393.9,2116.0 L1395.3,2111.5 L1396.6,2107.4 L1398.0,2102.7 L1399.3,2100.2 L1400.7,2095.9 L1402.0,2090.1 L1403.4,2085.2 L1404.7,2080.1 L1406.1,2075.9 L1407.4,2071.8 L1408.8,2068.3 L1410.1,2062.5 L1411.5,2057.7 L1412.8,2053.6 L1414.2,2050.4 L1415.5,2046.9 L1416.9,2043.9 L1418.2,2040.5 L1419.5,2035.5 L1420.9,2031.2 L1422.2,2029.5 L1423.6,2028.1 L1424.9,2026.2 L1426.3,2022.1 L1427.6,2016.9 L1429.0,2012.8 L1430.3,2010.3 L1431.7,2009.1 L1433.0,2005.9 L1434.4,2002.4 L1435.7,2000.6 L1437.1,1998.7 L1438.4,1997.7 L1439.8,1997.1 L1441.1,1994.0 L1442.5,1991.1 L1443.8,1991.3 L1445.2,1992.3 L1446.5,1990.6 L1447.9,1987.2 L1449.2,1985.0 L1450.5,1984.7 L1451.9,1985.9 L1453.2,1984.1 L1454.6,1983.9 L1455.9,1983.0 L1457.3,1982.3 L1458.6,1981.0 L1460.0,1982.4 L1461.3,1981.4 L1462.7,1980.5 L1464.0,1981.2 L1465.4,1980.2 L1466.7,1978.7 L1468.1,1979.3 L1469.4,1979.4 L1470.8,1981.6 L1472.1,1983.7 L1473.5,1984.4 L1474.8,1982.9 L1476.2,1983.5 L1477.5,1983.8 L1478.9,1985.4 L1480.2,1986.3 L1481.6,1986.3 L1482.9,1987.4 L1484.2,1989.1 L1485.6,1989.3 L1486.9,1991.2 L1488.3,1991.4 L1489.6,1989.3 L1491.0,1991.8 L1492.3,1996.0 L1493.7,1999.0 L1495.0,2001.8 L1496.4,2003.0 L1497.7,2003.1 L1499.1,2004.6 L1500.4,2006.5 L1501.8,2007.4 L1503.1,2008.5 L1504.5,2009.6 L1505.8,2012.0 L1507.2,2013.6 L1508.5,2016.1 L1509.9,2016.0 L1511.2,2017.0 L1512.6,2019.6 L1513.9,2020.4 L1515.2,2020.8 L1516.6,2022.5 L1517.9,2022.3 L1519.3,2023.3 L1520.6,2026.2 L1522.0,2026.0 L1523.3,2027.6 L1524.7,2029.4 L1526.0,2029.1 L1527.4,2031.1 L1528.7,2032.6 L1530.1,2034.7 L1531.4,2037.0 L1532.8,2039.1 L1534.1,2038.6 L1535.5,2037.7 L1536.8,2041.0 L1538.2,2043.1 L1539.5,2043.9 L1540.9,2044.2 L1542.2,2046.2 L1543.6,2047.6 L1544.9,2048.8 L1546.3,2049.9 L1547.6,2051.1 L1548.9,2053.6 L1550.3,2055.2 L1551.6,2054.6 L1553.0,2054.7 L1554.3,2056.2 L1555.7,2058.8 L1557.0,2060.8 L1558.4,2060.2 L1559.7,2062.3 L1561.1,2064.1 L1562.4,2063.7 L1563.8,2064.0 L1565.1,2067.3 L1566.5,2068.2 L1567.8,2069.2 L1569.2,2070.3 L1570.5,2070.6 L1571.9,2073.6 L1573.2,2076.2 L1574.6,2076.2 L1575.9,2076.2 L1577.3,2076.2 L1578.6,2077.6 L1580.0,2078.6 L1581.3,2079.8 L1582.6,2082.6 L1584.0,2082.9 L1585.3,2083.5 L1586.7,2085.7 L1588.0,2087.7 L1589.4,2088.9 L1590.7,2089.4" stroke="#ff0000" stroke-width="3.3"/>
<path d="M426.5,2305.7 L437.8,2308.5 L449.1,2309.8 L460.4,2310.8 L471.7,2312.6 L483.1,2314.4 L494.4,2315.4 L505.7,2316.8 L517.0,2318.1 L528.3,2319.4 L539.6,2320.0 L550.9,2321.3 L562.2,2323.0 L573.6,2323.0 L584.9,2324.1 L596.2,2324.9 L607.5,2325.4 L618.8,2326.4 L630.1,2326.8 L641.4,2327.4 L652.8,2328.4 L664.1,2328.9 L675.4,2329.2 L686.7,2329.6 L698.0,2330.3 L709.3,2330.7 L720.6,2331.2 L732.0,2332.0 L743.3,2331.9 L754.6,2332.2 L765.9,2332.7 L777.2,2332.9 L788.5,2333.2 L799.8,2333.1 L811.2,2334.3 L822.5,2334.0 L833.8,2334.6 L845.1,2333.9 L856.4,2334.7 L867.7,2335.2 L879.0,2334.9 L890.4,2335.6 L901.7,2335.6 L913.0,2336.0" stroke="#ff0000" stroke-width="5.4"/>
<path d="M904.6,2335.2 L915.6,2335.6 L926.7,2335.9 L937.7,2336.1 L948.7,2336.6 L959.8,2336.2 L970.8,2336.5 L981.9,2337.1 L992.9,2336.1 L1003.9,2336.8 L1015.0,2336.9 L1026.0,2336.2 L1037.0,2336.5 L1048.1,2336.8 L1059.1,2336.3 L1070.1,2336.4 L1081.2,2336.8 L1092.2,2336.4 L1103.3,2336.5 L1114.3,2336.1" stroke="#ff0000" stroke-width="4.6"/>
<path d="M1105.9,2335.8 L1114.3,2336.4 L1122.7,2336.1 L1131.1,2335.9 L1139.5,2335.8 L1147.8,2335.0 L1156.2,2334.4 L1164.6,2334.5 L1173.0,2334.6 L1181.4,2333.9 L1189.8,2332.7 L1198.2,2332.4 L1206.6,2331.7 L1215.0,2331.0" stroke="#ff0000" stroke-width="4.0"/>
<path d="M1206.6,2331.3 L1212.2,2330.6 L1217.7,2329.9 L1223.3,2329.4 L1228.9,2328.0 L1234.5,2327.2 L1240.1,2326.4 L1245.7,2324.6 L1251.3,2323.0 L1256.9,2321.8 L1262.5,2320.9 L1268.1,2317.7 L1273.7,2316.4 L1279.3,2313.8 L1284.9,2312.2 L1290.4,2308.9" stroke="#ff0000" stroke-width="3.6"/>
<path d="M1282.1,2313.1 L1283.4,2312.6 L1284.8,2312.1 L1286.1,2311.3 L1287.4,2310.5 L1288.8,2309.8 L1290.1,2309.0 L1291.5,2308.5 L1292.8,2307.9 L1294.2,2307.1 L1295.5,2306.5 L1296.9,2305.9 L1298.2,2305.1 L1299.6,2304.3 L1300.9,2303.5 L1302.3,2302.7 L1303.6,2302.1 L1305.0,2301.1 L1306.3,2300.0 L1307.7,2299.1 L1309.0,2298.2 L1310.4,2297.2 L1311.7,2295.8 L1313.1,2294.9 L1314.4,2293.8 L1315.8,2292.9 L1317.1,2291.8 L1318.5,2290.7 L1319.8,2289.2 L1321.1,2287.7 L1322.5,2286.5 L1323.8,2285.4 L1325.2,2284.3 L1326.5,2282.9 L1327.9,2281.4 L1329.2,2279.9 L1330.6,2278.8 L1331.9,2277.5 L1333.3,2275.9 L1334.6,2274.5 L1336.0,2273.1 L1337.3,2271.4 L1338.7,2269.7 L1340.0,2268.1 L1341.4,2266.7 L1342.7,2264.9 L1344.1,2262.8 L1345.4,2261.0 L1346.8,2259.2 L1348.1,2256.9 L1349.5,2254.4 L1350.8,2251.9 L1352.1,2249.6 L1353.5,2247.0 L1354.8,2243.9 L1356.2,2240.7 L1357.5,2237.5 L1358.9,2234.4 L1360.2,2231.1 L1361.6,2227.7 L1362.9,2224.8 L1364.3,2221.5 L1365.6,2218.1 L1367.0,2214.2 L1368.3,2210.7 L1369.7,2207.4 L1371.0,2203.9 L1372.4,2200.0 L1373.7,2195.7 L1375.1,2192.1 L1376.4,2188.9 L1377.8,2184.3 L1379.1,2179.8 L1380.5,2176.7 L1381.8,2173.6 L1383.2,2169.5 L1384.5,2164.7 L1385.8,2159.9 L1387.2,2155.7 L1388.5,2151.9 L1389.9,2147.6 L1391.2,2143.2 L1392.6,2139.3 L1393.9,2134.8 L1395.3,2131.1 L1396.6,2127.4 L1398.0,2123.2 L1399.3,2118.5 L1400.7,2114.4 L1402.0,2110.2 L1403.4,2107.1 L1404.7,2102.6 L1406.1,2097.9 L1407.4,2094.0 L1408.8,2090.6 L1410.1,2086.7 L1411.5,2081.5 L1412.8,2077.4 L1414.2,2074.5 L1415.5,2072.3 L1416.9,2069.1 L1418.2,2066.1 L1419.5,2062.7 L1420.9,2059.0 L1422.2,2056.3 L1423.6,2053.9 L1424.9,2050.2 L1426.3,2048.0 L1427.6,2045.1 L1429.0,2042.6 L1430.3,2040.7 L1431.7,2038.3 L1433.0,2037.5 L1434.4,2036.3 L1435.7,2033.8 L1437.1,2032.3 L1438.4,2029.0 L1439.8,2027.4 L1441.1,2027.1 L1442.5,2026.1 L1443.8,2024.1 L1445.2,2022.5 L1446.5,2022.0 L1447.9,2020.9 L1449.2,2019.9 L1450.5,2018.9 L1451.9,2018.1 L1453.2,2018.6 L1454.6,2018.9 L1455.9,2018.1 L1457.3,2017.2 L1458.6,2016.2 L1460.0,2016.6 L1461.3,2016.8 L1462.7,2015.1 L1464.0,2015.3 L1465.4,2015.5 L1466.7,2015.6 L1468.1,2016.3 L1469.4,2018.5 L1470.8,2017.7 L1472.1,2016.8 L1473.5,2017.3 L1474.8,2019.0 L1476.2,2020.1 L1477.5,2021.4 L1478.9,2022.0 L1480.2,2022.7 L1481.6,2023.8 L1482.9,2023.4 L1484.2,2025.1 L1485.6,2027.3 L1486.9,2027.8 L1488.3,2027.3 L1489.6,2028.9 L1491.0,2031.2 L1492.3,2032.3 L1493.7,2033.2 L1495.0,2034.3 L1496.4,2035.6 L1497.7,2037.3 L1499.1,2038.6 L1500.4,2039.9 L1501.8,2040.7 L1503.1,2042.8 L1504.5,2043.9 L1505.8,2045.5 L1507.2,2046.1 L1508.5,2046.8 L1509.9,2048.4 L1511.2,2050.0 L1512.6,2051.0 L1513.9,2051.1 L1515.2,2052.2 L1516.6,2054.1 L1517.9,2055.2 L1519.3,2056.1 L1520.6,2056.7 L1522.0,2057.4 L1523.3,2058.5 L1524.7,2060.2 L1526.0,2061.7 L1527.4,2063.0 L1528.7,2063.9 L1530.1,2064.7 L1531.4,2067.3 L1532.8,2067.4 L1534.1,2068.5 L1535.5,2070.6 L1536.8,2071.0 L1538.2,2071.8 L1539.5,2072.7 L1540.9,2074.4 L1542.2,2075.7 L1543.6,2076.9 L1544.9,2078.3 L1546.3,2078.4 L1547.6,2079.7 L1548.9,2081.5 L1550.3,2082.2 L1551.6,2082.7 L1553.0,2084.0 L1554.3,2086.0 L1555.7,2087.2 L1557.0,2088.0 L1558.4,2089.8 L1559.7,2090.7 L1561.1,2091.0 L1562.4,2092.2 L1563.8,2094.5 L1565.1,2095.7 L1566.5,2096.3 L1567.8,2097.3 L1569.2,2098.5 L1570.5,2099.1 L1571.9,2100.1 L1573.2,2102.1 L1574.6,2102.7 L1575.9,2104.0 L1577.3,2105.1 L1578.6,2106.8 L1580.0,2108.1 L1581.3,2108.6 L1582.6,2109.8 L1584.0,2110.4 L1585.3,2111.0 L1586.7,2112.4 L1588.0,2114.5 L1589.4,2115.4 L1590.7,2116.4" stroke="#ff0000" stroke-width="3.3"/>
<path d="M426.5,2273.5 L437.8,2275.3 L449.1,2276.9 L460.4,2279.6 L471.7,2280.8 L483.1,2282.0 L494.4,2283.8 L505.7,2285.8 L517.0,2287.3 L528.3,2288.4 L539.6,2289.2 L550.9,2291.1 L562.2,2291.8 L573.6,2293.7 L584.9,2294.6 L596.2,2295.6 L607.5,2296.3 L618.8,2297.4 L630.1,2297.9 L641.4,2299.3 L652.8,2300.2 L664.1,2300.8 L675.4,2302.0 L686.7,2302.6 L698.0,2303.3 L709.3,2303.8 L720.6,2304.7 L732.0,2305.6 L743.3,2306.2 L754.6,2306.5 L765.9,2306.2 L777.2,2307.0 L788.5,2307.5 L799.8,2308.0 L811.2,2308.3 L822.5,2309.5 L833.8,2309.0 L845.1,2309.6 L856.4,2309.9 L867.7,2310.0 L879.0,2310.1 L890.4,2310.5 L901.7,2311.2 L913.0,2311.1" stroke="#ff0066" stroke-width="5.4"/>
<path d="M904.6,2310.6 L915.6,2311.0 L926.7,2310.5 L937.7,2310.9 L948.7,2310.2 L959.8,2311.2 L970.8,2310.7 L981.9,2310.0 L992.9,2310.2 L1003.9,2310.1 L1015.0,2309.9 L1026.0,2309.8 L1037.0,2308.3 L1048.1,2308.0 L1059.1,2306.7 L1070.1,2306.0 L1081.2,2304.7 L1092.2,2303.6 L1103.3,2301.9 L1114.3,2300.0" stroke="#ff0066" stroke-width="4.6"/>
<path d="M1105.9,2302.0 L1114.3,2301.2 L1122.7,2298.9 L1131.1,2296.9 L1139.5,2295.6 L1147.8,2293.7 L1156.2,2291.0 L1164.6,2289.6 L1173.0,2286.8 L1181.4,2284.4 L1189.8,2282.0 L1198.2,2279.1 L1206.6,2275.5 L1215.0,2272.4" stroke="#ff0066" stroke-width="4.0"/>
<path d="M1206.6,2275.8 L1212.2,2273.0 L1217.7,2270.7 L1223.3,2268.2 L1228.9,2265.1 L1234.5,2262.4 L1240.1,2259.9 L1245.7,2256.6 L1251.3,2253.1 L1256.9,2249.3 L1262.5,2246.5 L1268.1,2242.6 L1273.7,2238.1 L1279.3,2233.8 L1284.9,2228.8 L1290.4,2225.1" stroke="#ff0066" stroke-width="3.6"/>
<path d="M1282.1,2231.3 L1283.4,2230.1 L1284.8,2228.9 L1286.1,2227.9 L1287.4,2226.7 L1288.8,2225.7 L1290.1,2224.6 L1291.5,2223.4 L1292.8,2222.3 L1294.2,2220.9 L1295.5,2219.8 L1296.9,2218.7 L1298.2,2217.6 L1299.6,2215.6 L1300.9,2213.7 L1302.3,2212.4 L1303.6,2211.1 L1305.0,2210.2 L1306.3,2208.2 L1307.7,2206.4 L1309.0,2205.2 L1310.4,2203.2 L1311.7,2200.9 L1313.1,2199.4 L1314.4,2197.9 L1315.8,2196.1 L1317.1,2194.3 L1318.5,2192.0 L1319.8,2190.2 L1321.1,2189.0 L1322.5,2187.8 L1323.8,2185.6 L1325.2,2183.2 L1326.5,2181.3 L1327.9,2179.2 L1329.2,2176.8 L1330.6,2175.0 L1331.9,2172.8 L1333.3,2171.5 L1334.6,2169.9 L1336.0,2167.1 L1337.3,2164.9 L1338.7,2162.1 L1340.0,2160.0 L1341.4,2158.5 L1342.7,2156.5 L1344.1,2153.9 L1345.4,2151.1 L1346.8,2148.8 L1348.1,2145.1 L1349.5,2141.9 L1350.8,2138.6 L1352.1,2135.1 L1353.5,2132.5 L1354.8,2129.5 L1356.2,2125.8 L1357.5,2121.9 L1358.9,2119.1 L1360.2,2114.9 L1361.6,2110.8 L1362.9,2107.8 L1364.3,2104.2 L1365.6,2099.8 L1367.0,2096.6 L1368.3,2093.0 L1369.7,2089.2 L1371.0,2084.1 L1372.4,2080.1 L1373.7,2076.4 L1375.1,2072.5 L1376.4,2067.1 L1377.8,2062.0 L1379.1,2057.4 L1380.5,2052.4 L1381.8,2047.0 L1383.2,2043.3 L1384.5,2037.4 L1385.8,2030.6 L1387.2,2025.4 L1388.5,2020.6 L1389.9,2016.2 L1391.2,2011.1 L1392.6,2004.8 L1393.9,2000.3 L1395.3,1995.8 L1396.6,1990.3 L1398.0,1984.0 L1399.3,1979.5 L1400.7,1973.2 L1402.0,1969.0 L1403.4,1964.5 L1404.7,1958.3 L1406.1,1953.1 L1407.4,1949.2 L1408.8,1943.8 L1410.1,1938.7 L1411.5,1934.8 L1412.8,1931.0 L1414.2,1925.1 L1415.5,1921.3 L1416.9,1916.8 L1418.2,1913.9 L1419.5,1910.4 L1420.9,1905.8 L1422.2,1901.9 L1423.6,1898.3 L1424.9,1895.6 L1426.3,1892.5 L1427.6,1888.1 L1429.0,1886.3 L1430.3,1882.3 L1431.7,1879.3 L1433.0,1878.1 L1434.4,1875.9 L1435.7,1873.6 L1437.1,1870.3 L1438.4,1867.8 L1439.8,1866.3 L1441.1,1864.4 L1442.5,1864.3 L1443.8,1863.8 L1445.2,1861.2 L1446.5,1859.2 L1447.9,1856.6 L1449.2,1854.9 L1450.5,1857.5 L1451.9,1856.9 L1453.2,1855.9 L1454.6,1854.4 L1455.9,1853.7 L1457.3,1853.0 L1458.6,1852.4 L1460.0,1850.9 L1461.3,1849.2 L1462.7,1848.5 L1464.0,1848.7 L1465.4,1849.9 L1466.7,1850.8 L1468.1,1850.5 L1469.4,1851.6 L1470.8,1851.6 L1472.1,1852.2 L1473.5,1853.2 L1474.8,1855.6 L1476.2,1857.5 L1477.5,1858.6 L1478.9,1859.5 L1480.2,1859.6 L1481.6,1860.2 L1482.9,1862.0 L1484.2,1862.4 L1485.6,1863.9 L1486.9,1865.8 L1488.3,1868.2 L1489.6,1869.7 L1491.0,1872.0 L1492.3,1873.8 L1493.7,1876.1 L1495.0,1878.1 L1496.4,1880.3 L1497.7,1881.1 L1499.1,1881.4 L1500.4,1883.2 L1501.8,1884.7 L1503.1,1886.7 L1504.5,1888.7 L1505.8,1890.4 L1507.2,1892.0 L1508.5,1896.0 L1509.9,1896.9 L1511.2,1897.3 L1512.6,1901.1 L1513.9,1902.3 L1515.2,1901.8 L1516.6,1903.2 L1517.9,1905.8 L1519.3,1907.0 L1520.6,1909.7 L1522.0,1911.1 L1523.3,1913.3 L1524.7,1913.6 L1526.0,1915.0 L1527.4,1917.8 L1528.7,1919.4 L1530.1,1920.1 L1531.4,1921.3 L1532.8,1924.1 L1534.1,1926.6 L1535.5,1927.3 L1536.8,1929.8 L1538.2,1931.0 L1539.5,1931.9 L1540.9,1934.4 L1542.2,1934.5 L1543.6,1937.7 L1544.9,1940.9 L1546.3,1941.2 L1547.6,1943.7 L1548.9,1945.1 L1550.3,1946.1 L1551.6,1949.1 L1553.0,1949.7 L1554.3,1951.3 L1555.7,1952.6 L1557.0,1955.5 L1558.4,1956.8 L1559.7,1957.4 L1561.1,1959.7 L1562.4,1961.2 L1563.8,1962.7 L1565.1,1964.3 L1566.5,1966.4 L1567.8,1966.7 L1569.2,1968.3 L1570.5,1970.9 L1571.9,1971.2 L1573.2,1971.7 L1574.6,1974.4 L1575.9,1977.3 L1577.3,1979.0 L1578.6,1980.2 L1580.0,1981.7 L1581.3,1982.9 L1582.6,1984.2 L1584.0,1984.8 L1585.3,1987.0 L1586.7,1989.4 L1588.0,1989.6 L1589.4,1992.2 L1590.7,1994.8" stroke="#ff0066" stroke-width="3.3"/>
<path d="M426.5,2275.2 L437.8,2276.9 L449.1,2279.5 L460.4,2280.3 L471.7,2282.6 L483.1,2284.3 L494.4,2285.5 L505.7,2287.1 L517.0,2288.9 L528.3,2289.8 L539.6,2291.6 L550.9,2292.2 L562.2,2293.7 L573.6,2294.8 L584.9,2296.1 L596.2,2296.7 L607.5,2298.1 L618.8,2299.3 L630.1,2300.4 L641.4,2299.8 L652.8,2301.6 L664.1,2302.3 L675.4,2303.1 L686.7,2303.7 L698.0,2304.9 L709.3,2305.3 L720.6,2305.5 L732.0,2306.7 L743.3,2306.4 L754.6,2307.3 L765.9,2307.7 L777.2,2308.4 L788.5,2308.3 L799.8,2309.1 L811.2,2309.9 L822.5,2310.2 L833.8,2309.5 L845.1,2310.8 L856.4,2311.1 L867.7,2310.4 L879.0,2311.7 L890.4,2311.0 L901.7,2311.9 L913.0,2312.1" stroke="#ff0066" stroke-width="5.4"/>
<path d="M904.6,2311.6 L915.6,2312.4 L926.7,2311.9 L937.7,2311.7 L948.7,2312.2 L959.8,2312.0 L970.8,2311.4 L981.9,2311.8 L992.9,2311.1 L1003.9,2311.0 L1015.0,2310.7 L1026.0,2310.5 L1037.0,2309.7 L1048.1,2308.8 L1059.1,2308.5 L1070.1,2307.2 L1081.2,2306.4 L1092.2,2305.0 L1103.3,2303.8 L1114.3,2301.8" stroke="#ff0066" stroke-width="4.6"/>
<path d="M1105.9,2303.1 L1114.3,2301.8 L1122.7,2301.1 L1131.1,2298.8 L1139.5,2297.4 L1147.8,2295.9 L1156.2,2293.8 L1164.6,2291.1 L1173.0,2288.9 L1181.4,2286.3 L1189.8,2284.3 L1198.2,2281.6 L1206.6,2278.3 L1215.0,2274.7" stroke="#ff0066" stroke-width="4.0"/>
<path d="M1206.6,2277.6 L1212.2,2275.5 L1217.7,2273.6 L1223.3,2271.1 L1228.9,2267.7 L1234.5,2265.6 L1240.1,2262.2 L1245.7,2259.4 L1251.3,2256.4 L1256.9,2252.6 L1262.5,2249.6 L1268.1,2245.8 L1273.7,2241.7 L1279.3,2237.0 L1284.9,2233.5 L1290.4,2228.6" stroke="#ff0066" stroke-width="3.6"/>
<path d="M1282.1,2235.3 L1283.4,2234.3 L1284.8,2233.1 L1286.1,2232.0 L1287.4,2230.8 L1288.8,2229.8 L1290.1,2228.8 L1291.5,2227.4 L1292.8,2226.2 L1294.2,2225.6 L1295.5,2224.3 L1296.9,2222.5 L1298.2,2221.3 L1299.6,2220.0 L1300.9,2218.2 L1302.3,2216.7 L1303.6,2215.1 L1305.0,2213.7 L1306.3,2212.6 L1307.7,2211.3 L1309.0,2209.6 L1310.4,2207.7 L1311.7,2206.0 L1313.1,2204.5 L1314.4,2202.4 L1315.8,2200.4 L1317.1,2198.7 L1318.5,2197.0 L1319.8,2195.2 L1321.1,2193.3 L1322.5,2191.3 L1323.8,2189.5 L1325.2,2187.7 L1326.5,2186.3 L1327.9,2184.3 L1329.2,2182.1 L1330.6,2180.2 L1331.9,2178.2 L1333.3,2175.9 L1334.6,2173.4 L1336.0,2171.2 L1337.3,2169.2 L1338.7,2168.0 L1340.0,2165.7 L1341.4,2163.1 L1342.7,2161.2 L1344.1,2158.8 L1345.4,2155.5 L1346.8,2152.5 L1348.1,2150.0 L1349.5,2146.6 L1350.8,2143.0 L1352.1,2139.6 L1353.5,2136.6 L1354.8,2133.2 L1356.2,2129.6 L1357.5,2126.3 L1358.9,2123.5 L1360.2,2120.4 L1361.6,2116.3 L1362.9,2112.3 L1364.3,2109.3 L1365.6,2105.2 L1367.0,2101.9 L1368.3,2098.4 L1369.7,2094.1 L1371.0,2089.4 L1372.4,2085.6 L1373.7,2082.2 L1375.1,2076.9 L1376.4,2071.8 L1377.8,2066.5 L1379.1,2062.4 L1380.5,2057.7 L1381.8,2054.0 L1383.2,2049.8 L1384.5,2043.8 L1385.8,2037.9 L1387.2,2031.9 L1388.5,2026.8 L1389.9,2022.4 L1391.2,2018.4 L1392.6,2012.7 L1393.9,2006.8 L1395.3,2001.6 L1396.6,1996.4 L1398.0,1991.9 L1399.3,1986.6 L1400.7,1979.8 L1402.0,1976.5 L1403.4,1970.6 L1404.7,1965.2 L1406.1,1961.7 L1407.4,1956.7 L1408.8,1950.5 L1410.1,1945.3 L1411.5,1940.4 L1412.8,1936.2 L1414.2,1932.7 L1415.5,1928.8 L1416.9,1922.0 L1418.2,1917.8 L1419.5,1915.2 L1420.9,1913.3 L1422.2,1911.1 L1423.6,1906.8 L1424.9,1902.0 L1426.3,1898.2 L1427.6,1894.3 L1429.0,1893.2 L1430.3,1889.8 L1431.7,1888.5 L1433.0,1887.0 L1434.4,1884.8 L1435.7,1881.9 L1437.1,1877.5 L1438.4,1876.7 L1439.8,1875.6 L1441.1,1872.5 L1442.5,1870.2 L1443.8,1868.9 L1445.2,1867.7 L1446.5,1866.0 L1447.9,1863.8 L1449.2,1863.6 L1450.5,1863.9 L1451.9,1863.4 L1453.2,1863.3 L1454.6,1864.6 L1455.9,1861.0 L1457.3,1857.0 L1458.6,1856.3 L1460.0,1855.2 L1461.3,1857.4 L1462.7,1857.0 L1464.0,1855.0 L1465.4,1852.7 L1466.7,1854.0 L1468.1,1858.2 L1469.4,1860.3 L1470.8,1861.4 L1472.1,1860.9 L1473.5,1862.1 L1474.8,1864.9 L1476.2,1865.4 L1477.5,1865.1 L1478.9,1865.6 L1480.2,1868.8 L1481.6,1868.6 L1482.9,1870.1 L1484.2,1870.2 L1485.6,1871.2 L1486.9,1872.7 L1488.3,1876.0 L1489.6,1878.6 L1491.0,1878.7 L1492.3,1880.6 L1493.7,1884.2 L1495.0,1884.6 L1496.4,1885.4 L1497.7,1888.5 L1499.1,1890.2 L1500.4,1890.9 L1501.8,1891.8 L1503.1,1892.5 L1504.5,1897.1 L1505.8,1900.4 L1507.2,1902.4 L1508.5,1902.0 L1509.9,1902.4 L1511.2,1904.5 L1512.6,1907.0 L1513.9,1908.9 L1515.2,1909.1 L1516.6,1908.9 L1517.9,1911.5 L1519.3,1913.9 L1520.6,1915.9 L1522.0,1916.8 L1523.3,1918.6 L1524.7,1922.0 L1526.0,1923.3 L1527.4,1925.0 L1528.7,1925.3 L1530.1,1926.8 L1531.4,1928.4 L1532.8,1930.1 L1534.1,1932.8 L1535.5,1935.4 L1536.8,1936.5 L1538.2,1936.9 L1539.5,1937.8 L1540.9,1940.3 L1542.2,1943.1 L1543.6,1944.6 L1544.9,1945.6 L1546.3,1945.7 L1547.6,1948.4 L1548.9,1950.3 L1550.3,1952.0 L1551.6,1954.6 L1553.0,1954.9 L1554.3,1957.2 L1555.7,1959.2 L1557.0,1961.1 L1558.4,1962.3 L1559.7,1962.4 L1561.1,1966.1 L1562.4,1967.4 L1563.8,1968.8 L1565.1,1970.0 L1566.5,1971.7 L1567.8,1973.7 L1569.2,1974.3 L1570.5,1976.7 L1571.9,1979.9 L1573.2,1981.1 L1574.6,1980.5 L1575.9,1982.0 L1577.3,1982.0 L1578.6,1983.7 L1580.0,1986.0 L1581.3,1989.3 L1582.6,1990.7 L1584.0,1991.3 L1585.3,1992.7 L1586.7,1995.2 L1588.0,1998.1 L1589.4,1999.6 L1590.7,2001.6" stroke="#ff0066" stroke-width="3.3"/>
</g>
<g font-family="'Liberation Sans', sans-serif" font-weight="bold" fill="#1f1f1f">
<text x="325" y="2378.5" font-size="19" text-anchor="end" textLength="9.6" lengthAdjust="spacingAndGlyphs">0</text>
<text x="325" y="2282.2" font-size="19" text-anchor="end" textLength="53.6" lengthAdjust="spacingAndGlyphs">50.000</text>
<text x="325" y="2186.0" font-size="19" text-anchor="end" textLength="63.2" lengthAdjust="spacingAndGlyphs">100.000</text>
<text x="325" y="2089.8" font-size="19" text-anchor="end" textLength="63.2" lengthAdjust="spacingAndGlyphs">150.000</text>
<text x="325" y="1993.5" font-size="19" text-anchor="end" textLength="63.2" lengthAdjust="spacingAndGlyphs">200.000</text>
<text x="325" y="1897.2" font-size="19" text-anchor="end" textLength="63.2" lengthAdjust="spacingAndGlyphs">250.000</text>
<text x="325" y="1801.0" font-size="19" text-anchor="end" textLength="63.2" lengthAdjust="spacingAndGlyphs">300.000</text>
<text x="325" y="1704.8" font-size="19" text-anchor="end" textLength="63.2" lengthAdjust="spacingAndGlyphs">350.000</text>
<text x="325" y="1608.5" font-size="19" text-anchor="end" textLength="63.2" lengthAdjust="spacingAndGlyphs">400.000</text>
<text x="325" y="1512.2" font-size="19" text-anchor="end" textLength="63.2" lengthAdjust="spacingAndGlyphs">450.000</text>
<text x="342.6" y="2413.8" font-size="25.6" text-anchor="middle" textLength="25.8" lengthAdjust="spacingAndGlyphs">10</text>
<text x="510.4" y="2413.8" font-size="25.6" text-anchor="middle" textLength="25.8" lengthAdjust="spacingAndGlyphs">20</text>
<text x="678.1" y="2413.8" font-size="25.6" text-anchor="middle" textLength="25.8" lengthAdjust="spacingAndGlyphs">30</text>
<text x="845.9" y="2413.8" font-size="25.6" text-anchor="middle" textLength="25.8" lengthAdjust="spacingAndGlyphs">40</text>
<text x="1013.6" y="2413.8" font-size="25.6" text-anchor="middle" textLength="25.8" lengthAdjust="spacingAndGlyphs">50</text>
<text x="1181.4" y="2413.8" font-size="25.6" text-anchor="middle" textLength="25.8" lengthAdjust="spacingAndGlyphs">60</text>
<text x="1349.2" y="2413.8" font-size="25.6" text-anchor="middle" textLength="25.8" lengthAdjust="spacingAndGlyphs">70</text>
<text x="1516.9" y="2413.8" font-size="25.6" text-anchor="middle" textLength="25.8" lengthAdjust="spacingAndGlyphs">80</text>
<text x="1684.7" y="2413.8" font-size="25.6" text-anchor="middle" textLength="25.8" lengthAdjust="spacingAndGlyphs">90</text>
<text x="1013" y="2455.3" font-size="29" text-anchor="middle" textLength="205" lengthAdjust="spacingAndGlyphs">Temperature [°C]</text>
<text transform="translate(249.3,1939.6) rotate(-90)" font-size="30" text-anchor="middle" textLength="279" lengthAdjust="spacingAndGlyphs">Normalized reporter [-]</text>
</g>
</g>
<rect x="691.4" y="1608.5" width="482.9" height="378.1" fill="#ffffff" stroke="#2b2b2b" stroke-width="1.3"/>
<g stroke="#2b2b2b" stroke-width="1.3">
<line x1="691.4" y1="1662.6" x2="1174.3" y2="1662.6"/>
<line x1="691.4" y1="1716.8" x2="1174.3" y2="1716.8"/>
<line x1="691.4" y1="1770.6" x2="1174.3" y2="1770.6"/>
<line x1="691.4" y1="1824.8" x2="1174.3" y2="1824.8"/>
<line x1="691.4" y1="1878.6" x2="1174.3" y2="1878.6"/>
<line x1="691.4" y1="1932.7" x2="1174.3" y2="1932.7"/>
<line x1="1036.5" y1="1608.5" x2="1036.5" y2="1986.6"/>
</g>
<g font-family="'DejaVu Sans', 'Liberation Sans', sans-serif" font-size="22.6" fill="#000000">
<text x="1064.5" y="1642.7"><tspan font-style="italic">T</tspan><tspan font-size="15" dy="5" dx="-2">m</tspan><tspan dy="-5" dx="0.5" letter-spacing="-1.2">(℃)</tspan></text>
<line x1="740.7" y1="1689.7" x2="826.7" y2="1689.7" stroke="#7f7f7f" stroke-width="3.6"/>
<text x="855" y="1696.8" letter-spacing="0.1"><tspan font-family="'DejaVu Sans Mono', 'Liberation Mono', monospace" letter-spacing="-3.4">I</tspan>gA1 #1</text>
<text x="1064.5" y="1696.8" letter-spacing="0.2">73.85</text>
<line x1="740.7" y1="1745.3" x2="826.7" y2="1745.3" stroke="#bfbfbf" stroke-width="3.6"/>
<text x="855" y="1751" letter-spacing="0.1"><tspan font-family="'DejaVu Sans Mono', 'Liberation Mono', monospace" letter-spacing="-3.4">I</tspan>gA1 #2</text>
<text x="1064.5" y="1751" letter-spacing="0.2">73.13</text>
<line x1="740.7" y1="1800.8" x2="826.7" y2="1800.8" stroke="#4ea72e" stroke-width="3.6"/>
<text x="855" y="1805.1" letter-spacing="0.1"><tspan font-family="'DejaVu Sans Mono', 'Liberation Mono', monospace" letter-spacing="-3.4">I</tspan>gA<tspan dx="-4.5">GalNAc</tspan><tspan dx="-3.5">#1</tspan></text>
<text x="1064.5" y="1805.1" letter-spacing="0.2">72.70</text>
<line x1="740.7" y1="1854.1" x2="826.7" y2="1854.1" stroke="#c00000" stroke-width="3.6"/>
<text x="855" y="1858.7" letter-spacing="0.1"><tspan font-family="'DejaVu Sans Mono', 'Liberation Mono', monospace" letter-spacing="-3.4">I</tspan>gA<tspan dx="-4">core1 #1.1</tspan></text>
<text x="1064.5" y="1858.7" letter-spacing="0.2">73.15</text>
<line x1="740.7" y1="1905.7" x2="826.7" y2="1905.7" stroke="#ff0000" stroke-width="3.6"/>
<text x="855" y="1912.8" letter-spacing="0.1"><tspan font-family="'DejaVu Sans Mono', 'Liberation Mono', monospace" letter-spacing="-3.4">I</tspan>gA<tspan dx="-4">core1 #1.2</tspan></text>
<text x="1064.5" y="1912.8" letter-spacing="0.2">73.16</text>
<line x1="740.7" y1="1965.2" x2="826.7" y2="1965.2" stroke="#ff0066" stroke-width="3.6"/>
<text x="855" y="1966.9" letter-spacing="0.1"><tspan font-family="'DejaVu Sans Mono', 'Liberation Mono', monospace" letter-spacing="-3.4">I</tspan>gA<tspan dx="-4">core1 #2</tspan></text>
<text x="1064.5" y="1966.9" letter-spacing="0.2">72.76</text>
</g>
</g>
</svg>
</body>
</html>
